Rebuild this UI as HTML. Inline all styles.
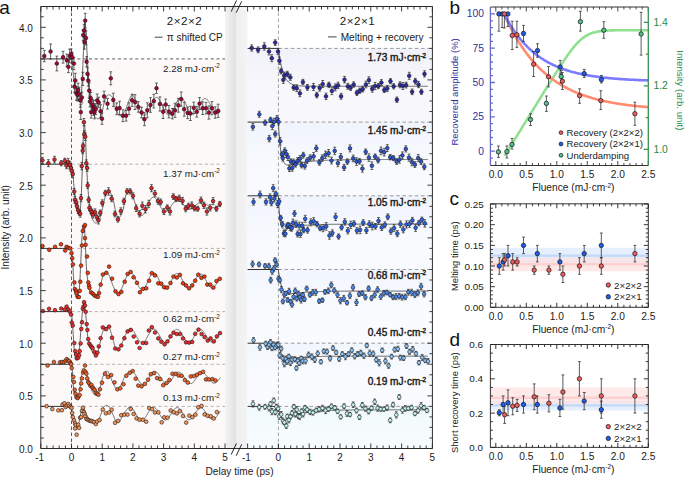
<!DOCTYPE html>
<html><head><meta charset="utf-8"><style>
html,body{margin:0;padding:0;background:#fff;width:685px;height:477px;overflow:hidden}
svg{display:block}
</style></head><body>
<svg width="685" height="477" viewBox="0 0 685 477" font-family='"Liberation Sans", sans-serif'><defs><linearGradient id="gband" x1="0" x2="1" y1="0" y2="0"><stop offset="0" stop-color="#f4f3f3"/><stop offset="0.49" stop-color="#e1e1e1"/><stop offset="0.51" stop-color="#efefef"/><stop offset="1" stop-color="#f4f4f6"/></linearGradient></defs>
<rect x="40.8" y="58.9" width="184.2" height="389.6" fill="#fdf9f8"/>
<rect x="247.6" y="48.4" width="184.8" height="73.7" fill="url(#rb0)"/>
<rect x="247.6" y="122.1" width="184.8" height="73.7" fill="url(#rb1)"/>
<rect x="247.6" y="195.8" width="184.8" height="73.7" fill="url(#rb2)"/>
<rect x="247.6" y="269.5" width="184.8" height="73.7" fill="url(#rb3)"/>
<rect x="247.6" y="343.2" width="184.8" height="63.2" fill="url(#rb4)"/>
<rect x="247.6" y="406.4" width="184.8" height="42.1" fill="url(#rb5)"/>
<defs><linearGradient id="rb0" x1="0" x2="0" y1="0" y2="1"><stop offset="0" stop-color="#f1f1fa"/><stop offset="0.6" stop-color="#f8f8fc"/><stop offset="1" stop-color="#f8f8fc"/></linearGradient><linearGradient id="rb1" x1="0" x2="0" y1="0" y2="1"><stop offset="0" stop-color="#f0f4fc"/><stop offset="0.6" stop-color="#f8fafd"/><stop offset="1" stop-color="#f8fafd"/></linearGradient><linearGradient id="rb2" x1="0" x2="0" y1="0" y2="1"><stop offset="0" stop-color="#f0f4fd"/><stop offset="0.6" stop-color="#f8fafe"/><stop offset="1" stop-color="#f8fafe"/></linearGradient><linearGradient id="rb3" x1="0" x2="0" y1="0" y2="1"><stop offset="0" stop-color="#f2f6fe"/><stop offset="0.6" stop-color="#f9fbfe"/><stop offset="1" stop-color="#f9fbfe"/></linearGradient><linearGradient id="rb4" x1="0" x2="0" y1="0" y2="1"><stop offset="0" stop-color="#f2f7fe"/><stop offset="0.6" stop-color="#f9fbfe"/><stop offset="1" stop-color="#f9fbfe"/></linearGradient><linearGradient id="rb5" x1="0" x2="0" y1="0" y2="1"><stop offset="0" stop-color="#eff9fb"/><stop offset="0.6" stop-color="#f6fcfd"/><stop offset="1" stop-color="#f6fcfd"/></linearGradient></defs>
<rect x="225.0" y="6.5" width="22.599999999999994" height="442.0" fill="url(#gband)"/>
<line x1="71.5" x2="225.0" y1="58.9" y2="58.9" stroke="#3a3a3a" stroke-width="0.8" stroke-dasharray="3.1 2.7"/>
<line x1="71.5" x2="225.0" y1="164.2" y2="164.2" stroke="#a0a0a0" stroke-width="0.8" stroke-dasharray="3.1 2.7"/>
<line x1="71.5" x2="225.0" y1="248.4" y2="248.4" stroke="#a0a0a0" stroke-width="0.8" stroke-dasharray="3.1 2.7"/>
<line x1="71.5" x2="225.0" y1="311.6" y2="311.6" stroke="#a0a0a0" stroke-width="0.8" stroke-dasharray="3.1 2.7"/>
<line x1="71.5" x2="225.0" y1="364.3" y2="364.3" stroke="#a0a0a0" stroke-width="0.8" stroke-dasharray="3.1 2.7"/>
<line x1="71.5" x2="225.0" y1="406.4" y2="406.4" stroke="#a0a0a0" stroke-width="0.8" stroke-dasharray="3.1 2.7"/>
<line x1="278.4" x2="432.4" y1="48.4" y2="48.4" stroke="#909090" stroke-width="0.9" stroke-dasharray="3.6 2.6"/>
<line x1="278.4" x2="432.4" y1="122.1" y2="122.1" stroke="#909090" stroke-width="0.9" stroke-dasharray="3.6 2.6"/>
<line x1="278.4" x2="432.4" y1="195.8" y2="195.8" stroke="#909090" stroke-width="0.9" stroke-dasharray="3.6 2.6"/>
<line x1="278.4" x2="432.4" y1="269.5" y2="269.5" stroke="#909090" stroke-width="0.9" stroke-dasharray="3.6 2.6"/>
<line x1="278.4" x2="432.4" y1="343.2" y2="343.2" stroke="#909090" stroke-width="0.9" stroke-dasharray="3.6 2.6"/>
<line x1="278.4" x2="432.4" y1="406.4" y2="406.4" stroke="#909090" stroke-width="0.9" stroke-dasharray="3.6 2.6"/>
<line x1="71.5" x2="71.5" y1="6.5" y2="448.5" stroke="#333" stroke-width="0.8" stroke-dasharray="3.5 2.5"/>
<line x1="278.4" x2="278.4" y1="6.5" y2="448.5" stroke="#8a8a8a" stroke-width="0.8" stroke-dasharray="3.5 2.5"/>
<text x="219.8" y="71.5" font-size="9.8" text-anchor="end" fill="#1a1a1a">2.28 mJ·cm<tspan font-size="6.3" dy="-3.3">-2</tspan></text>
<text x="219.8" y="176.5" font-size="9.8" text-anchor="end" fill="#1a1a1a">1.37 mJ·cm<tspan font-size="6.3" dy="-3.3">-2</tspan></text>
<text x="219.8" y="258.4" font-size="9.8" text-anchor="end" fill="#1a1a1a">1.09 mJ·cm<tspan font-size="6.3" dy="-3.3">-2</tspan></text>
<text x="219.8" y="321.8" font-size="9.8" text-anchor="end" fill="#1a1a1a">0.62 mJ·cm<tspan font-size="6.3" dy="-3.3">-2</tspan></text>
<text x="219.8" y="360.0" font-size="9.8" text-anchor="end" fill="#1a1a1a">0.27 mJ·cm<tspan font-size="6.3" dy="-3.3">-2</tspan></text>
<text x="219.8" y="401.0" font-size="9.8" text-anchor="end" fill="#1a1a1a">0.13 mJ·cm<tspan font-size="6.3" dy="-3.3">-2</tspan></text>
<text x="426" y="61.1" font-size="10.1" text-anchor="end" fill="#1a1a1a" stroke="#1a1a1a" stroke-width="0.4">1.73 mJ·cm<tspan font-size="6.3" dy="-3.3">-2</tspan></text>
<text x="426" y="134.1" font-size="10.1" text-anchor="end" fill="#1a1a1a" stroke="#1a1a1a" stroke-width="0.4">1.45 mJ·cm<tspan font-size="6.3" dy="-3.3">-2</tspan></text>
<text x="426" y="205.9" font-size="10.1" text-anchor="end" fill="#1a1a1a" stroke="#1a1a1a" stroke-width="0.4">1.05 mJ·cm<tspan font-size="6.3" dy="-3.3">-2</tspan></text>
<text x="426" y="278.6" font-size="10.1" text-anchor="end" fill="#1a1a1a" stroke="#1a1a1a" stroke-width="0.4">0.68 mJ·cm<tspan font-size="6.3" dy="-3.3">-2</tspan></text>
<text x="426" y="335.8" font-size="10.1" text-anchor="end" fill="#1a1a1a" stroke="#1a1a1a" stroke-width="0.4">0.45 mJ·cm<tspan font-size="6.3" dy="-3.3">-2</tspan></text>
<text x="426" y="385.0" font-size="10.1" text-anchor="end" fill="#1a1a1a" stroke="#1a1a1a" stroke-width="0.4">0.19 mJ·cm<tspan font-size="6.3" dy="-3.3">-2</tspan></text>
<line x1="40.8" x2="71.5" y1="58.9" y2="58.9" stroke="#333" stroke-width="1"/>
<polyline fill="none" points="71.5,58.9 71.7,61.2 72.0,63.4 72.2,65.5 72.5,67.6 72.7,69.7 73.0,71.7 73.2,73.6 73.5,75.5 73.7,77.3 74.0,79.1 74.2,80.8 74.5,82.5 74.7,84.2 75.0,85.9 75.2,87.5 75.5,89.0 75.7,90.4 76.0,91.7 76.2,92.9 76.5,93.9 76.7,94.8 77.0,95.7 77.2,96.5 77.5,97.3 77.7,98.1 78.0,98.7 78.2,99.2 78.5,99.7 78.7,100.0 79.0,100.2 79.2,100.4 79.5,100.5 79.7,100.7 80.0,100.8 80.2,100.9 80.4,101.0 80.7,101.0 80.9,100.2 81.2,97.9 81.4,94.4 81.7,90.0 81.9,85.1 82.2,79.9 82.4,74.8 82.7,69.9 82.9,64.3 83.2,58.1 83.4,51.6 83.7,45.3 83.9,39.2 84.2,33.7 84.4,27.4 84.7,22.4 84.9,21.1 85.2,22.5 85.4,25.0 85.7,27.8 85.9,31.5 86.2,35.9 86.4,40.7 86.7,45.3 86.9,50.2 87.2,55.1 87.4,60.0 87.7,64.7 87.9,69.6 88.2,74.6 88.4,79.3 88.7,83.5 88.9,87.2 89.1,90.1 89.4,92.8 89.6,95.3 89.9,97.7 90.1,99.9 90.4,101.9 90.6,103.7 90.9,105.3 91.1,106.6 91.4,107.7 91.6,108.7 91.9,109.6 92.1,110.5 92.4,111.4 92.6,112.2 92.9,112.9 93.1,113.6 93.4,114.3 93.6,114.8 93.9,115.4 94.1,115.8 94.4,116.2 94.6,116.6 94.9,116.8 95.1,117.1 95.4,117.3 95.6,117.6 95.9,117.8 96.1,118.0 96.4,118.2 96.6,118.3 96.9,118.5 97.1,118.6 97.4,118.7 97.6,118.8 97.8,118.9 98.1,118.9 98.3,118.9 98.6,118.8 98.8,118.6 99.1,118.4 99.3,118.1 99.6,117.7 99.8,117.3 100.1,116.9 100.3,116.4 100.6,115.9 100.8,115.3 101.1,114.8 101.3,114.2 101.6,113.7 101.8,113.0 102.1,112.2 102.3,111.2 102.6,110.1 102.8,109.0 103.1,107.8 103.3,106.5 103.6,105.3 103.8,104.1 104.1,103.0 104.3,102.0 104.6,101.1 104.8,100.3 105.1,99.8 105.3,99.2 105.6,98.7 105.8,98.2 106.1,97.7 106.3,97.2 106.5,96.8 106.8,96.4 107.0,96.0 107.3,95.6 107.5,95.3 107.8,95.1 108.0,94.9 108.3,94.8 108.5,94.7 108.8,94.7 109.0,94.7 109.3,94.8 109.5,94.9 109.8,95.0 110.0,95.1 110.3,95.3 110.5,95.4 110.8,95.6 111.0,95.8 111.3,96.1 111.5,96.3 111.8,96.5 112.0,96.8 112.3,97.1 112.5,97.6 112.8,98.3 113.0,99.0 113.3,99.8 113.5,100.7 113.8,101.7 114.0,102.7 114.3,103.6 114.5,104.5 114.8,105.4 115.0,106.2 115.2,106.9 115.5,107.6 115.7,108.2 116.0,108.8 116.2,109.4 116.5,110.0 116.7,110.6 117.0,111.2 117.2,111.8 117.5,112.4 117.7,113.0 118.0,113.5 118.2,113.9 118.5,114.4 118.7,114.8 119.0,115.1 119.2,115.4 119.5,115.6 119.7,115.7 120.0,115.8 120.2,115.7 120.5,115.7 120.7,115.6 121.0,115.5 121.2,115.3 121.5,115.2 121.7,115.0 122.0,114.8 122.2,114.5 122.5,114.3 122.7,114.0 123.0,113.7 123.2,113.4 123.5,113.1 123.7,112.8 123.9,112.4 124.2,112.1 124.4,111.8 124.7,111.4 124.9,111.0 125.2,110.6 125.4,110.0 125.7,109.5 125.9,108.9 126.2,108.2 126.4,107.5 126.7,106.8 126.9,106.1 127.2,105.3 127.4,104.6 127.7,103.9 127.9,103.2 128.2,102.5 128.4,101.8 128.7,101.2 128.9,100.6 129.2,100.1 129.4,99.5 129.7,99.0 129.9,98.4 130.2,97.9 130.4,97.3 130.7,96.7 130.9,96.2 131.2,95.8 131.4,95.4 131.7,95.1 131.9,94.8 132.2,94.7 132.4,94.7 132.6,94.8 132.9,95.0 133.1,95.3 133.4,95.7 133.6,96.1 133.9,96.6 134.1,97.2 134.4,97.7 134.6,98.2 134.9,98.8 135.1,99.3 135.4,99.7 135.6,100.2 135.9,100.7 136.1,101.2 136.4,101.7 136.6,102.2 136.9,102.8 137.1,103.3 137.4,103.9 137.6,104.5 137.9,105.1 138.1,105.7 138.4,106.3 138.6,106.9 138.9,107.5 139.1,108.1 139.4,108.7 139.6,109.3 139.9,109.8 140.1,110.3 140.4,110.9 140.6,111.4 140.9,111.9 141.1,112.3 141.3,112.8 141.6,113.2 141.8,113.5 142.1,113.9 142.3,114.2 142.6,114.5 142.8,114.8 143.1,114.9 143.3,115.1 143.6,115.2 143.8,115.3 144.1,115.4 144.3,115.4 144.6,115.4 144.8,115.4 145.1,115.3 145.3,115.2 145.6,115.0 145.8,114.8 146.1,114.6 146.3,114.3 146.6,114.0 146.8,113.7 147.1,113.3 147.3,112.9 147.6,112.5 147.8,112.1 148.1,111.6 148.3,111.1 148.6,110.6 148.8,110.1 149.1,109.5 149.3,109.0 149.6,108.4 149.8,107.9 150.0,107.3 150.3,106.7 150.5,106.1 150.8,105.5 151.0,105.0 151.3,104.4 151.5,103.8 151.8,103.3 152.0,102.7 152.3,102.2 152.5,101.7 152.8,101.2 153.0,100.8 153.3,100.3 153.5,99.9 153.8,99.5 154.0,99.2 154.3,98.8 154.5,98.5 154.8,98.2 155.0,98.0 155.3,97.8 155.5,97.7 155.8,97.6 156.0,97.6 156.3,97.5 156.5,97.5 156.8,97.4 157.0,97.5 157.3,97.5 157.5,97.7 157.8,97.9 158.0,98.1 158.3,98.3 158.5,98.5 158.7,98.8 159.0,99.2 159.2,99.5 159.5,99.9 159.7,100.3 160.0,100.8 160.2,101.2 160.5,101.7 160.7,102.2 161.0,102.7 161.2,103.2 161.5,103.8 161.7,104.3 162.0,104.9 162.2,105.4 162.5,106.0 162.7,106.6 163.0,107.1 163.2,107.7 163.5,108.2 163.7,108.8 164.0,109.3 164.2,109.8 164.5,110.3 164.7,110.8 165.0,111.2 165.2,111.7 165.5,112.1 165.7,112.5 166.0,112.9 166.2,113.2 166.5,113.5 166.7,113.8 167.0,114.1 167.2,114.3 167.4,114.5 167.7,114.6 167.9,114.6 168.2,114.7 168.4,114.7 168.7,114.8 168.9,114.8 169.2,114.8 169.4,114.7 169.7,114.6 169.9,114.4 170.2,114.2 170.4,113.9 170.7,113.7 170.9,113.4 171.2,113.1 171.4,112.7 171.7,112.3 171.9,111.9 172.2,111.5 172.4,111.1 172.7,110.6 172.9,110.1 173.2,109.6 173.4,109.1 173.7,108.6 173.9,108.1 174.2,107.5 174.4,107.0 174.7,106.4 174.9,105.9 175.2,105.3 175.4,104.8 175.7,104.3 175.9,103.8 176.1,103.2 176.4,102.7 176.6,102.3 176.9,101.8 177.1,101.4 177.4,100.9 177.6,100.5 177.9,100.1 178.1,99.8 178.4,99.5 178.6,99.2 178.9,98.9 179.1,98.6 179.4,98.4 179.6,98.3 179.9,98.2 180.1,98.2 180.4,98.1 180.6,98.1 180.9,98.1 181.1,98.1 181.4,98.1 181.6,98.1 181.9,98.2 182.1,98.4 182.4,98.7 182.6,98.9 182.9,99.2 183.1,99.4 183.4,99.8 183.6,100.1 183.9,100.5 184.1,100.9 184.4,101.3 184.6,101.7 184.8,102.2 185.1,102.7 185.3,103.1 185.6,103.7 185.8,104.2 186.1,104.7 186.3,105.2 186.6,105.7 186.8,106.2 187.1,106.8 187.3,107.3 187.6,107.8 187.8,108.3 188.1,108.8 188.3,109.3 188.6,109.8 188.8,110.3 189.1,110.7 189.3,111.1 189.6,111.5 189.8,111.9 190.1,112.3 190.3,112.6 190.6,112.9 190.8,113.2 191.1,113.4 191.3,113.7 191.6,113.9 191.8,114.1 192.1,114.2 192.3,114.2 192.6,114.2 192.8,114.2 193.1,114.2 193.3,114.2 193.5,114.1 193.8,114.1 194.0,114.0 194.3,113.8 194.5,113.6 194.8,113.4 195.0,113.1 195.3,112.8 195.5,112.5 195.8,112.2 196.0,111.8 196.3,111.4 196.5,111.0 196.8,110.6 197.0,110.1 197.3,109.7 197.5,109.2 197.8,108.7 198.0,108.2 198.3,107.7 198.5,107.2 198.8,106.7 199.0,106.2 199.3,105.7 199.5,105.2 199.8,104.7 200.0,104.2 200.3,103.7 200.5,103.2 200.8,102.8 201.0,102.3 201.3,101.9 201.5,101.5 201.8,101.1 202.0,100.7 202.2,100.4 202.5,100.1 202.7,99.8 203.0,99.5 203.2,99.3 203.5,99.1 203.7,98.9 204.0,98.7 204.2,98.6 204.5,98.6 204.7,98.6 205.0,98.6 205.2,98.6 205.5,98.7 205.7,98.7 206.0,98.7 206.2,98.8 206.5,99.0 206.7,99.2 207.0,99.5 207.2,99.7 207.5,100.0 207.7,100.3 208.0,100.6 208.2,101.0 208.5,101.4 208.7,101.8 209.0,102.2 209.2,102.6 209.5,103.1 209.7,103.5 210.0,104.0 210.2,104.5 210.5,105.0 210.7,105.5 210.9,106.0 211.2,106.4 211.4,106.9 211.7,107.4 211.9,107.9 212.2,108.4 212.4,108.8 212.7,109.3 212.9,109.8 213.2,110.2 213.4,110.6 213.7,111.0 213.9,111.3 214.2,111.7 214.4,112.0 214.7,112.4 214.9,112.6 215.2,112.9 215.4,113.1 215.7,113.3 215.9,113.4 216.2,113.6 216.4,113.7 216.7,113.8 216.9,113.8 217.2,113.7 217.4,113.7 217.7,113.6 217.9,113.6 218.2,113.5 218.4,113.4 218.7,113.3 218.9,113.1 219.2,112.8 219.4,112.5 219.6,112.3 219.9,112.0 220.1,111.6 220.4,111.3" stroke="#666" stroke-width="1"/>
<path d="M44.3 50.3V61.7M42.9 50.3h2.8M42.9 61.7h2.8" stroke="#333" stroke-width="0.75" fill="none"/><path d="M50.6 44.0V59.0M49.2 44.0h2.8M49.2 59.0h2.8" stroke="#333" stroke-width="0.75" fill="none"/><path d="M56.8 56.1V70.9M55.4 56.1h2.8M55.4 70.9h2.8" stroke="#333" stroke-width="0.75" fill="none"/><path d="M63.1 51.3V63.1M61.7 51.3h2.8M61.7 63.1h2.8" stroke="#333" stroke-width="0.75" fill="none"/><path d="M66.9 54.1V66.5M65.5 54.1h2.8M65.5 66.5h2.8" stroke="#333" stroke-width="0.75" fill="none"/><path d="M68.4 61.0V72.6M67.0 61.0h2.8M67.0 72.6h2.8" stroke="#333" stroke-width="0.75" fill="none"/><path d="M69.6 49.1V62.9M68.2 49.1h2.8M68.2 62.9h2.8" stroke="#333" stroke-width="0.75" fill="none"/><path d="M71.2 49.0V59.4M69.8 49.0h2.8M69.8 59.4h2.8" stroke="#333" stroke-width="0.75" fill="none"/><path d="M72.2 52.0V62.4M70.8 52.0h2.8M70.8 62.4h2.8" stroke="#333" stroke-width="0.75" fill="none"/><path d="M73.9 57.4V69.6M72.5 57.4h2.8M72.5 69.6h2.8" stroke="#333" stroke-width="0.75" fill="none"/><path d="M74.4 80.9V92.3M73.0 80.9h2.8M73.0 92.3h2.8" stroke="#333" stroke-width="0.75" fill="none"/><path d="M75.3 73.3V87.7M73.9 73.3h2.8M73.9 87.7h2.8" stroke="#333" stroke-width="0.75" fill="none"/><path d="M76.4 86.4V100.2M75.0 86.4h2.8M75.0 100.2h2.8" stroke="#333" stroke-width="0.75" fill="none"/><path d="M77.4 88.1V100.9M76.0 88.1h2.8M76.0 100.9h2.8" stroke="#333" stroke-width="0.75" fill="none"/><path d="M78.1 83.2V96.6M76.7 83.2h2.8M76.7 96.6h2.8" stroke="#333" stroke-width="0.75" fill="none"/><path d="M79.1 87.2V100.8M77.7 87.2h2.8M77.7 100.8h2.8" stroke="#333" stroke-width="0.75" fill="none"/><path d="M80.3 93.3V107.3M78.9 93.3h2.8M78.9 107.3h2.8" stroke="#333" stroke-width="0.75" fill="none"/><path d="M80.8 104.7V119.5M79.4 104.7h2.8M79.4 119.5h2.8" stroke="#333" stroke-width="0.75" fill="none"/><path d="M81.9 92.1V102.9M80.5 92.1h2.8M80.5 102.9h2.8" stroke="#333" stroke-width="0.75" fill="none"/><path d="M82.8 72.3V85.5M81.4 72.3h2.8M81.4 85.5h2.8" stroke="#333" stroke-width="0.75" fill="none"/><path d="M83.2 29.7V40.5M81.8 29.7h2.8M81.8 40.5h2.8" stroke="#333" stroke-width="0.75" fill="none"/><path d="M84.0 24.3V36.7M82.6 24.3h2.8M82.6 36.7h2.8" stroke="#333" stroke-width="0.75" fill="none"/><path d="M84.5 35.2V49.2M83.1 35.2h2.8M83.1 49.2h2.8" stroke="#333" stroke-width="0.75" fill="none"/><path d="M85.2 13.3V27.9M83.8 13.3h2.8M83.8 27.9h2.8" stroke="#333" stroke-width="0.75" fill="none"/><path d="M86.0 31.0V45.0M84.6 31.0h2.8M84.6 45.0h2.8" stroke="#333" stroke-width="0.75" fill="none"/><path d="M86.6 56.6V66.8M85.2 56.6h2.8M85.2 66.8h2.8" stroke="#333" stroke-width="0.75" fill="none"/><path d="M87.5 67.8V79.8M86.1 67.8h2.8M86.1 79.8h2.8" stroke="#333" stroke-width="0.75" fill="none"/><path d="M88.3 75.2V86.2M86.9 75.2h2.8M86.9 86.2h2.8" stroke="#333" stroke-width="0.75" fill="none"/><path d="M89.2 83.0V98.2M87.8 83.0h2.8M87.8 98.2h2.8" stroke="#333" stroke-width="0.75" fill="none"/><path d="M90.0 96.1V106.9M88.6 96.1h2.8M88.6 106.9h2.8" stroke="#333" stroke-width="0.75" fill="none"/><path d="M90.7 92.5V103.9M89.3 92.5h2.8M89.3 103.9h2.8" stroke="#333" stroke-width="0.75" fill="none"/><path d="M91.2 106.1V118.1M89.8 106.1h2.8M89.8 118.1h2.8" stroke="#333" stroke-width="0.75" fill="none"/><path d="M92.8 99.7V110.1M91.4 99.7h2.8M91.4 110.1h2.8" stroke="#333" stroke-width="0.75" fill="none"/><path d="M93.6 100.7V115.3M92.2 100.7h2.8M92.2 115.3h2.8" stroke="#333" stroke-width="0.75" fill="none"/><path d="M94.5 105.4V118.8M93.1 105.4h2.8M93.1 118.8h2.8" stroke="#333" stroke-width="0.75" fill="none"/><path d="M95.7 103.6V114.6M94.3 103.6h2.8M94.3 114.6h2.8" stroke="#333" stroke-width="0.75" fill="none"/><path d="M97.2 94.0V106.6M95.8 94.0h2.8M95.8 106.6h2.8" stroke="#333" stroke-width="0.75" fill="none"/><path d="M98.7 97.2V107.8M97.3 97.2h2.8M97.3 107.8h2.8" stroke="#333" stroke-width="0.75" fill="none"/><path d="M100.6 104.7V117.9M99.2 104.7h2.8M99.2 117.9h2.8" stroke="#333" stroke-width="0.75" fill="none"/><path d="M102.0 113.1V124.3M100.6 113.1h2.8M100.6 124.3h2.8" stroke="#333" stroke-width="0.75" fill="none"/><path d="M104.1 91.2V101.6M102.7 91.2h2.8M102.7 101.6h2.8" stroke="#333" stroke-width="0.75" fill="none"/><path d="M107.5 98.4V109.0M106.1 98.4h2.8M106.1 109.0h2.8" stroke="#333" stroke-width="0.75" fill="none"/><path d="M110.8 71.8V84.8M109.4 71.8h2.8M109.4 84.8h2.8" stroke="#333" stroke-width="0.75" fill="none"/><path d="M113.3 93.2V106.6M111.9 93.2h2.8M111.9 106.6h2.8" stroke="#333" stroke-width="0.75" fill="none"/><path d="M116.7 102.9V114.7M115.3 102.9h2.8M115.3 114.7h2.8" stroke="#333" stroke-width="0.75" fill="none"/><path d="M119.6 101.3V114.7M118.2 101.3h2.8M118.2 114.7h2.8" stroke="#333" stroke-width="0.75" fill="none"/><path d="M122.9 109.8V121.6M121.5 109.8h2.8M121.5 121.6h2.8" stroke="#333" stroke-width="0.75" fill="none"/><path d="M126.1 110.3V121.1M124.7 110.3h2.8M124.7 121.1h2.8" stroke="#333" stroke-width="0.75" fill="none"/><path d="M129.0 102.8V114.6M127.6 102.8h2.8M127.6 114.6h2.8" stroke="#333" stroke-width="0.75" fill="none"/><path d="M132.1 94.2V106.4M130.7 94.2h2.8M130.7 106.4h2.8" stroke="#333" stroke-width="0.75" fill="none"/><path d="M135.0 94.7V109.5M133.6 94.7h2.8M133.6 109.5h2.8" stroke="#333" stroke-width="0.75" fill="none"/><path d="M138.3 101.6V112.2M136.9 101.6h2.8M136.9 112.2h2.8" stroke="#333" stroke-width="0.75" fill="none"/><path d="M141.6 107.2V117.8M140.2 107.2h2.8M140.2 117.8h2.8" stroke="#333" stroke-width="0.75" fill="none"/><path d="M144.4 112.7V125.7M143.0 112.7h2.8M143.0 125.7h2.8" stroke="#333" stroke-width="0.75" fill="none"/><path d="M147.3 102.8V117.8M145.9 102.8h2.8M145.9 117.8h2.8" stroke="#333" stroke-width="0.75" fill="none"/><path d="M150.5 97.7V112.3M149.1 97.7h2.8M149.1 112.3h2.8" stroke="#333" stroke-width="0.75" fill="none"/><path d="M153.8 94.3V107.9M152.4 94.3h2.8M152.4 107.9h2.8" stroke="#333" stroke-width="0.75" fill="none"/><path d="M156.5 83.0V93.4M155.1 83.0h2.8M155.1 93.4h2.8" stroke="#333" stroke-width="0.75" fill="none"/><path d="M159.9 96.9V111.1M158.5 96.9h2.8M158.5 111.1h2.8" stroke="#333" stroke-width="0.75" fill="none"/><path d="M163.1 104.9V118.5M161.7 104.9h2.8M161.7 118.5h2.8" stroke="#333" stroke-width="0.75" fill="none"/><path d="M165.7 99.1V109.9M164.3 99.1h2.8M164.3 109.9h2.8" stroke="#333" stroke-width="0.75" fill="none"/><path d="M168.9 105.5V117.9M167.5 105.5h2.8M167.5 117.9h2.8" stroke="#333" stroke-width="0.75" fill="none"/><path d="M172.3 108.5V118.9M170.9 108.5h2.8M170.9 118.9h2.8" stroke="#333" stroke-width="0.75" fill="none"/><path d="M175.0 103.2V117.4M173.6 103.2h2.8M173.6 117.4h2.8" stroke="#333" stroke-width="0.75" fill="none"/><path d="M178.3 98.4V112.2M176.9 98.4h2.8M176.9 112.2h2.8" stroke="#333" stroke-width="0.75" fill="none"/><path d="M181.2 92.0V106.2M179.8 92.0h2.8M179.8 106.2h2.8" stroke="#333" stroke-width="0.75" fill="none"/><path d="M184.2 102.2V116.2M182.8 102.2h2.8M182.8 116.2h2.8" stroke="#333" stroke-width="0.75" fill="none"/><path d="M187.6 107.2V118.6M186.2 107.2h2.8M186.2 118.6h2.8" stroke="#333" stroke-width="0.75" fill="none"/><path d="M190.4 106.3V120.5M189.0 106.3h2.8M189.0 120.5h2.8" stroke="#333" stroke-width="0.75" fill="none"/><path d="M193.8 102.1V113.5M192.4 102.1h2.8M192.4 113.5h2.8" stroke="#333" stroke-width="0.75" fill="none"/><path d="M196.8 106.3V117.1M195.4 106.3h2.8M195.4 117.1h2.8" stroke="#333" stroke-width="0.75" fill="none"/><path d="M199.6 97.6V109.6M198.2 97.6h2.8M198.2 109.6h2.8" stroke="#333" stroke-width="0.75" fill="none"/><path d="M202.7 101.9V114.5M201.3 101.9h2.8M201.3 114.5h2.8" stroke="#333" stroke-width="0.75" fill="none"/><path d="M206.0 102.4V114.0M204.6 102.4h2.8M204.6 114.0h2.8" stroke="#333" stroke-width="0.75" fill="none"/><path d="M208.9 105.9V119.1M207.5 105.9h2.8M207.5 119.1h2.8" stroke="#333" stroke-width="0.75" fill="none"/><path d="M211.9 101.6V114.8M210.5 101.6h2.8M210.5 114.8h2.8" stroke="#333" stroke-width="0.75" fill="none"/><path d="M215.2 106.8V118.2M213.8 106.8h2.8M213.8 118.2h2.8" stroke="#333" stroke-width="0.75" fill="none"/><path d="M218.1 104.2V117.4M216.7 104.2h2.8M216.7 117.4h2.8" stroke="#333" stroke-width="0.75" fill="none"/><circle cx="44.3" cy="56.0" r="1.85" fill="#ad0036" stroke="#151515" stroke-width="0.6"/><circle cx="50.6" cy="51.5" r="1.85" fill="#ad0036" stroke="#151515" stroke-width="0.6"/><circle cx="56.8" cy="63.5" r="1.85" fill="#ad0036" stroke="#151515" stroke-width="0.6"/><circle cx="63.1" cy="57.2" r="1.85" fill="#ad0036" stroke="#151515" stroke-width="0.6"/><circle cx="66.9" cy="60.3" r="1.85" fill="#ad0036" stroke="#151515" stroke-width="0.6"/><circle cx="68.4" cy="66.8" r="1.85" fill="#ad0036" stroke="#151515" stroke-width="0.6"/><circle cx="69.6" cy="56.0" r="1.85" fill="#ad0036" stroke="#151515" stroke-width="0.6"/><circle cx="71.2" cy="54.2" r="1.85" fill="#ad0036" stroke="#151515" stroke-width="0.6"/><circle cx="72.2" cy="57.2" r="1.85" fill="#ad0036" stroke="#151515" stroke-width="0.6"/><circle cx="73.9" cy="63.5" r="1.85" fill="#ad0036" stroke="#151515" stroke-width="0.6"/><circle cx="74.4" cy="86.6" r="1.85" fill="#ad0036" stroke="#151515" stroke-width="0.6"/><circle cx="75.3" cy="80.5" r="1.85" fill="#ad0036" stroke="#151515" stroke-width="0.6"/><circle cx="76.4" cy="93.3" r="1.85" fill="#ad0036" stroke="#151515" stroke-width="0.6"/><circle cx="77.4" cy="94.5" r="1.85" fill="#ad0036" stroke="#151515" stroke-width="0.6"/><circle cx="78.1" cy="89.9" r="1.85" fill="#ad0036" stroke="#151515" stroke-width="0.6"/><circle cx="79.1" cy="94.0" r="1.85" fill="#ad0036" stroke="#151515" stroke-width="0.6"/><circle cx="80.3" cy="100.3" r="1.85" fill="#ad0036" stroke="#151515" stroke-width="0.6"/><circle cx="80.8" cy="112.1" r="1.85" fill="#ad0036" stroke="#151515" stroke-width="0.6"/><circle cx="81.9" cy="97.5" r="1.85" fill="#ad0036" stroke="#151515" stroke-width="0.6"/><circle cx="82.8" cy="78.9" r="1.85" fill="#ad0036" stroke="#151515" stroke-width="0.6"/><circle cx="83.2" cy="35.1" r="1.85" fill="#ad0036" stroke="#151515" stroke-width="0.6"/><circle cx="84.0" cy="30.5" r="1.85" fill="#ad0036" stroke="#151515" stroke-width="0.6"/><circle cx="84.5" cy="42.2" r="1.85" fill="#ad0036" stroke="#151515" stroke-width="0.6"/><circle cx="85.2" cy="20.6" r="1.85" fill="#ad0036" stroke="#151515" stroke-width="0.6"/><circle cx="86.0" cy="38.0" r="1.85" fill="#ad0036" stroke="#151515" stroke-width="0.6"/><circle cx="86.6" cy="61.7" r="1.85" fill="#ad0036" stroke="#151515" stroke-width="0.6"/><circle cx="87.5" cy="73.8" r="1.85" fill="#ad0036" stroke="#151515" stroke-width="0.6"/><circle cx="88.3" cy="80.7" r="1.85" fill="#ad0036" stroke="#151515" stroke-width="0.6"/><circle cx="89.2" cy="90.6" r="1.85" fill="#ad0036" stroke="#151515" stroke-width="0.6"/><circle cx="90.0" cy="101.5" r="1.85" fill="#ad0036" stroke="#151515" stroke-width="0.6"/><circle cx="90.7" cy="98.2" r="1.85" fill="#ad0036" stroke="#151515" stroke-width="0.6"/><circle cx="91.2" cy="112.1" r="1.85" fill="#ad0036" stroke="#151515" stroke-width="0.6"/><circle cx="92.8" cy="104.9" r="1.85" fill="#ad0036" stroke="#151515" stroke-width="0.6"/><circle cx="93.6" cy="108.0" r="1.85" fill="#ad0036" stroke="#151515" stroke-width="0.6"/><circle cx="94.5" cy="112.1" r="1.85" fill="#ad0036" stroke="#151515" stroke-width="0.6"/><circle cx="95.7" cy="109.1" r="1.85" fill="#ad0036" stroke="#151515" stroke-width="0.6"/><circle cx="97.2" cy="100.3" r="1.85" fill="#ad0036" stroke="#151515" stroke-width="0.6"/><circle cx="98.7" cy="102.5" r="1.85" fill="#ad0036" stroke="#151515" stroke-width="0.6"/><circle cx="100.6" cy="111.3" r="1.85" fill="#ad0036" stroke="#151515" stroke-width="0.6"/><circle cx="102.0" cy="118.7" r="1.85" fill="#ad0036" stroke="#151515" stroke-width="0.6"/><circle cx="104.1" cy="96.4" r="1.85" fill="#ad0036" stroke="#151515" stroke-width="0.6"/><circle cx="107.5" cy="103.7" r="1.85" fill="#ad0036" stroke="#151515" stroke-width="0.6"/><circle cx="110.8" cy="78.3" r="1.85" fill="#ad0036" stroke="#151515" stroke-width="0.6"/><circle cx="113.3" cy="99.9" r="1.85" fill="#ad0036" stroke="#151515" stroke-width="0.6"/><circle cx="116.7" cy="108.8" r="1.85" fill="#ad0036" stroke="#151515" stroke-width="0.6"/><circle cx="119.6" cy="108.0" r="1.85" fill="#ad0036" stroke="#151515" stroke-width="0.6"/><circle cx="122.9" cy="115.7" r="1.85" fill="#ad0036" stroke="#151515" stroke-width="0.6"/><circle cx="126.1" cy="115.7" r="1.85" fill="#ad0036" stroke="#151515" stroke-width="0.6"/><circle cx="129.0" cy="108.7" r="1.85" fill="#ad0036" stroke="#151515" stroke-width="0.6"/><circle cx="132.1" cy="100.3" r="1.85" fill="#ad0036" stroke="#151515" stroke-width="0.6"/><circle cx="135.0" cy="102.1" r="1.85" fill="#ad0036" stroke="#151515" stroke-width="0.6"/><circle cx="138.3" cy="106.9" r="1.85" fill="#ad0036" stroke="#151515" stroke-width="0.6"/><circle cx="141.6" cy="112.5" r="1.85" fill="#ad0036" stroke="#151515" stroke-width="0.6"/><circle cx="144.4" cy="119.2" r="1.85" fill="#ad0036" stroke="#151515" stroke-width="0.6"/><circle cx="147.3" cy="110.3" r="1.85" fill="#ad0036" stroke="#151515" stroke-width="0.6"/><circle cx="150.5" cy="105.0" r="1.85" fill="#ad0036" stroke="#151515" stroke-width="0.6"/><circle cx="153.8" cy="101.1" r="1.85" fill="#ad0036" stroke="#151515" stroke-width="0.6"/><circle cx="156.5" cy="88.2" r="1.85" fill="#ad0036" stroke="#151515" stroke-width="0.6"/><circle cx="159.9" cy="104.0" r="1.85" fill="#ad0036" stroke="#151515" stroke-width="0.6"/><circle cx="163.1" cy="111.7" r="1.85" fill="#ad0036" stroke="#151515" stroke-width="0.6"/><circle cx="165.7" cy="104.5" r="1.85" fill="#ad0036" stroke="#151515" stroke-width="0.6"/><circle cx="168.9" cy="111.7" r="1.85" fill="#ad0036" stroke="#151515" stroke-width="0.6"/><circle cx="172.3" cy="113.7" r="1.85" fill="#ad0036" stroke="#151515" stroke-width="0.6"/><circle cx="175.0" cy="110.3" r="1.85" fill="#ad0036" stroke="#151515" stroke-width="0.6"/><circle cx="178.3" cy="105.3" r="1.85" fill="#ad0036" stroke="#151515" stroke-width="0.6"/><circle cx="181.2" cy="99.1" r="1.85" fill="#ad0036" stroke="#151515" stroke-width="0.6"/><circle cx="184.2" cy="109.2" r="1.85" fill="#ad0036" stroke="#151515" stroke-width="0.6"/><circle cx="187.6" cy="112.9" r="1.85" fill="#ad0036" stroke="#151515" stroke-width="0.6"/><circle cx="190.4" cy="113.4" r="1.85" fill="#ad0036" stroke="#151515" stroke-width="0.6"/><circle cx="193.8" cy="107.8" r="1.85" fill="#ad0036" stroke="#151515" stroke-width="0.6"/><circle cx="196.8" cy="111.7" r="1.85" fill="#ad0036" stroke="#151515" stroke-width="0.6"/><circle cx="199.6" cy="103.6" r="1.85" fill="#ad0036" stroke="#151515" stroke-width="0.6"/><circle cx="202.7" cy="108.2" r="1.85" fill="#ad0036" stroke="#151515" stroke-width="0.6"/><circle cx="206.0" cy="108.2" r="1.85" fill="#ad0036" stroke="#151515" stroke-width="0.6"/><circle cx="208.9" cy="112.5" r="1.85" fill="#ad0036" stroke="#151515" stroke-width="0.6"/><circle cx="211.9" cy="108.2" r="1.85" fill="#ad0036" stroke="#151515" stroke-width="0.6"/><circle cx="215.2" cy="112.5" r="1.85" fill="#ad0036" stroke="#151515" stroke-width="0.6"/><circle cx="218.1" cy="110.8" r="1.85" fill="#ad0036" stroke="#151515" stroke-width="0.6"/>
<line x1="40.8" x2="71.5" y1="164.2" y2="164.2" stroke="#333" stroke-width="1"/>
<polyline fill="none" points="71.5,164.2 71.7,165.8 72.0,167.5 72.2,169.3 72.5,171.2 72.7,173.2 73.0,175.4 73.2,177.8 73.5,180.5 73.7,183.5 74.0,186.5 74.2,189.5 74.5,192.3 74.7,194.6 75.0,196.5 75.2,198.2 75.5,199.7 75.7,201.2 76.0,202.5 76.2,203.8 76.5,205.0 76.7,206.1 77.0,207.1 77.2,208.0 77.5,208.9 77.7,209.8 78.0,210.6 78.2,211.5 78.5,212.3 78.7,213.1 79.0,213.7 79.2,214.2 79.5,214.5 79.7,214.7 80.0,214.4 80.2,212.6 80.4,209.7 80.7,205.9 80.9,201.7 81.2,197.5 81.4,192.3 81.7,186.0 81.9,178.8 82.2,171.4 82.4,164.1 82.7,155.9 82.9,147.0 83.2,139.0 83.4,133.2 83.7,129.8 83.9,126.8 84.2,124.8 84.4,124.2 84.7,125.4 84.9,128.1 85.2,131.9 85.4,136.3 85.7,140.9 85.9,147.2 86.2,154.9 86.4,162.2 86.7,167.7 86.9,172.6 87.2,177.0 87.4,181.1 87.7,184.9 87.9,188.3 88.2,191.5 88.4,194.4 88.7,197.2 88.9,199.9 89.1,202.4 89.4,204.6 89.6,206.6 89.9,208.3 90.1,209.7 90.4,211.2 90.6,212.5 90.9,213.7 91.1,214.9 91.4,215.9 91.6,216.9 91.9,217.7 92.1,218.4 92.4,219.0 92.6,219.4 92.9,219.9 93.1,220.4 93.4,220.8 93.6,221.2 93.9,221.6 94.1,222.0 94.4,222.3 94.6,222.6 94.9,222.8 95.1,223.0 95.4,223.1 95.6,223.1 95.9,223.2 96.1,223.1 96.4,223.1 96.6,223.0 96.9,222.8 97.1,222.7 97.4,222.5 97.6,222.3 97.8,222.1 98.1,221.8 98.3,221.6 98.6,221.3 98.8,221.0 99.1,220.7 99.3,220.2 99.6,219.6 99.8,218.9 100.1,218.1 100.3,217.2 100.6,216.2 100.8,215.3 101.1,214.2 101.3,213.2 101.6,212.1 101.8,211.1 102.1,210.1 102.3,209.1 102.6,208.2 102.8,207.2 103.1,206.1 103.3,205.0 103.6,203.9 103.8,202.7 104.1,201.5 104.3,200.4 104.6,199.3 104.8,198.2 105.1,197.1 105.3,196.2 105.6,195.3 105.8,194.6 106.1,194.0 106.3,193.5 106.5,193.0 106.8,192.5 107.0,192.1 107.3,191.7 107.5,191.3 107.8,191.0 108.0,190.8 108.3,190.6 108.5,190.5 108.8,190.5 109.0,190.6 109.3,190.8 109.5,191.0 109.8,191.4 110.0,191.7 110.3,192.2 110.5,192.7 110.8,193.2 111.0,193.8 111.3,194.4 111.5,195.0 111.8,195.6 112.0,196.3 112.3,196.9 112.5,197.6 112.8,198.2 113.0,199.0 113.3,200.0 113.5,201.1 113.8,202.2 114.0,203.4 114.3,204.7 114.5,206.0 114.8,207.3 115.0,208.5 115.2,209.7 115.5,210.8 115.7,211.9 116.0,212.8 116.2,213.5 116.5,214.1 116.7,214.7 117.0,215.3 117.2,215.9 117.5,216.4 117.7,216.9 118.0,217.3 118.2,217.6 118.5,217.8 118.7,217.9 119.0,217.9 119.2,217.8 119.5,217.6 119.7,217.3 120.0,217.0 120.2,216.6 120.5,216.1 120.7,215.6 121.0,215.1 121.2,214.5 121.5,213.9 121.7,213.3 122.0,212.7 122.2,212.0 122.5,211.4 122.7,210.7 123.0,210.0 123.2,209.1 123.5,208.0 123.7,206.8 123.9,205.5 124.2,204.1 124.4,202.6 124.7,201.2 124.9,199.8 125.2,198.4 125.4,197.2 125.7,196.1 125.9,195.1 126.2,194.3 126.4,193.7 126.7,193.3 126.9,192.9 127.2,192.5 127.4,192.1 127.7,191.7 127.9,191.4 128.2,191.1 128.4,190.8 128.7,190.5 128.9,190.3 129.2,190.2 129.4,190.1 129.7,190.0 129.9,190.0 130.2,190.1 130.4,190.4 130.7,190.8 130.9,191.3 131.2,191.9 131.4,192.5 131.7,193.2 131.9,193.9 132.2,194.6 132.4,195.3 132.6,196.0 132.9,196.7 133.1,197.3 133.4,198.0 133.6,198.7 133.9,199.4 134.1,200.1 134.4,200.9 134.6,201.6 134.9,202.4 135.1,203.2 135.4,203.9 135.6,204.7 135.9,205.5 136.1,206.2 136.4,206.9 136.6,207.7 136.9,208.4 137.1,209.1 137.4,209.7 137.6,210.4 137.9,211.0 138.1,211.6 138.4,212.1 138.6,212.7 138.9,213.1 139.1,213.5 139.4,213.9 139.6,214.3 139.9,214.7 140.1,215.0 140.4,215.2 140.6,215.3 140.9,215.3 141.1,215.4 141.3,215.4 141.6,215.5 141.8,215.5 142.1,215.5 142.3,215.4 142.6,215.3 142.8,215.0 143.1,214.8 143.3,214.4 143.6,214.1 143.8,213.8 144.1,213.4 144.3,213.0 144.6,212.5 144.8,212.0 145.1,211.6 145.3,211.1 145.6,210.5 145.8,210.0 146.1,209.4 146.3,208.8 146.6,208.2 146.8,207.6 147.1,207.0 147.3,206.4 147.6,205.8 147.8,205.2 148.1,204.6 148.3,204.0 148.6,203.5 148.8,202.9 149.1,202.4 149.3,201.8 149.6,201.3 149.8,200.8 150.0,200.4 150.3,200.0 150.5,199.5 150.8,199.1 151.0,198.8 151.3,198.5 151.5,198.2 151.8,198.0 152.0,197.7 152.3,197.5 152.5,197.3 152.8,197.3 153.0,197.3 153.3,197.3 153.5,197.3 153.8,197.3 154.0,197.3 154.3,197.4 154.5,197.4 154.8,197.5 155.0,197.7 155.3,198.0 155.5,198.3 155.8,198.5 156.0,198.8 156.3,199.1 156.5,199.5 156.8,199.9 157.0,200.3 157.3,200.7 157.5,201.1 157.8,201.5 158.0,201.9 158.3,202.4 158.5,202.9 158.7,203.3 159.0,203.8 159.2,204.3 159.5,204.7 159.7,205.2 160.0,205.7 160.2,206.2 160.5,206.6 160.7,207.0 161.0,207.5 161.2,207.9 161.5,208.3 161.7,208.7 162.0,209.0 162.2,209.4 162.5,209.7 162.7,210.0 163.0,210.3 163.2,210.5 163.5,210.8 163.7,210.9 164.0,211.1 164.2,211.3 164.5,211.4 164.7,211.5 165.0,211.6 165.2,211.6 165.5,211.6 165.7,211.5 166.0,211.5 166.2,211.4 166.5,211.4 166.7,211.3 167.0,211.2 167.2,211.0 167.4,210.8 167.7,210.6 167.9,210.3 168.2,210.1 168.4,209.8 168.7,209.5 168.9,209.2 169.2,208.9 169.4,208.6 169.7,208.2 169.9,207.9 170.2,207.6 170.4,207.2 170.7,206.8 170.9,206.4 171.2,206.1 171.4,205.7 171.7,205.4 171.9,205.0 172.2,204.6 172.4,204.3 172.7,203.9 172.9,203.6 173.2,203.3 173.4,202.9 173.7,202.6 173.9,202.3 174.2,202.1 174.4,201.8 174.7,201.6 174.9,201.4 175.2,201.2 175.4,201.0 175.7,200.8 175.9,200.7 176.1,200.6 176.4,200.5 176.6,200.4 176.9,200.3 177.1,200.3 177.4,200.3 177.6,200.3 177.9,200.3 178.1,200.4 178.4,200.5 178.6,200.5 178.9,200.6 179.1,200.7 179.4,200.9 179.6,201.1 179.9,201.2 180.1,201.4 180.4,201.7 180.6,201.9 180.9,202.1 181.1,202.3 181.4,202.6 181.6,202.9 181.9,203.1 182.1,203.4 182.4,203.7 182.6,204.0 182.9,204.3 183.1,204.6 183.4,204.9 183.6,205.1 183.9,205.4 184.1,205.7 184.4,206.0 184.6,206.3 184.8,206.5 185.1,206.8 185.3,207.0 185.6,207.3 185.8,207.5 186.1,207.7 186.3,207.9 186.6,208.1 186.8,208.3 187.1,208.4 187.3,208.6 187.6,208.7 187.8,208.8 188.1,208.9 188.3,209.0 188.6,209.0 188.8,209.1 189.1,209.1 189.3,209.1 189.6,209.1 189.8,209.1 190.1,209.1 190.3,209.1 190.6,209.0 190.8,208.9 191.1,208.8 191.3,208.7 191.6,208.6 191.8,208.4 192.1,208.3 192.3,208.1 192.6,207.9 192.8,207.8 193.1,207.6 193.3,207.4 193.5,207.2 193.8,207.0 194.0,206.7 194.3,206.5 194.5,206.3 194.8,206.1 195.0,205.8 195.3,205.6 195.5,205.4 195.8,205.2 196.0,204.9 196.3,204.7 196.5,204.5 196.8,204.3 197.0,204.1 197.3,203.9 197.5,203.7 197.8,203.5 198.0,203.4 198.3,203.2 198.5,203.0 198.8,202.9 199.0,202.8 199.3,202.7 199.5,202.6 199.8,202.5 200.0,202.4 200.3,202.3 200.5,202.3 200.8,202.3 201.0,202.3 201.3,202.2 201.5,202.2 201.8,202.2 202.0,202.2 202.2,202.3 202.5,202.3 202.7,202.4 203.0,202.5 203.2,202.6 203.5,202.7 203.7,202.7 204.0,202.9 204.2,203.0 204.5,203.1 204.7,203.3 205.0,203.4 205.2,203.6 205.5,203.7 205.7,203.9 206.0,204.1 206.2,204.2 206.5,204.4 206.7,204.6 207.0,204.8 207.2,204.9 207.5,205.1 207.7,205.3 208.0,205.5 208.2,205.6 208.5,205.8 208.7,206.0 209.0,206.1 209.2,206.3 209.5,206.4 209.7,206.6 210.0,206.7 210.2,206.8 210.5,207.0 210.7,207.1 210.9,207.2 211.2,207.3 211.4,207.3 211.7,207.4 211.9,207.5 212.2,207.6 212.4,207.6 212.7,207.6 212.9,207.6 213.2,207.6 213.4,207.6 213.7,207.6 213.9,207.6 214.2,207.6 214.4,207.6 214.7,207.5 214.9,207.5 215.2,207.4 215.4,207.3 215.7,207.2 215.9,207.1 216.2,207.1 216.4,206.9 216.7,206.8 216.9,206.7 217.2,206.6 217.4,206.5 217.7,206.3 217.9,206.2 218.2,206.1 218.4,205.9 218.7,205.8 218.9,205.7 219.2,205.5 219.4,205.4 219.6,205.2 219.9,205.1 220.1,205.0 220.4,204.8" stroke="#666" stroke-width="1"/>
<path d="M42.4 157.3V163.3M41.0 157.3h2.8M41.0 163.3h2.8" stroke="#333" stroke-width="0.75" fill="none"/><path d="M48.4 159.7V166.7M47.0 159.7h2.8M47.0 166.7h2.8" stroke="#333" stroke-width="0.75" fill="none"/><path d="M54.5 156.3V162.9M53.1 156.3h2.8M53.1 162.9h2.8" stroke="#333" stroke-width="0.75" fill="none"/><path d="M61.2 160.6V165.8M59.8 160.6h2.8M59.8 165.8h2.8" stroke="#333" stroke-width="0.75" fill="none"/><path d="M64.8 158.2V163.4M63.4 158.2h2.8M63.4 163.4h2.8" stroke="#333" stroke-width="0.75" fill="none"/><path d="M66.5 162.5V168.7M65.1 162.5h2.8M65.1 168.7h2.8" stroke="#333" stroke-width="0.75" fill="none"/><path d="M68.2 158.4V165.6M66.8 158.4h2.8M66.8 165.6h2.8" stroke="#333" stroke-width="0.75" fill="none"/><path d="M69.9 161.4V168.8M68.5 161.4h2.8M68.5 168.8h2.8" stroke="#333" stroke-width="0.75" fill="none"/><path d="M70.8 165.0V171.0M69.4 165.0h2.8M69.4 171.0h2.8" stroke="#333" stroke-width="0.75" fill="none"/><path d="M71.8 167.3V174.5M70.4 167.3h2.8M70.4 174.5h2.8" stroke="#333" stroke-width="0.75" fill="none"/><path d="M72.8 170.3V177.7M71.4 170.3h2.8M71.4 177.7h2.8" stroke="#333" stroke-width="0.75" fill="none"/><path d="M74.2 188.6V194.6M72.8 188.6h2.8M72.8 194.6h2.8" stroke="#333" stroke-width="0.75" fill="none"/><path d="M74.9 196.3V203.3M73.5 196.3h2.8M73.5 203.3h2.8" stroke="#333" stroke-width="0.75" fill="none"/><path d="M76.1 199.2V205.2M74.7 199.2h2.8M74.7 205.2h2.8" stroke="#333" stroke-width="0.75" fill="none"/><path d="M76.9 203.4V208.8M75.5 203.4h2.8M75.5 208.8h2.8" stroke="#333" stroke-width="0.75" fill="none"/><path d="M78.1 206.9V213.5M76.7 206.9h2.8M76.7 213.5h2.8" stroke="#333" stroke-width="0.75" fill="none"/><path d="M79.3 210.0V215.2M77.9 210.0h2.8M77.9 215.2h2.8" stroke="#333" stroke-width="0.75" fill="none"/><path d="M80.2 210.4V217.2M78.8 210.4h2.8M78.8 217.2h2.8" stroke="#333" stroke-width="0.75" fill="none"/><path d="M81.0 194.6V201.6M79.6 194.6h2.8M79.6 201.6h2.8" stroke="#333" stroke-width="0.75" fill="none"/><path d="M81.7 162.4V169.8M80.3 162.4h2.8M80.3 169.8h2.8" stroke="#333" stroke-width="0.75" fill="none"/><path d="M82.7 147.6V153.8M81.3 147.6h2.8M81.3 153.8h2.8" stroke="#333" stroke-width="0.75" fill="none"/><path d="M83.1 143.1V148.5M81.7 143.1h2.8M81.7 148.5h2.8" stroke="#333" stroke-width="0.75" fill="none"/><path d="M83.9 118.5V125.9M82.5 118.5h2.8M82.5 125.9h2.8" stroke="#333" stroke-width="0.75" fill="none"/><path d="M84.3 130.7V137.9M82.9 130.7h2.8M82.9 137.9h2.8" stroke="#333" stroke-width="0.75" fill="none"/><path d="M85.3 133.0V140.4M83.9 133.0h2.8M83.9 140.4h2.8" stroke="#333" stroke-width="0.75" fill="none"/><path d="M86.3 159.9V166.5M84.9 159.9h2.8M84.9 166.5h2.8" stroke="#333" stroke-width="0.75" fill="none"/><path d="M87.2 164.6V171.4M85.8 164.6h2.8M85.8 171.4h2.8" stroke="#333" stroke-width="0.75" fill="none"/><path d="M87.7 182.4V188.4M86.3 182.4h2.8M86.3 188.4h2.8" stroke="#333" stroke-width="0.75" fill="none"/><path d="M88.7 197.0V202.6M87.3 197.0h2.8M87.3 202.6h2.8" stroke="#333" stroke-width="0.75" fill="none"/><path d="M89.4 204.9V210.7M88.0 204.9h2.8M88.0 210.7h2.8" stroke="#333" stroke-width="0.75" fill="none"/><path d="M90.6 206.8V213.6M89.2 206.8h2.8M89.2 213.6h2.8" stroke="#333" stroke-width="0.75" fill="none"/><path d="M91.9 209.2V215.0M90.5 209.2h2.8M90.5 215.0h2.8" stroke="#333" stroke-width="0.75" fill="none"/><path d="M93.1 211.2V218.0M91.7 211.2h2.8M91.7 218.0h2.8" stroke="#333" stroke-width="0.75" fill="none"/><path d="M95.0 208.9V215.3M93.6 208.9h2.8M93.6 215.3h2.8" stroke="#333" stroke-width="0.75" fill="none"/><path d="M96.9 214.0V220.2M95.5 214.0h2.8M95.5 220.2h2.8" stroke="#333" stroke-width="0.75" fill="none"/><path d="M98.5 216.6V224.0M97.1 216.6h2.8M97.1 224.0h2.8" stroke="#333" stroke-width="0.75" fill="none"/><path d="M100.3 210.0V215.4M98.9 210.0h2.8M98.9 215.4h2.8" stroke="#333" stroke-width="0.75" fill="none"/><path d="M102.3 199.8V206.0M100.9 199.8h2.8M100.9 206.0h2.8" stroke="#333" stroke-width="0.75" fill="none"/><path d="M105.3 190.3V195.7M103.9 190.3h2.8M103.9 195.7h2.8" stroke="#333" stroke-width="0.75" fill="none"/><path d="M108.6 187.7V195.1M107.2 187.7h2.8M107.2 195.1h2.8" stroke="#333" stroke-width="0.75" fill="none"/><path d="M111.6 195.5V201.7M110.2 195.5h2.8M110.2 201.7h2.8" stroke="#333" stroke-width="0.75" fill="none"/><path d="M114.9 211.1V216.9M113.5 211.1h2.8M113.5 216.9h2.8" stroke="#333" stroke-width="0.75" fill="none"/><path d="M117.9 216.7V222.1M116.5 216.7h2.8M116.5 222.1h2.8" stroke="#333" stroke-width="0.75" fill="none"/><path d="M120.8 207.8V214.4M119.4 207.8h2.8M119.4 214.4h2.8" stroke="#333" stroke-width="0.75" fill="none"/><path d="M123.9 198.2V204.2M122.5 198.2h2.8M122.5 204.2h2.8" stroke="#333" stroke-width="0.75" fill="none"/><path d="M127.1 188.7V194.1M125.7 188.7h2.8M125.7 194.1h2.8" stroke="#333" stroke-width="0.75" fill="none"/><path d="M130.2 188.8V194.0M128.8 188.8h2.8M128.8 194.0h2.8" stroke="#333" stroke-width="0.75" fill="none"/><path d="M133.0 192.8V198.8M131.6 192.8h2.8M131.6 198.8h2.8" stroke="#333" stroke-width="0.75" fill="none"/><path d="M136.2 204.9V211.5M134.8 204.9h2.8M134.8 211.5h2.8" stroke="#333" stroke-width="0.75" fill="none"/><path d="M139.6 210.5V216.9M138.2 210.5h2.8M138.2 216.9h2.8" stroke="#333" stroke-width="0.75" fill="none"/><path d="M142.3 202.1V209.5M140.9 202.1h2.8M140.9 209.5h2.8" stroke="#333" stroke-width="0.75" fill="none"/><path d="M145.5 205.5V212.9M144.1 205.5h2.8M144.1 212.9h2.8" stroke="#333" stroke-width="0.75" fill="none"/><path d="M148.8 200.3V207.7M147.4 200.3h2.8M147.4 207.7h2.8" stroke="#333" stroke-width="0.75" fill="none"/><path d="M151.5 184.7V191.7M150.1 184.7h2.8M150.1 191.7h2.8" stroke="#333" stroke-width="0.75" fill="none"/><path d="M154.9 190.5V196.7M153.5 190.5h2.8M153.5 196.7h2.8" stroke="#333" stroke-width="0.75" fill="none"/><path d="M158.0 197.9V204.3M156.6 197.9h2.8M156.6 204.3h2.8" stroke="#333" stroke-width="0.75" fill="none"/><path d="M160.7 199.0V205.0M159.3 199.0h2.8M159.3 205.0h2.8" stroke="#333" stroke-width="0.75" fill="none"/><path d="M163.9 208.5V214.5M162.5 208.5h2.8M162.5 214.5h2.8" stroke="#333" stroke-width="0.75" fill="none"/><path d="M167.3 204.9V210.1M165.9 204.9h2.8M165.9 210.1h2.8" stroke="#333" stroke-width="0.75" fill="none"/><path d="M170.0 208.0V215.0M168.6 208.0h2.8M168.6 215.0h2.8" stroke="#333" stroke-width="0.75" fill="none"/><path d="M173.3 193.8V199.4M171.9 193.8h2.8M171.9 199.4h2.8" stroke="#333" stroke-width="0.75" fill="none"/><path d="M176.2 196.5V201.7M174.8 196.5h2.8M174.8 201.7h2.8" stroke="#333" stroke-width="0.75" fill="none"/><path d="M179.2 195.2V201.4M177.8 195.2h2.8M177.8 201.4h2.8" stroke="#333" stroke-width="0.75" fill="none"/><path d="M182.6 197.4V204.2M181.2 197.4h2.8M181.2 204.2h2.8" stroke="#333" stroke-width="0.75" fill="none"/><path d="M185.7 205.6V211.8M184.3 205.6h2.8M184.3 211.8h2.8" stroke="#333" stroke-width="0.75" fill="none"/><path d="M188.4 203.1V209.1M187.0 203.1h2.8M187.0 209.1h2.8" stroke="#333" stroke-width="0.75" fill="none"/><path d="M191.8 201.9V208.7M190.4 201.9h2.8M190.4 208.7h2.8" stroke="#333" stroke-width="0.75" fill="none"/><path d="M194.6 205.5V210.9M193.2 205.5h2.8M193.2 210.9h2.8" stroke="#333" stroke-width="0.75" fill="none"/><path d="M197.7 206.2V211.2M196.3 206.2h2.8M196.3 211.2h2.8" stroke="#333" stroke-width="0.75" fill="none"/><path d="M201.0 197.0V203.6M199.6 197.0h2.8M199.6 203.6h2.8" stroke="#333" stroke-width="0.75" fill="none"/><path d="M203.9 202.1V208.5M202.5 202.1h2.8M202.5 208.5h2.8" stroke="#333" stroke-width="0.75" fill="none"/><path d="M206.9 207.9V215.1M205.5 207.9h2.8M205.5 215.1h2.8" stroke="#333" stroke-width="0.75" fill="none"/><path d="M210.2 204.7V210.9M208.8 204.7h2.8M208.8 210.9h2.8" stroke="#333" stroke-width="0.75" fill="none"/><path d="M213.1 197.6V204.6M211.7 197.6h2.8M211.7 204.6h2.8" stroke="#333" stroke-width="0.75" fill="none"/><path d="M216.4 206.2V211.2M215.0 206.2h2.8M215.0 211.2h2.8" stroke="#333" stroke-width="0.75" fill="none"/><path d="M219.8 201.4V206.6M218.4 201.4h2.8M218.4 206.6h2.8" stroke="#333" stroke-width="0.75" fill="none"/><circle cx="42.4" cy="160.3" r="1.85" fill="#e0262a" stroke="#151515" stroke-width="0.6"/><circle cx="48.4" cy="163.2" r="1.85" fill="#e0262a" stroke="#151515" stroke-width="0.6"/><circle cx="54.5" cy="159.6" r="1.85" fill="#e0262a" stroke="#151515" stroke-width="0.6"/><circle cx="61.2" cy="163.2" r="1.85" fill="#e0262a" stroke="#151515" stroke-width="0.6"/><circle cx="64.8" cy="160.8" r="1.85" fill="#e0262a" stroke="#151515" stroke-width="0.6"/><circle cx="66.5" cy="165.6" r="1.85" fill="#e0262a" stroke="#151515" stroke-width="0.6"/><circle cx="68.2" cy="162.0" r="1.85" fill="#e0262a" stroke="#151515" stroke-width="0.6"/><circle cx="69.9" cy="165.1" r="1.85" fill="#e0262a" stroke="#151515" stroke-width="0.6"/><circle cx="70.8" cy="168.0" r="1.85" fill="#e0262a" stroke="#151515" stroke-width="0.6"/><circle cx="71.8" cy="170.9" r="1.85" fill="#e0262a" stroke="#151515" stroke-width="0.6"/><circle cx="72.8" cy="174.0" r="1.85" fill="#e0262a" stroke="#151515" stroke-width="0.6"/><circle cx="74.2" cy="191.6" r="1.85" fill="#e0262a" stroke="#151515" stroke-width="0.6"/><circle cx="74.9" cy="199.8" r="1.85" fill="#e0262a" stroke="#151515" stroke-width="0.6"/><circle cx="76.1" cy="202.2" r="1.85" fill="#e0262a" stroke="#151515" stroke-width="0.6"/><circle cx="76.9" cy="206.1" r="1.85" fill="#e0262a" stroke="#151515" stroke-width="0.6"/><circle cx="78.1" cy="210.2" r="1.85" fill="#e0262a" stroke="#151515" stroke-width="0.6"/><circle cx="79.3" cy="212.6" r="1.85" fill="#e0262a" stroke="#151515" stroke-width="0.6"/><circle cx="80.2" cy="213.8" r="1.85" fill="#e0262a" stroke="#151515" stroke-width="0.6"/><circle cx="81.0" cy="198.1" r="1.85" fill="#e0262a" stroke="#151515" stroke-width="0.6"/><circle cx="81.7" cy="166.1" r="1.85" fill="#e0262a" stroke="#151515" stroke-width="0.6"/><circle cx="82.7" cy="150.7" r="1.85" fill="#e0262a" stroke="#151515" stroke-width="0.6"/><circle cx="83.1" cy="145.8" r="1.85" fill="#e0262a" stroke="#151515" stroke-width="0.6"/><circle cx="83.9" cy="122.2" r="1.85" fill="#e0262a" stroke="#151515" stroke-width="0.6"/><circle cx="84.3" cy="134.3" r="1.85" fill="#e0262a" stroke="#151515" stroke-width="0.6"/><circle cx="85.3" cy="136.7" r="1.85" fill="#e0262a" stroke="#151515" stroke-width="0.6"/><circle cx="86.3" cy="163.2" r="1.85" fill="#e0262a" stroke="#151515" stroke-width="0.6"/><circle cx="87.2" cy="168.0" r="1.85" fill="#e0262a" stroke="#151515" stroke-width="0.6"/><circle cx="87.7" cy="185.4" r="1.85" fill="#e0262a" stroke="#151515" stroke-width="0.6"/><circle cx="88.7" cy="199.8" r="1.85" fill="#e0262a" stroke="#151515" stroke-width="0.6"/><circle cx="89.4" cy="207.8" r="1.85" fill="#e0262a" stroke="#151515" stroke-width="0.6"/><circle cx="90.6" cy="210.2" r="1.85" fill="#e0262a" stroke="#151515" stroke-width="0.6"/><circle cx="91.9" cy="212.1" r="1.85" fill="#e0262a" stroke="#151515" stroke-width="0.6"/><circle cx="93.1" cy="214.6" r="1.85" fill="#e0262a" stroke="#151515" stroke-width="0.6"/><circle cx="95.0" cy="212.1" r="1.85" fill="#e0262a" stroke="#151515" stroke-width="0.6"/><circle cx="96.9" cy="217.1" r="1.85" fill="#e0262a" stroke="#151515" stroke-width="0.6"/><circle cx="98.5" cy="220.3" r="1.85" fill="#e0262a" stroke="#151515" stroke-width="0.6"/><circle cx="100.3" cy="212.7" r="1.85" fill="#e0262a" stroke="#151515" stroke-width="0.6"/><circle cx="102.3" cy="202.9" r="1.85" fill="#e0262a" stroke="#151515" stroke-width="0.6"/><circle cx="105.3" cy="193.0" r="1.85" fill="#e0262a" stroke="#151515" stroke-width="0.6"/><circle cx="108.6" cy="191.4" r="1.85" fill="#e0262a" stroke="#151515" stroke-width="0.6"/><circle cx="111.6" cy="198.6" r="1.85" fill="#e0262a" stroke="#151515" stroke-width="0.6"/><circle cx="114.9" cy="214.0" r="1.85" fill="#e0262a" stroke="#151515" stroke-width="0.6"/><circle cx="117.9" cy="219.4" r="1.85" fill="#e0262a" stroke="#151515" stroke-width="0.6"/><circle cx="120.8" cy="211.1" r="1.85" fill="#e0262a" stroke="#151515" stroke-width="0.6"/><circle cx="123.9" cy="201.2" r="1.85" fill="#e0262a" stroke="#151515" stroke-width="0.6"/><circle cx="127.1" cy="191.4" r="1.85" fill="#e0262a" stroke="#151515" stroke-width="0.6"/><circle cx="130.2" cy="191.4" r="1.85" fill="#e0262a" stroke="#151515" stroke-width="0.6"/><circle cx="133.0" cy="195.8" r="1.85" fill="#e0262a" stroke="#151515" stroke-width="0.6"/><circle cx="136.2" cy="208.2" r="1.85" fill="#e0262a" stroke="#151515" stroke-width="0.6"/><circle cx="139.6" cy="213.7" r="1.85" fill="#e0262a" stroke="#151515" stroke-width="0.6"/><circle cx="142.3" cy="205.8" r="1.85" fill="#e0262a" stroke="#151515" stroke-width="0.6"/><circle cx="145.5" cy="209.2" r="1.85" fill="#e0262a" stroke="#151515" stroke-width="0.6"/><circle cx="148.8" cy="204.0" r="1.85" fill="#e0262a" stroke="#151515" stroke-width="0.6"/><circle cx="151.5" cy="188.2" r="1.85" fill="#e0262a" stroke="#151515" stroke-width="0.6"/><circle cx="154.9" cy="193.6" r="1.85" fill="#e0262a" stroke="#151515" stroke-width="0.6"/><circle cx="158.0" cy="201.1" r="1.85" fill="#e0262a" stroke="#151515" stroke-width="0.6"/><circle cx="160.7" cy="202.0" r="1.85" fill="#e0262a" stroke="#151515" stroke-width="0.6"/><circle cx="163.9" cy="211.5" r="1.85" fill="#e0262a" stroke="#151515" stroke-width="0.6"/><circle cx="167.3" cy="207.5" r="1.85" fill="#e0262a" stroke="#151515" stroke-width="0.6"/><circle cx="170.0" cy="211.5" r="1.85" fill="#e0262a" stroke="#151515" stroke-width="0.6"/><circle cx="173.3" cy="196.6" r="1.85" fill="#e0262a" stroke="#151515" stroke-width="0.6"/><circle cx="176.2" cy="199.1" r="1.85" fill="#e0262a" stroke="#151515" stroke-width="0.6"/><circle cx="179.2" cy="198.3" r="1.85" fill="#e0262a" stroke="#151515" stroke-width="0.6"/><circle cx="182.6" cy="200.8" r="1.85" fill="#e0262a" stroke="#151515" stroke-width="0.6"/><circle cx="185.7" cy="208.7" r="1.85" fill="#e0262a" stroke="#151515" stroke-width="0.6"/><circle cx="188.4" cy="206.1" r="1.85" fill="#e0262a" stroke="#151515" stroke-width="0.6"/><circle cx="191.8" cy="205.3" r="1.85" fill="#e0262a" stroke="#151515" stroke-width="0.6"/><circle cx="194.6" cy="208.2" r="1.85" fill="#e0262a" stroke="#151515" stroke-width="0.6"/><circle cx="197.7" cy="208.7" r="1.85" fill="#e0262a" stroke="#151515" stroke-width="0.6"/><circle cx="201.0" cy="200.3" r="1.85" fill="#e0262a" stroke="#151515" stroke-width="0.6"/><circle cx="203.9" cy="205.3" r="1.85" fill="#e0262a" stroke="#151515" stroke-width="0.6"/><circle cx="206.9" cy="211.5" r="1.85" fill="#e0262a" stroke="#151515" stroke-width="0.6"/><circle cx="210.2" cy="207.8" r="1.85" fill="#e0262a" stroke="#151515" stroke-width="0.6"/><circle cx="213.1" cy="201.1" r="1.85" fill="#e0262a" stroke="#151515" stroke-width="0.6"/><circle cx="216.4" cy="208.7" r="1.85" fill="#e0262a" stroke="#151515" stroke-width="0.6"/><circle cx="219.8" cy="204.0" r="1.85" fill="#e0262a" stroke="#151515" stroke-width="0.6"/>
<line x1="40.8" x2="71.5" y1="248.4" y2="248.4" stroke="#333" stroke-width="1"/>
<polyline fill="none" points="71.5,248.4 71.7,250.2 72.0,252.5 72.2,255.4 72.5,258.5 72.7,262.2 73.0,267.0 73.2,272.2 73.5,276.8 73.7,280.7 74.0,284.5 74.2,287.9 74.5,290.4 74.7,292.1 75.0,293.7 75.2,295.1 75.5,296.1 75.7,296.8 76.0,297.1 76.2,297.3 76.5,297.6 76.7,297.7 77.0,297.9 77.2,297.9 77.5,297.9 77.7,297.5 78.0,296.9 78.2,295.9 78.5,294.8 78.7,293.4 79.0,292.0 79.2,290.3 79.5,287.8 79.7,284.1 80.0,279.6 80.2,274.6 80.4,269.5 80.7,264.5 80.9,259.2 81.2,253.2 81.4,247.1 81.7,241.8 81.9,237.9 82.2,234.9 82.4,232.0 82.7,229.4 82.9,227.4 83.2,225.9 83.4,225.3 83.7,225.3 83.9,225.5 84.2,225.9 84.4,226.4 84.7,229.1 84.9,234.2 85.2,240.0 85.4,245.4 85.7,251.5 85.9,257.8 86.2,263.1 86.4,266.9 86.7,270.2 86.9,273.2 87.2,275.9 87.4,278.2 87.7,280.2 87.9,282.0 88.2,283.7 88.4,285.2 88.7,286.7 88.9,287.9 89.1,289.0 89.4,289.9 89.6,290.6 89.9,291.2 90.1,291.8 90.4,292.2 90.6,292.7 90.9,293.1 91.1,293.5 91.4,293.8 91.6,294.1 91.9,294.4 92.1,294.6 92.4,294.8 92.6,294.9 92.9,295.1 93.1,295.2 93.4,295.3 93.6,295.4 93.9,295.5 94.1,295.6 94.4,295.7 94.6,295.8 94.9,295.8 95.1,295.8 95.4,295.8 95.6,295.7 95.9,295.6 96.1,295.4 96.4,295.1 96.6,294.8 96.9,294.5 97.1,294.2 97.4,293.8 97.6,293.4 97.8,293.0 98.1,292.6 98.3,292.2 98.6,291.6 98.8,290.9 99.1,290.1 99.3,289.2 99.6,288.3 99.8,287.4 100.1,286.4 100.3,285.5 100.6,284.6 100.8,283.7 101.1,282.8 101.3,281.9 101.6,280.9 101.8,279.9 102.1,278.9 102.3,277.8 102.6,276.9 102.8,276.0 103.1,275.2 103.3,274.5 103.6,274.0 103.8,273.6 104.1,273.3 104.3,273.0 104.6,272.7 104.8,272.5 105.1,272.3 105.3,272.1 105.6,271.9 105.8,271.8 106.1,271.7 106.3,271.6 106.5,271.6 106.8,271.7 107.0,271.9 107.3,272.1 107.5,272.5 107.8,272.9 108.0,273.3 108.3,273.8 108.5,274.3 108.8,274.9 109.0,275.4 109.3,275.9 109.5,276.4 109.8,276.9 110.0,277.5 110.3,278.1 110.5,278.8 110.8,279.5 111.0,280.2 111.3,280.9 111.5,281.7 111.8,282.4 112.0,283.1 112.3,283.8 112.5,284.5 112.8,285.1 113.0,285.8 113.3,286.4 113.5,286.9 113.8,287.6 114.0,288.2 114.3,288.9 114.5,289.6 114.8,290.2 115.0,290.8 115.2,291.4 115.5,292.0 115.7,292.5 116.0,292.9 116.2,293.3 116.5,293.5 116.7,293.7 117.0,293.7 117.2,293.7 117.5,293.6 117.7,293.5 118.0,293.4 118.2,293.2 118.5,293.0 118.7,292.8 119.0,292.5 119.2,292.2 119.5,292.0 119.7,291.7 120.0,291.4 120.2,291.1 120.5,290.7 120.7,290.4 121.0,290.0 121.2,289.6 121.5,289.1 121.7,288.6 122.0,288.0 122.2,287.3 122.5,286.7 122.7,286.0 123.0,285.3 123.2,284.7 123.5,284.0 123.7,283.3 123.9,282.7 124.2,282.0 124.4,281.4 124.7,280.9 124.9,280.3 125.2,279.8 125.4,279.2 125.7,278.6 125.9,278.0 126.2,277.5 126.4,276.9 126.7,276.4 126.9,275.9 127.2,275.4 127.4,274.9 127.7,274.5 127.9,274.1 128.2,273.8 128.4,273.6 128.7,273.3 128.9,273.1 129.2,272.8 129.4,272.6 129.7,272.4 129.9,272.3 130.2,272.2 130.4,272.1 130.7,272.1 130.9,272.2 131.2,272.4 131.4,272.5 131.7,272.7 131.9,273.0 132.2,273.3 132.4,273.6 132.6,273.9 132.9,274.2 133.1,274.6 133.4,274.9 133.6,275.3 133.9,275.7 134.1,276.2 134.4,276.7 134.6,277.3 134.9,277.8 135.1,278.4 135.4,279.0 135.6,279.5 135.9,280.1 136.1,280.7 136.4,281.3 136.6,281.9 136.9,282.5 137.1,283.0 137.4,283.6 137.6,284.2 137.9,284.7 138.1,285.2 138.4,285.7 138.6,286.2 138.9,286.7 139.1,287.1 139.4,287.5 139.6,287.9 139.9,288.2 140.1,288.5 140.4,288.8 140.6,289.1 140.9,289.3 141.1,289.4 141.3,289.5 141.6,289.5 141.8,289.5 142.1,289.5 142.3,289.5 142.6,289.6 142.8,289.5 143.1,289.4 143.3,289.3 143.6,289.0 143.8,288.7 144.1,288.4 144.3,288.2 144.6,287.8 144.8,287.4 145.1,287.0 145.3,286.6 145.6,286.1 145.8,285.7 146.1,285.2 146.3,284.7 146.6,284.1 146.8,283.6 147.1,283.0 147.3,282.5 147.6,281.9 147.8,281.4 148.1,280.8 148.3,280.2 148.6,279.7 148.8,279.1 149.1,278.6 149.3,278.1 149.6,277.5 149.8,277.0 150.0,276.5 150.3,276.1 150.5,275.7 150.8,275.3 151.0,274.9 151.3,274.5 151.5,274.2 151.8,273.9 152.0,273.6 152.3,273.4 152.5,273.2 152.8,273.0 153.0,272.9 153.3,272.8 153.5,272.8 153.8,272.8 154.0,272.9 154.3,272.9 154.5,273.0 154.8,273.2 155.0,273.3 155.3,273.4 155.5,273.7 155.8,274.0 156.0,274.3 156.3,274.6 156.5,275.0 156.8,275.4 157.0,275.8 157.3,276.2 157.5,276.7 157.8,277.2 158.0,277.6 158.3,278.1 158.5,278.7 158.7,279.2 159.0,279.7 159.2,280.3 159.5,280.8 159.7,281.4 160.0,281.9 160.2,282.4 160.5,283.0 160.7,283.5 161.0,284.0 161.2,284.5 161.5,285.0 161.7,285.4 162.0,285.9 162.2,286.3 162.5,286.7 162.7,287.1 163.0,287.4 163.2,287.7 163.5,288.0 163.7,288.3 164.0,288.5 164.2,288.7 164.5,288.8 164.7,288.8 165.0,288.9 165.2,289.0 165.5,289.0 165.7,289.0 166.0,289.0 166.2,288.9 166.5,288.7 166.7,288.6 167.0,288.3 167.2,288.1 167.4,287.9 167.7,287.6 167.9,287.3 168.2,286.9 168.4,286.5 168.7,286.1 168.9,285.7 169.2,285.3 169.4,284.8 169.7,284.3 169.9,283.8 170.2,283.3 170.4,282.8 170.7,282.3 170.9,281.8 171.2,281.3 171.4,280.7 171.7,280.2 171.9,279.7 172.2,279.2 172.4,278.7 172.7,278.2 172.9,277.7 173.2,277.3 173.4,276.8 173.7,276.4 173.9,276.0 174.2,275.6 174.4,275.3 174.7,274.9 174.9,274.6 175.2,274.4 175.4,274.1 175.7,273.9 175.9,273.7 176.1,273.6 176.4,273.5 176.6,273.5 176.9,273.5 177.1,273.5 177.4,273.5 177.6,273.6 177.9,273.6 178.1,273.7 178.4,273.8 178.6,274.0 178.9,274.3 179.1,274.5 179.4,274.8 179.6,275.1 179.9,275.5 180.1,275.8 180.4,276.2 180.6,276.6 180.9,277.1 181.1,277.5 181.4,277.9 181.6,278.4 181.9,278.9 182.1,279.4 182.4,279.9 182.6,280.4 182.9,280.9 183.1,281.4 183.4,281.9 183.6,282.4 183.9,282.9 184.1,283.4 184.4,283.9 184.6,284.3 184.8,284.8 185.1,285.2 185.3,285.6 185.6,286.0 185.8,286.3 186.1,286.7 186.3,287.0 186.6,287.3 186.8,287.6 187.1,287.8 187.3,287.9 187.6,288.1 187.8,288.2 188.1,288.3 188.3,288.4 188.6,288.5 188.8,288.5 189.1,288.4 189.3,288.4 189.6,288.3 189.8,288.1 190.1,288.0 190.3,287.8 190.6,287.6 190.8,287.4 191.1,287.1 191.3,286.8 191.6,286.4 191.8,286.1 192.1,285.7 192.3,285.3 192.6,284.9 192.8,284.5 193.1,284.0 193.3,283.6 193.5,283.1 193.8,282.7 194.0,282.2 194.3,281.7 194.5,281.2 194.8,280.7 195.0,280.2 195.3,279.8 195.5,279.3 195.8,278.8 196.0,278.4 196.3,277.9 196.5,277.5 196.8,277.1 197.0,276.7 197.3,276.3 197.5,276.0 197.8,275.6 198.0,275.4 198.3,275.1 198.5,274.8 198.8,274.6 199.0,274.4 199.3,274.2 199.5,274.1 199.8,274.1 200.0,274.1 200.3,274.1 200.5,274.1 200.8,274.1 201.0,274.1 201.3,274.1 201.5,274.2 201.8,274.4 202.0,274.6 202.2,274.8 202.5,275.1 202.7,275.3 203.0,275.6 203.2,275.9 203.5,276.3 203.7,276.6 204.0,277.0 204.2,277.4 204.5,277.8 204.7,278.2 205.0,278.7 205.2,279.1 205.5,279.6 205.7,280.0 206.0,280.5 206.2,281.0 206.5,281.5 206.7,281.9 207.0,282.4 207.2,282.8 207.5,283.3 207.7,283.7 208.0,284.1 208.2,284.6 208.5,284.9 208.7,285.3 209.0,285.7 209.2,286.0 209.5,286.3 209.7,286.6 210.0,286.9 210.2,287.1 210.5,287.3 210.7,287.5 210.9,287.6 211.2,287.8 211.4,287.9 211.7,287.9 211.9,287.9 212.2,287.9 212.4,287.8 212.7,287.8 212.9,287.7 213.2,287.6 213.4,287.5 213.7,287.3 213.9,287.1 214.2,286.9 214.4,286.6 214.7,286.3 214.9,286.0 215.2,285.7 215.4,285.3 215.7,285.0 215.9,284.6 216.2,284.2 216.4,283.8 216.7,283.4 216.9,282.9 217.2,282.5 217.4,282.0 217.7,281.6 217.9,281.1 218.2,280.7 218.4,280.2 218.7,279.8 218.9,279.3 219.2,278.9 219.4,278.5 219.6,278.1 219.9,277.7 220.1,277.3 220.4,277.0" stroke="#666" stroke-width="1"/>
<circle cx="42.5" cy="246.0" r="1.85" fill="#fa3a0c" stroke="#151515" stroke-width="0.6"/><circle cx="49.2" cy="249.8" r="1.85" fill="#fa3a0c" stroke="#151515" stroke-width="0.6"/><circle cx="55.1" cy="246.8" r="1.85" fill="#fa3a0c" stroke="#151515" stroke-width="0.6"/><circle cx="61.0" cy="244.3" r="1.85" fill="#fa3a0c" stroke="#151515" stroke-width="0.6"/><circle cx="65.2" cy="250.5" r="1.85" fill="#fa3a0c" stroke="#151515" stroke-width="0.6"/><circle cx="66.5" cy="246.8" r="1.85" fill="#fa3a0c" stroke="#151515" stroke-width="0.6"/><circle cx="68.2" cy="247.7" r="1.85" fill="#fa3a0c" stroke="#151515" stroke-width="0.6"/><circle cx="70.2" cy="248.5" r="1.85" fill="#fa3a0c" stroke="#151515" stroke-width="0.6"/><circle cx="71.5" cy="253.2" r="1.85" fill="#fa3a0c" stroke="#151515" stroke-width="0.6"/><circle cx="72.2" cy="258.2" r="1.85" fill="#fa3a0c" stroke="#151515" stroke-width="0.6"/><circle cx="72.9" cy="264.4" r="1.85" fill="#fa3a0c" stroke="#151515" stroke-width="0.6"/><circle cx="74.4" cy="282.4" r="1.85" fill="#fa3a0c" stroke="#151515" stroke-width="0.6"/><circle cx="74.9" cy="289.1" r="1.85" fill="#fa3a0c" stroke="#151515" stroke-width="0.6"/><circle cx="76.1" cy="290.8" r="1.85" fill="#fa3a0c" stroke="#151515" stroke-width="0.6"/><circle cx="76.6" cy="293.0" r="1.85" fill="#fa3a0c" stroke="#151515" stroke-width="0.6"/><circle cx="77.8" cy="296.8" r="1.85" fill="#fa3a0c" stroke="#151515" stroke-width="0.6"/><circle cx="78.9" cy="297.1" r="1.85" fill="#fa3a0c" stroke="#151515" stroke-width="0.6"/><circle cx="79.8" cy="290.8" r="1.85" fill="#fa3a0c" stroke="#151515" stroke-width="0.6"/><circle cx="80.3" cy="281.7" r="1.85" fill="#fa3a0c" stroke="#151515" stroke-width="0.6"/><circle cx="81.1" cy="265.6" r="1.85" fill="#fa3a0c" stroke="#151515" stroke-width="0.6"/><circle cx="81.9" cy="245.5" r="1.85" fill="#fa3a0c" stroke="#151515" stroke-width="0.6"/><circle cx="82.8" cy="230.9" r="1.85" fill="#fa3a0c" stroke="#151515" stroke-width="0.6"/><circle cx="84.0" cy="226.7" r="1.85" fill="#fa3a0c" stroke="#151515" stroke-width="0.6"/><circle cx="85.0" cy="225.0" r="1.85" fill="#fa3a0c" stroke="#151515" stroke-width="0.6"/><circle cx="85.0" cy="238.1" r="1.85" fill="#fa3a0c" stroke="#151515" stroke-width="0.6"/><circle cx="85.6" cy="244.8" r="1.85" fill="#fa3a0c" stroke="#151515" stroke-width="0.6"/><circle cx="87.0" cy="256.5" r="1.85" fill="#fa3a0c" stroke="#151515" stroke-width="0.6"/><circle cx="87.8" cy="272.8" r="1.85" fill="#fa3a0c" stroke="#151515" stroke-width="0.6"/><circle cx="88.3" cy="282.4" r="1.85" fill="#fa3a0c" stroke="#151515" stroke-width="0.6"/><circle cx="89.0" cy="285.7" r="1.85" fill="#fa3a0c" stroke="#151515" stroke-width="0.6"/><circle cx="89.5" cy="287.9" r="1.85" fill="#fa3a0c" stroke="#151515" stroke-width="0.6"/><circle cx="91.2" cy="292.4" r="1.85" fill="#fa3a0c" stroke="#151515" stroke-width="0.6"/><circle cx="92.9" cy="293.8" r="1.85" fill="#fa3a0c" stroke="#151515" stroke-width="0.6"/><circle cx="94.5" cy="295.5" r="1.85" fill="#fa3a0c" stroke="#151515" stroke-width="0.6"/><circle cx="96.2" cy="296.3" r="1.85" fill="#fa3a0c" stroke="#151515" stroke-width="0.6"/><circle cx="97.9" cy="296.8" r="1.85" fill="#fa3a0c" stroke="#151515" stroke-width="0.6"/><circle cx="99.1" cy="293.0" r="1.85" fill="#fa3a0c" stroke="#151515" stroke-width="0.6"/><circle cx="100.7" cy="284.6" r="1.85" fill="#fa3a0c" stroke="#151515" stroke-width="0.6"/><circle cx="102.9" cy="274.5" r="1.85" fill="#fa3a0c" stroke="#151515" stroke-width="0.6"/><circle cx="106.3" cy="272.8" r="1.85" fill="#fa3a0c" stroke="#151515" stroke-width="0.6"/><circle cx="109.1" cy="266.6" r="1.85" fill="#fa3a0c" stroke="#151515" stroke-width="0.6"/><circle cx="112.1" cy="278.7" r="1.85" fill="#fa3a0c" stroke="#151515" stroke-width="0.6"/><circle cx="115.5" cy="291.3" r="1.85" fill="#fa3a0c" stroke="#151515" stroke-width="0.6"/><circle cx="118.5" cy="294.1" r="1.85" fill="#fa3a0c" stroke="#151515" stroke-width="0.6"/><circle cx="121.4" cy="291.8" r="1.85" fill="#fa3a0c" stroke="#151515" stroke-width="0.6"/><circle cx="124.7" cy="281.7" r="1.85" fill="#fa3a0c" stroke="#151515" stroke-width="0.6"/><circle cx="127.6" cy="274.0" r="1.85" fill="#fa3a0c" stroke="#151515" stroke-width="0.6"/><circle cx="130.6" cy="272.0" r="1.85" fill="#fa3a0c" stroke="#151515" stroke-width="0.6"/><circle cx="133.6" cy="277.3" r="1.85" fill="#fa3a0c" stroke="#151515" stroke-width="0.6"/><circle cx="137.0" cy="282.8" r="1.85" fill="#fa3a0c" stroke="#151515" stroke-width="0.6"/><circle cx="139.9" cy="292.2" r="1.85" fill="#fa3a0c" stroke="#151515" stroke-width="0.6"/><circle cx="142.9" cy="288.9" r="1.85" fill="#fa3a0c" stroke="#151515" stroke-width="0.6"/><circle cx="146.2" cy="288.3" r="1.85" fill="#fa3a0c" stroke="#151515" stroke-width="0.6"/><circle cx="149.1" cy="280.7" r="1.85" fill="#fa3a0c" stroke="#151515" stroke-width="0.6"/><circle cx="151.8" cy="273.2" r="1.85" fill="#fa3a0c" stroke="#151515" stroke-width="0.6"/><circle cx="155.0" cy="275.4" r="1.85" fill="#fa3a0c" stroke="#151515" stroke-width="0.6"/><circle cx="158.3" cy="283.3" r="1.85" fill="#fa3a0c" stroke="#151515" stroke-width="0.6"/><circle cx="161.3" cy="283.7" r="1.85" fill="#fa3a0c" stroke="#151515" stroke-width="0.6"/><circle cx="164.2" cy="287.2" r="1.85" fill="#fa3a0c" stroke="#151515" stroke-width="0.6"/><circle cx="167.2" cy="287.6" r="1.85" fill="#fa3a0c" stroke="#151515" stroke-width="0.6"/><circle cx="170.5" cy="283.0" r="1.85" fill="#fa3a0c" stroke="#151515" stroke-width="0.6"/><circle cx="173.5" cy="276.5" r="1.85" fill="#fa3a0c" stroke="#151515" stroke-width="0.6"/><circle cx="176.8" cy="277.5" r="1.85" fill="#fa3a0c" stroke="#151515" stroke-width="0.6"/><circle cx="179.9" cy="274.9" r="1.85" fill="#fa3a0c" stroke="#151515" stroke-width="0.6"/><circle cx="183.0" cy="283.3" r="1.85" fill="#fa3a0c" stroke="#151515" stroke-width="0.6"/><circle cx="186.0" cy="285.4" r="1.85" fill="#fa3a0c" stroke="#151515" stroke-width="0.6"/><circle cx="189.1" cy="288.3" r="1.85" fill="#fa3a0c" stroke="#151515" stroke-width="0.6"/><circle cx="192.2" cy="285.4" r="1.85" fill="#fa3a0c" stroke="#151515" stroke-width="0.6"/><circle cx="195.2" cy="280.7" r="1.85" fill="#fa3a0c" stroke="#151515" stroke-width="0.6"/><circle cx="198.3" cy="274.7" r="1.85" fill="#fa3a0c" stroke="#151515" stroke-width="0.6"/><circle cx="201.4" cy="277.8" r="1.85" fill="#fa3a0c" stroke="#151515" stroke-width="0.6"/><circle cx="204.4" cy="276.5" r="1.85" fill="#fa3a0c" stroke="#151515" stroke-width="0.6"/><circle cx="207.3" cy="284.6" r="1.85" fill="#fa3a0c" stroke="#151515" stroke-width="0.6"/><circle cx="210.3" cy="284.6" r="1.85" fill="#fa3a0c" stroke="#151515" stroke-width="0.6"/><circle cx="213.4" cy="287.6" r="1.85" fill="#fa3a0c" stroke="#151515" stroke-width="0.6"/><circle cx="216.5" cy="281.1" r="1.85" fill="#fa3a0c" stroke="#151515" stroke-width="0.6"/><circle cx="219.8" cy="278.8" r="1.85" fill="#fa3a0c" stroke="#151515" stroke-width="0.6"/>
<line x1="40.8" x2="71.5" y1="311.6" y2="311.6" stroke="#333" stroke-width="1"/>
<polyline fill="none" points="71.5,311.6 71.7,314.6 72.0,317.7 72.2,320.9 72.5,324.2 72.7,327.5 73.0,330.8 73.2,334.3 73.5,337.8 73.7,341.4 74.0,345.7 74.2,349.9 74.5,353.1 74.7,354.7 75.0,356.0 75.2,357.1 75.5,358.0 75.7,358.6 76.0,358.9 76.2,359.0 76.5,358.8 76.7,358.6 77.0,358.2 77.2,357.8 77.5,357.3 77.7,356.7 78.0,356.0 78.2,355.0 78.5,353.9 78.7,352.5 79.0,351.0 79.2,349.4 79.5,347.6 79.7,345.5 80.0,342.7 80.2,339.4 80.4,336.0 80.7,332.5 80.9,329.3 81.2,326.4 81.4,323.3 81.7,320.2 81.9,317.1 82.2,314.3 82.4,311.8 82.7,309.6 82.9,308.0 83.2,306.5 83.4,305.1 83.7,304.0 83.9,303.3 84.2,303.3 84.4,304.0 84.7,305.5 84.9,307.4 85.2,309.4 85.4,311.4 85.7,313.7 85.9,316.3 86.2,319.0 86.4,321.8 86.7,324.5 86.9,327.6 87.2,330.7 87.4,333.6 87.7,336.0 87.9,337.8 88.2,339.2 88.4,340.5 88.7,341.7 88.9,342.7 89.1,343.7 89.4,344.6 89.6,345.4 89.9,346.2 90.1,347.0 90.4,347.7 90.6,348.4 90.9,349.1 91.1,349.7 91.4,350.3 91.6,350.8 91.9,351.3 92.1,351.7 92.4,352.2 92.6,352.6 92.9,353.0 93.1,353.5 93.4,353.8 93.6,354.2 93.9,354.4 94.1,354.6 94.4,354.8 94.6,354.8 94.9,354.8 95.1,354.7 95.4,354.6 95.6,354.5 95.9,354.4 96.1,354.3 96.4,354.2 96.6,354.0 96.9,353.8 97.1,353.6 97.4,353.2 97.6,352.7 97.8,352.0 98.1,351.2 98.3,350.3 98.6,349.3 98.8,348.3 99.1,347.3 99.3,346.3 99.6,345.3 99.8,344.3 100.1,343.1 100.3,341.9 100.6,340.6 100.8,339.3 101.1,338.0 101.3,336.8 101.6,335.6 101.8,334.6 102.1,333.8 102.3,333.1 102.6,332.4 102.8,331.7 103.1,331.0 103.3,330.4 103.6,329.7 103.8,329.2 104.1,328.7 104.3,328.2 104.6,327.9 104.8,327.6 105.1,327.4 105.3,327.4 105.6,327.4 105.8,327.4 106.1,327.4 106.3,327.4 106.5,327.4 106.8,327.4 107.0,327.4 107.3,327.4 107.5,327.4 107.8,327.4 108.0,327.4 108.3,327.4 108.5,327.4 108.8,327.4 109.0,327.6 109.3,327.9 109.5,328.3 109.8,328.8 110.0,329.4 110.3,330.1 110.5,330.9 110.8,331.7 111.0,332.5 111.3,333.4 111.5,334.3 111.8,335.1 112.0,335.9 112.3,336.7 112.5,337.5 112.8,338.3 113.0,339.3 113.3,340.3 113.5,341.3 113.8,342.3 114.0,343.3 114.3,344.3 114.5,345.2 114.8,346.0 115.0,346.6 115.2,347.2 115.5,347.5 115.7,347.9 116.0,348.2 116.2,348.5 116.5,348.7 116.7,349.0 117.0,349.2 117.2,349.3 117.5,349.5 117.7,349.5 118.0,349.5 118.2,349.4 118.5,349.3 118.7,349.1 119.0,348.8 119.2,348.5 119.5,348.1 119.7,347.7 120.0,347.2 120.2,346.8 120.5,346.3 120.7,345.8 121.0,345.3 121.2,344.9 121.5,344.4 121.7,343.9 122.0,343.4 122.2,342.8 122.5,342.2 122.7,341.5 123.0,340.8 123.2,340.1 123.5,339.4 123.7,338.7 123.9,338.0 124.2,337.4 124.4,336.8 124.7,336.3 124.9,335.8 125.2,335.3 125.4,334.9 125.7,334.5 125.9,334.0 126.2,333.6 126.4,333.1 126.7,332.7 126.9,332.2 127.2,331.8 127.4,331.4 127.7,331.0 127.9,330.7 128.2,330.3 128.4,330.0 128.7,329.7 128.9,329.5 129.2,329.2 129.4,329.0 129.7,328.9 129.9,328.8 130.2,328.7 130.4,328.7 130.7,328.7 130.9,328.7 131.2,328.9 131.4,329.0 131.7,329.2 131.9,329.4 132.2,329.6 132.4,329.8 132.6,330.1 132.9,330.3 133.1,330.6 133.4,330.9 133.6,331.2 133.9,331.5 134.1,331.9 134.4,332.3 134.6,332.8 134.9,333.2 135.1,333.7 135.4,334.1 135.6,334.6 135.9,335.1 136.1,335.6 136.4,336.0 136.6,336.5 136.9,337.0 137.1,337.4 137.4,337.9 137.6,338.3 137.9,338.8 138.1,339.2 138.4,339.6 138.6,340.0 138.9,340.3 139.1,340.7 139.4,341.0 139.6,341.3 139.9,341.6 140.1,341.8 140.4,342.1 140.6,342.3 140.9,342.5 141.1,342.6 141.3,342.6 141.6,342.7 141.8,342.7 142.1,342.7 142.3,342.7 142.6,342.7 142.8,342.7 143.1,342.6 143.3,342.5 143.6,342.3 143.8,342.0 144.1,341.8 144.3,341.6 144.6,341.3 144.8,341.0 145.1,340.7 145.3,340.3 145.6,339.9 145.8,339.6 146.1,339.2 146.3,338.8 146.6,338.3 146.8,337.9 147.1,337.4 147.3,337.0 147.6,336.5 147.8,336.1 148.1,335.6 148.3,335.1 148.6,334.7 148.8,334.2 149.1,333.8 149.3,333.4 149.6,332.9 149.8,332.5 150.0,332.1 150.3,331.8 150.5,331.4 150.8,331.1 151.0,330.7 151.3,330.4 151.5,330.2 151.8,329.9 152.0,329.7 152.3,329.6 152.5,329.4 152.8,329.2 153.0,329.1 153.3,329.1 153.5,329.0 153.8,329.1 154.0,329.1 154.3,329.2 154.5,329.2 154.8,329.3 155.0,329.4 155.3,329.5 155.5,329.7 155.8,330.0 156.0,330.2 156.3,330.5 156.5,330.8 156.8,331.1 157.0,331.5 157.3,331.8 157.5,332.2 157.8,332.6 158.0,333.0 158.3,333.4 158.5,333.8 158.7,334.3 159.0,334.7 159.2,335.2 159.5,335.6 159.7,336.1 160.0,336.5 160.2,337.0 160.5,337.4 160.7,337.8 161.0,338.3 161.2,338.7 161.5,339.1 161.7,339.4 162.0,339.8 162.2,340.2 162.5,340.5 162.7,340.8 163.0,341.1 163.2,341.3 163.5,341.6 163.7,341.8 164.0,342.0 164.2,342.1 164.5,342.2 164.7,342.3 165.0,342.3 165.2,342.4 165.5,342.4 165.7,342.4 166.0,342.4 166.2,342.3 166.5,342.2 166.7,342.1 167.0,341.9 167.2,341.7 167.4,341.5 167.7,341.3 167.9,341.0 168.2,340.7 168.4,340.4 168.7,340.0 168.9,339.7 169.2,339.3 169.4,339.0 169.7,338.6 169.9,338.1 170.2,337.7 170.4,337.3 170.7,336.9 170.9,336.4 171.2,336.0 171.4,335.6 171.7,335.1 171.9,334.7 172.2,334.3 172.4,333.8 172.7,333.4 172.9,333.0 173.2,332.6 173.4,332.3 173.7,331.9 173.9,331.6 174.2,331.3 174.4,330.9 174.7,330.7 174.9,330.4 175.2,330.2 175.4,330.0 175.7,329.8 175.9,329.6 176.1,329.5 176.4,329.4 176.6,329.4 176.9,329.4 177.1,329.5 177.4,329.5 177.6,329.5 177.9,329.5 178.1,329.6 178.4,329.7 178.6,329.9 178.9,330.1 179.1,330.3 179.4,330.6 179.6,330.8 179.9,331.1 180.1,331.4 180.4,331.7 180.6,332.1 180.9,332.4 181.1,332.8 181.4,333.2 181.6,333.6 181.9,334.0 182.1,334.4 182.4,334.8 182.6,335.3 182.9,335.7 183.1,336.1 183.4,336.5 183.6,337.0 183.9,337.4 184.1,337.8 184.4,338.2 184.6,338.6 184.8,339.0 185.1,339.3 185.3,339.7 185.6,340.0 185.8,340.3 186.1,340.6 186.3,340.9 186.6,341.1 186.8,341.4 187.1,341.5 187.3,341.7 187.6,341.8 187.8,341.9 188.1,342.0 188.3,342.1 188.6,342.1 188.8,342.1 189.1,342.1 189.3,342.0 189.6,342.0 189.8,341.8 190.1,341.7 190.3,341.6 190.6,341.4 190.8,341.2 191.1,341.0 191.3,340.7 191.6,340.4 191.8,340.1 192.1,339.8 192.3,339.5 192.6,339.1 192.8,338.7 193.1,338.4 193.3,338.0 193.5,337.6 193.8,337.2 194.0,336.8 194.3,336.3 194.5,335.9 194.8,335.5 195.0,335.1 195.3,334.7 195.5,334.3 195.8,333.9 196.0,333.5 196.3,333.1 196.5,332.8 196.8,332.4 197.0,332.1 197.3,331.7 197.5,331.4 197.8,331.2 198.0,330.9 198.3,330.7 198.5,330.4 198.8,330.2 199.0,330.1 199.3,329.9 199.5,329.9 199.8,329.8 200.0,329.8 200.3,329.8 200.5,329.8 200.8,329.8 201.0,329.8 201.3,329.8 201.5,329.9 201.8,330.0 202.0,330.2 202.2,330.4 202.5,330.6 202.7,330.8 203.0,331.1 203.2,331.4 203.5,331.7 203.7,332.0 204.0,332.3 204.2,332.6 204.5,333.0 204.7,333.4 205.0,333.8 205.2,334.2 205.5,334.5 205.7,334.9 206.0,335.3 206.2,335.7 206.5,336.2 206.7,336.6 207.0,337.0 207.2,337.4 207.5,337.7 207.7,338.1 208.0,338.5 208.2,338.9 208.5,339.2 208.7,339.5 209.0,339.8 209.2,340.1 209.5,340.4 209.7,340.7 210.0,340.9 210.2,341.1 210.5,341.2 210.7,341.4 210.9,341.5 211.2,341.7 211.4,341.8 211.7,341.8 211.9,341.8 212.2,341.8 212.4,341.7 212.7,341.7 212.9,341.6 213.2,341.5 213.4,341.4 213.7,341.3 213.9,341.1 214.2,340.9 214.4,340.7 214.7,340.4 214.9,340.2 215.2,339.9 215.4,339.6 215.7,339.2 215.9,338.9 216.2,338.5 216.4,338.2 216.7,337.8 216.9,337.5 217.2,337.1 217.4,336.7 217.7,336.3 217.9,335.9 218.2,335.5 218.4,335.1 218.7,334.7 218.9,334.3 219.2,333.9 219.4,333.6 219.6,333.2 219.9,332.9 220.1,332.5 220.4,332.2" stroke="#666" stroke-width="1"/>
<circle cx="42.9" cy="311.0" r="1.85" fill="#f42a2a" stroke="#151515" stroke-width="0.6"/><circle cx="49.1" cy="308.8" r="1.85" fill="#f42a2a" stroke="#151515" stroke-width="0.6"/><circle cx="55.0" cy="310.2" r="1.85" fill="#f42a2a" stroke="#151515" stroke-width="0.6"/><circle cx="61.2" cy="308.5" r="1.85" fill="#f42a2a" stroke="#151515" stroke-width="0.6"/><circle cx="64.8" cy="309.5" r="1.85" fill="#f42a2a" stroke="#151515" stroke-width="0.6"/><circle cx="66.6" cy="306.6" r="1.85" fill="#f42a2a" stroke="#151515" stroke-width="0.6"/><circle cx="68.5" cy="309.5" r="1.85" fill="#f42a2a" stroke="#151515" stroke-width="0.6"/><circle cx="69.9" cy="311.7" r="1.85" fill="#f42a2a" stroke="#151515" stroke-width="0.6"/><circle cx="71.1" cy="314.6" r="1.85" fill="#f42a2a" stroke="#151515" stroke-width="0.6"/><circle cx="71.8" cy="322.6" r="1.85" fill="#f42a2a" stroke="#151515" stroke-width="0.6"/><circle cx="72.8" cy="325.5" r="1.85" fill="#f42a2a" stroke="#151515" stroke-width="0.6"/><circle cx="74.3" cy="343.1" r="1.85" fill="#f42a2a" stroke="#151515" stroke-width="0.6"/><circle cx="75.3" cy="351.1" r="1.85" fill="#f42a2a" stroke="#151515" stroke-width="0.6"/><circle cx="76.2" cy="354.3" r="1.85" fill="#f42a2a" stroke="#151515" stroke-width="0.6"/><circle cx="76.8" cy="358.4" r="1.85" fill="#f42a2a" stroke="#151515" stroke-width="0.6"/><circle cx="78.2" cy="357.7" r="1.85" fill="#f42a2a" stroke="#151515" stroke-width="0.6"/><circle cx="79.1" cy="355.2" r="1.85" fill="#f42a2a" stroke="#151515" stroke-width="0.6"/><circle cx="79.7" cy="351.1" r="1.85" fill="#f42a2a" stroke="#151515" stroke-width="0.6"/><circle cx="80.6" cy="343.5" r="1.85" fill="#f42a2a" stroke="#151515" stroke-width="0.6"/><circle cx="81.3" cy="328.9" r="1.85" fill="#f42a2a" stroke="#151515" stroke-width="0.6"/><circle cx="82.0" cy="322.2" r="1.85" fill="#f42a2a" stroke="#151515" stroke-width="0.6"/><circle cx="82.8" cy="308.8" r="1.85" fill="#f42a2a" stroke="#151515" stroke-width="0.6"/><circle cx="83.5" cy="306.6" r="1.85" fill="#f42a2a" stroke="#151515" stroke-width="0.6"/><circle cx="84.1" cy="302.2" r="1.85" fill="#f42a2a" stroke="#151515" stroke-width="0.6"/><circle cx="85.0" cy="305.5" r="1.85" fill="#f42a2a" stroke="#151515" stroke-width="0.6"/><circle cx="85.7" cy="311.7" r="1.85" fill="#f42a2a" stroke="#151515" stroke-width="0.6"/><circle cx="86.7" cy="324.1" r="1.85" fill="#f42a2a" stroke="#151515" stroke-width="0.6"/><circle cx="87.4" cy="329.9" r="1.85" fill="#f42a2a" stroke="#151515" stroke-width="0.6"/><circle cx="88.2" cy="339.1" r="1.85" fill="#f42a2a" stroke="#151515" stroke-width="0.6"/><circle cx="89.2" cy="343.5" r="1.85" fill="#f42a2a" stroke="#151515" stroke-width="0.6"/><circle cx="90.4" cy="345.5" r="1.85" fill="#f42a2a" stroke="#151515" stroke-width="0.6"/><circle cx="91.4" cy="346.7" r="1.85" fill="#f42a2a" stroke="#151515" stroke-width="0.6"/><circle cx="92.6" cy="347.9" r="1.85" fill="#f42a2a" stroke="#151515" stroke-width="0.6"/><circle cx="94.3" cy="351.8" r="1.85" fill="#f42a2a" stroke="#151515" stroke-width="0.6"/><circle cx="95.9" cy="355.5" r="1.85" fill="#f42a2a" stroke="#151515" stroke-width="0.6"/><circle cx="97.4" cy="352.6" r="1.85" fill="#f42a2a" stroke="#151515" stroke-width="0.6"/><circle cx="98.8" cy="346.4" r="1.85" fill="#f42a2a" stroke="#151515" stroke-width="0.6"/><circle cx="100.6" cy="338.2" r="1.85" fill="#f42a2a" stroke="#151515" stroke-width="0.6"/><circle cx="102.8" cy="327.4" r="1.85" fill="#f42a2a" stroke="#151515" stroke-width="0.6"/><circle cx="106.0" cy="329.2" r="1.85" fill="#f42a2a" stroke="#151515" stroke-width="0.6"/><circle cx="109.1" cy="326.6" r="1.85" fill="#f42a2a" stroke="#151515" stroke-width="0.6"/><circle cx="112.0" cy="337.7" r="1.85" fill="#f42a2a" stroke="#151515" stroke-width="0.6"/><circle cx="115.2" cy="348.5" r="1.85" fill="#f42a2a" stroke="#151515" stroke-width="0.6"/><circle cx="118.5" cy="349.3" r="1.85" fill="#f42a2a" stroke="#151515" stroke-width="0.6"/><circle cx="121.3" cy="345.5" r="1.85" fill="#f42a2a" stroke="#151515" stroke-width="0.6"/><circle cx="124.4" cy="338.2" r="1.85" fill="#f42a2a" stroke="#151515" stroke-width="0.6"/><circle cx="127.6" cy="331.4" r="1.85" fill="#f42a2a" stroke="#151515" stroke-width="0.6"/><circle cx="130.8" cy="329.9" r="1.85" fill="#f42a2a" stroke="#151515" stroke-width="0.6"/><circle cx="133.7" cy="336.5" r="1.85" fill="#f42a2a" stroke="#151515" stroke-width="0.6"/><circle cx="137.0" cy="342.3" r="1.85" fill="#f42a2a" stroke="#151515" stroke-width="0.6"/><circle cx="139.6" cy="348.0" r="1.85" fill="#f42a2a" stroke="#151515" stroke-width="0.6"/><circle cx="142.9" cy="343.0" r="1.85" fill="#f42a2a" stroke="#151515" stroke-width="0.6"/><circle cx="146.2" cy="343.0" r="1.85" fill="#f42a2a" stroke="#151515" stroke-width="0.6"/><circle cx="148.8" cy="330.5" r="1.85" fill="#f42a2a" stroke="#151515" stroke-width="0.6"/><circle cx="151.8" cy="327.2" r="1.85" fill="#f42a2a" stroke="#151515" stroke-width="0.6"/><circle cx="155.0" cy="332.5" r="1.85" fill="#f42a2a" stroke="#151515" stroke-width="0.6"/><circle cx="158.3" cy="338.4" r="1.85" fill="#f42a2a" stroke="#151515" stroke-width="0.6"/><circle cx="161.3" cy="341.7" r="1.85" fill="#f42a2a" stroke="#151515" stroke-width="0.6"/><circle cx="164.6" cy="344.3" r="1.85" fill="#f42a2a" stroke="#151515" stroke-width="0.6"/><circle cx="167.5" cy="341.4" r="1.85" fill="#f42a2a" stroke="#151515" stroke-width="0.6"/><circle cx="170.5" cy="336.4" r="1.85" fill="#f42a2a" stroke="#151515" stroke-width="0.6"/><circle cx="173.5" cy="332.7" r="1.85" fill="#f42a2a" stroke="#151515" stroke-width="0.6"/><circle cx="176.8" cy="334.0" r="1.85" fill="#f42a2a" stroke="#151515" stroke-width="0.6"/><circle cx="180.1" cy="334.0" r="1.85" fill="#f42a2a" stroke="#151515" stroke-width="0.6"/><circle cx="183.0" cy="338.4" r="1.85" fill="#f42a2a" stroke="#151515" stroke-width="0.6"/><circle cx="186.0" cy="342.3" r="1.85" fill="#f42a2a" stroke="#151515" stroke-width="0.6"/><circle cx="189.1" cy="342.6" r="1.85" fill="#f42a2a" stroke="#151515" stroke-width="0.6"/><circle cx="192.2" cy="341.9" r="1.85" fill="#f42a2a" stroke="#151515" stroke-width="0.6"/><circle cx="195.2" cy="333.8" r="1.85" fill="#f42a2a" stroke="#151515" stroke-width="0.6"/><circle cx="198.5" cy="329.6" r="1.85" fill="#f42a2a" stroke="#151515" stroke-width="0.6"/><circle cx="201.6" cy="334.0" r="1.85" fill="#f42a2a" stroke="#151515" stroke-width="0.6"/><circle cx="204.6" cy="337.1" r="1.85" fill="#f42a2a" stroke="#151515" stroke-width="0.6"/><circle cx="207.7" cy="340.6" r="1.85" fill="#f42a2a" stroke="#151515" stroke-width="0.6"/><circle cx="210.6" cy="338.4" r="1.85" fill="#f42a2a" stroke="#151515" stroke-width="0.6"/><circle cx="213.8" cy="341.4" r="1.85" fill="#f42a2a" stroke="#151515" stroke-width="0.6"/><circle cx="216.9" cy="336.4" r="1.85" fill="#f42a2a" stroke="#151515" stroke-width="0.6"/><circle cx="220.0" cy="333.1" r="1.85" fill="#f42a2a" stroke="#151515" stroke-width="0.6"/>
<line x1="40.8" x2="71.5" y1="364.3" y2="364.3" stroke="#333" stroke-width="1"/>
<polyline fill="none" points="71.5,364.3 71.7,365.7 72.0,367.7 72.2,370.2 72.5,373.0 72.7,376.3 73.0,380.9 73.2,385.1 73.5,387.8 73.7,390.1 74.0,392.0 74.2,393.6 74.5,394.7 74.7,395.5 75.0,396.3 75.2,396.9 75.5,397.5 75.7,397.9 76.0,398.2 76.2,398.4 76.5,398.4 76.7,398.2 77.0,398.0 77.2,397.7 77.5,397.4 77.7,397.0 78.0,396.5 78.2,396.0 78.5,395.5 78.7,394.9 79.0,393.9 79.2,392.6 79.5,391.2 79.7,389.6 80.0,387.9 80.2,386.3 80.4,384.6 80.7,383.1 80.9,381.5 81.2,379.7 81.4,377.9 81.7,376.1 81.9,374.6 82.2,373.4 82.4,372.6 82.7,372.0 82.9,371.5 83.2,371.1 83.4,370.7 83.7,370.4 83.9,370.2 84.2,370.1 84.4,370.1 84.7,370.2 84.9,370.5 85.2,371.0 85.4,371.5 85.7,372.1 85.9,372.7 86.2,373.3 86.4,373.9 86.7,374.6 86.9,375.3 87.2,376.1 87.4,376.9 87.7,377.8 87.9,378.7 88.2,379.6 88.4,380.5 88.7,381.4 88.9,382.2 89.1,383.1 89.4,383.9 89.6,384.8 89.9,385.6 90.1,386.4 90.4,387.2 90.6,387.9 90.9,388.5 91.1,389.1 91.4,389.7 91.6,390.3 91.9,390.8 92.1,391.3 92.4,391.8 92.6,392.2 92.9,392.6 93.1,393.0 93.4,393.3 93.6,393.7 93.9,394.0 94.1,394.4 94.4,394.7 94.6,395.0 94.9,395.2 95.1,395.3 95.4,395.4 95.6,395.4 95.9,395.4 96.1,395.4 96.4,395.3 96.6,395.2 96.9,395.1 97.1,395.0 97.4,394.9 97.6,394.8 97.8,394.6 98.1,394.2 98.3,393.6 98.6,393.0 98.8,392.3 99.1,391.5 99.3,390.6 99.6,389.8 99.8,389.0 100.1,388.2 100.3,387.2 100.6,386.2 100.8,385.2 101.1,384.1 101.3,382.9 101.6,381.8 101.8,380.7 102.1,379.7 102.3,378.7 102.6,377.8 102.8,377.1 103.1,376.4 103.3,375.7 103.6,375.0 103.8,374.3 104.1,373.6 104.3,373.0 104.6,372.4 104.8,372.0 105.1,371.6 105.3,371.4 105.6,371.3 105.8,371.3 106.1,371.3 106.3,371.3 106.5,371.3 106.8,371.3 107.0,371.3 107.3,371.3 107.5,371.3 107.8,371.3 108.0,371.5 108.3,371.8 108.5,372.3 108.8,372.9 109.0,373.5 109.3,374.2 109.5,374.8 109.8,375.4 110.0,376.0 110.3,376.6 110.5,377.2 110.8,377.8 111.0,378.4 111.3,379.1 111.5,379.7 111.8,380.3 112.0,381.0 112.3,381.5 112.5,382.1 112.8,382.6 113.0,383.1 113.3,383.6 113.5,384.1 113.8,384.7 114.0,385.2 114.3,385.7 114.5,386.2 114.8,386.7 115.0,387.2 115.2,387.6 115.5,388.0 115.7,388.3 116.0,388.5 116.2,388.7 116.5,388.8 116.7,388.8 117.0,388.8 117.2,388.7 117.5,388.7 117.7,388.6 118.0,388.5 118.2,388.3 118.5,388.2 118.7,388.0 119.0,387.9 119.2,387.7 119.5,387.5 119.7,387.3 120.0,387.0 120.2,386.6 120.5,386.2 120.7,385.7 121.0,385.1 121.2,384.5 121.5,383.9 121.7,383.3 122.0,382.6 122.2,382.1 122.5,381.5 122.7,381.0 123.0,380.5 123.2,379.9 123.5,379.4 123.7,378.8 123.9,378.2 124.2,377.6 124.4,377.1 124.7,376.6 124.9,376.1 125.2,375.6 125.4,375.2 125.7,374.8 125.9,374.5 126.2,374.2 126.4,374.0 126.7,373.8 126.9,373.5 127.2,373.3 127.4,373.1 127.7,372.9 127.9,372.7 128.2,372.5 128.4,372.3 128.7,372.1 128.9,372.0 129.2,371.8 129.4,371.7 129.7,371.5 129.9,371.4 130.2,371.3 130.4,371.2 130.7,371.2 130.9,371.1 131.2,371.1 131.4,371.1 131.7,371.1 131.9,371.2 132.2,371.3 132.4,371.5 132.6,371.6 132.9,371.8 133.1,372.0 133.4,372.3 133.6,372.5 133.9,372.7 134.1,373.0 134.4,373.3 134.6,373.5 134.9,373.9 135.1,374.3 135.4,374.7 135.6,375.1 135.9,375.5 136.1,375.9 136.4,376.4 136.6,376.8 136.9,377.2 137.1,377.7 137.4,378.1 137.6,378.6 137.9,379.0 138.1,379.4 138.4,379.9 138.6,380.3 138.9,380.7 139.1,381.1 139.4,381.5 139.6,381.8 139.9,382.2 140.1,382.5 140.4,382.8 140.6,383.1 140.9,383.3 141.1,383.6 141.3,383.8 141.6,384.0 141.8,384.2 142.1,384.3 142.3,384.3 142.6,384.4 142.8,384.4 143.1,384.4 143.3,384.5 143.6,384.5 143.8,384.5 144.1,384.4 144.3,384.2 144.6,384.1 144.8,383.9 145.1,383.7 145.3,383.5 145.6,383.2 145.8,383.0 146.1,382.6 146.3,382.3 146.6,382.0 146.8,381.7 147.1,381.3 147.3,380.9 147.6,380.5 147.8,380.1 148.1,379.7 148.3,379.3 148.6,378.9 148.8,378.4 149.1,378.0 149.3,377.6 149.6,377.2 149.8,376.7 150.0,376.3 150.3,375.9 150.5,375.5 150.8,375.1 151.0,374.8 151.3,374.4 151.5,374.1 151.8,373.7 152.0,373.4 152.3,373.1 152.5,372.9 152.8,372.6 153.0,372.4 153.3,372.2 153.5,372.0 153.8,371.9 154.0,371.8 154.3,371.7 154.5,371.7 154.8,371.7 155.0,371.7 155.3,371.7 155.5,371.8 155.8,371.8 156.0,371.8 156.3,371.9 156.5,372.1 156.8,372.3 157.0,372.5 157.3,372.8 157.5,373.0 157.8,373.3 158.0,373.5 158.3,373.9 158.5,374.2 158.7,374.5 159.0,374.9 159.2,375.3 159.5,375.6 159.7,376.0 160.0,376.4 160.2,376.8 160.5,377.2 160.7,377.7 161.0,378.1 161.2,378.5 161.5,378.9 161.7,379.3 162.0,379.7 162.2,380.1 162.5,380.4 162.7,380.8 163.0,381.2 163.2,381.5 163.5,381.8 163.7,382.1 164.0,382.4 164.2,382.7 164.5,382.9 164.7,383.2 165.0,383.4 165.2,383.5 165.5,383.6 165.7,383.8 166.0,383.9 166.2,384.0 166.5,384.0 166.7,384.0 167.0,384.0 167.2,384.0 167.4,383.9 167.7,383.8 167.9,383.7 168.2,383.6 168.4,383.5 168.7,383.3 168.9,383.1 169.2,382.8 169.4,382.6 169.7,382.3 169.9,382.0 170.2,381.7 170.4,381.4 170.7,381.1 170.9,380.7 171.2,380.4 171.4,380.0 171.7,379.6 171.9,379.2 172.2,378.8 172.4,378.4 172.7,378.0 172.9,377.7 173.2,377.3 173.4,376.9 173.7,376.5 173.9,376.1 174.2,375.7 174.4,375.4 174.7,375.0 174.9,374.7 175.2,374.4 175.4,374.1 175.7,373.8 175.9,373.5 176.1,373.3 176.4,373.1 176.6,372.8 176.9,372.6 177.1,372.5 177.4,372.4 177.6,372.3 177.9,372.2 178.1,372.2 178.4,372.2 178.6,372.1 178.9,372.1 179.1,372.1 179.4,372.2 179.6,372.3 179.9,372.4 180.1,372.6 180.4,372.7 180.6,372.9 180.9,373.1 181.1,373.3 181.4,373.6 181.6,373.9 181.9,374.2 182.1,374.4 182.4,374.8 182.6,375.1 182.9,375.4 183.1,375.8 183.4,376.1 183.6,376.5 183.9,376.9 184.1,377.3 184.4,377.6 184.6,378.0 184.8,378.4 185.1,378.8 185.3,379.1 185.6,379.5 185.8,379.9 186.1,380.2 186.3,380.6 186.6,380.9 186.8,381.2 187.1,381.5 187.3,381.8 187.6,382.1 187.8,382.3 188.1,382.5 188.3,382.7 188.6,382.9 188.8,383.1 189.1,383.3 189.3,383.4 189.6,383.5 189.8,383.5 190.1,383.5 190.3,383.5 190.6,383.5 190.8,383.5 191.1,383.5 191.3,383.5 191.6,383.4 191.8,383.3 192.1,383.1 192.3,382.9 192.6,382.7 192.8,382.5 193.1,382.3 193.3,382.0 193.5,381.8 193.8,381.5 194.0,381.2 194.3,380.9 194.5,380.6 194.8,380.2 195.0,379.9 195.3,379.5 195.5,379.2 195.8,378.8 196.0,378.5 196.3,378.1 196.5,377.7 196.8,377.3 197.0,377.0 197.3,376.6 197.5,376.3 197.8,375.9 198.0,375.6 198.3,375.3 198.5,375.0 198.8,374.7 199.0,374.4 199.3,374.1 199.5,373.9 199.8,373.6 200.0,373.4 200.3,373.2 200.5,373.1 200.8,373.0 201.0,372.8 201.3,372.7 201.5,372.6 201.8,372.5 202.0,372.5 202.2,372.5 202.5,372.6 202.7,372.6 203.0,372.7 203.2,372.7 203.5,372.8 203.7,372.9 204.0,373.1 204.2,373.2 204.5,373.4 204.7,373.7 205.0,373.9 205.2,374.1 205.5,374.4 205.7,374.7 206.0,375.0 206.2,375.3 206.5,375.6 206.7,375.9 207.0,376.2 207.2,376.6 207.5,376.9 207.7,377.3 208.0,377.6 208.2,378.0 208.5,378.3 208.7,378.7 209.0,379.0 209.2,379.4 209.5,379.7 209.7,380.0 210.0,380.3 210.2,380.6 210.5,380.9 210.7,381.2 210.9,381.5 211.2,381.7 211.4,382.0 211.7,382.2 211.9,382.4 212.2,382.6 212.4,382.7 212.7,382.8 212.9,382.9 213.2,383.0 213.4,383.1 213.7,383.1 213.9,383.2 214.2,383.2 214.4,383.2 214.7,383.1 214.9,383.0 215.2,382.9 215.4,382.8 215.7,382.7 215.9,382.6 216.2,382.4 216.4,382.2 216.7,382.0 216.9,381.7 217.2,381.5 217.4,381.2 217.7,381.0 217.9,380.7 218.2,380.4 218.4,380.1 218.7,379.8 218.9,379.4 219.2,379.1 219.4,378.8 219.6,378.4 219.9,378.1 220.1,377.8 220.4,377.4" stroke="#666" stroke-width="1"/>
<circle cx="47.6" cy="365.5" r="1.85" fill="#f86228" stroke="#151515" stroke-width="0.6"/><circle cx="53.9" cy="362.0" r="1.85" fill="#f86228" stroke="#151515" stroke-width="0.6"/><circle cx="60.0" cy="362.3" r="1.85" fill="#f86228" stroke="#151515" stroke-width="0.6"/><circle cx="61.9" cy="362.0" r="1.85" fill="#f86228" stroke="#151515" stroke-width="0.6"/><circle cx="63.8" cy="362.3" r="1.85" fill="#f86228" stroke="#151515" stroke-width="0.6"/><circle cx="65.5" cy="360.8" r="1.85" fill="#f86228" stroke="#151515" stroke-width="0.6"/><circle cx="66.7" cy="359.1" r="1.85" fill="#f86228" stroke="#151515" stroke-width="0.6"/><circle cx="68.0" cy="360.5" r="1.85" fill="#f86228" stroke="#151515" stroke-width="0.6"/><circle cx="69.2" cy="361.1" r="1.85" fill="#f86228" stroke="#151515" stroke-width="0.6"/><circle cx="70.4" cy="363.0" r="1.85" fill="#f86228" stroke="#151515" stroke-width="0.6"/><circle cx="71.1" cy="364.1" r="1.85" fill="#f86228" stroke="#151515" stroke-width="0.6"/><circle cx="71.7" cy="368.1" r="1.85" fill="#f86228" stroke="#151515" stroke-width="0.6"/><circle cx="73.3" cy="376.9" r="1.85" fill="#f86228" stroke="#151515" stroke-width="0.6"/><circle cx="74.0" cy="382.0" r="1.85" fill="#f86228" stroke="#151515" stroke-width="0.6"/><circle cx="74.7" cy="389.7" r="1.85" fill="#f86228" stroke="#151515" stroke-width="0.6"/><circle cx="75.5" cy="393.7" r="1.85" fill="#f86228" stroke="#151515" stroke-width="0.6"/><circle cx="76.5" cy="397.3" r="1.85" fill="#f86228" stroke="#151515" stroke-width="0.6"/><circle cx="77.7" cy="398.1" r="1.85" fill="#f86228" stroke="#151515" stroke-width="0.6"/><circle cx="78.7" cy="396.2" r="1.85" fill="#f86228" stroke="#151515" stroke-width="0.6"/><circle cx="79.7" cy="395.1" r="1.85" fill="#f86228" stroke="#151515" stroke-width="0.6"/><circle cx="80.6" cy="389.3" r="1.85" fill="#f86228" stroke="#151515" stroke-width="0.6"/><circle cx="81.2" cy="383.5" r="1.85" fill="#f86228" stroke="#151515" stroke-width="0.6"/><circle cx="81.9" cy="378.4" r="1.85" fill="#f86228" stroke="#151515" stroke-width="0.6"/><circle cx="83.1" cy="372.5" r="1.85" fill="#f86228" stroke="#151515" stroke-width="0.6"/><circle cx="83.8" cy="370.3" r="1.85" fill="#f86228" stroke="#151515" stroke-width="0.6"/><circle cx="85.0" cy="365.5" r="1.85" fill="#f86228" stroke="#151515" stroke-width="0.6"/><circle cx="85.5" cy="371.8" r="1.85" fill="#f86228" stroke="#151515" stroke-width="0.6"/><circle cx="86.4" cy="373.7" r="1.85" fill="#f86228" stroke="#151515" stroke-width="0.6"/><circle cx="87.2" cy="378.4" r="1.85" fill="#f86228" stroke="#151515" stroke-width="0.6"/><circle cx="88.2" cy="382.0" r="1.85" fill="#f86228" stroke="#151515" stroke-width="0.6"/><circle cx="89.3" cy="383.5" r="1.85" fill="#f86228" stroke="#151515" stroke-width="0.6"/><circle cx="90.4" cy="385.7" r="1.85" fill="#f86228" stroke="#151515" stroke-width="0.6"/><circle cx="91.4" cy="384.9" r="1.85" fill="#f86228" stroke="#151515" stroke-width="0.6"/><circle cx="92.6" cy="387.4" r="1.85" fill="#f86228" stroke="#151515" stroke-width="0.6"/><circle cx="93.6" cy="388.6" r="1.85" fill="#f86228" stroke="#151515" stroke-width="0.6"/><circle cx="94.7" cy="390.0" r="1.85" fill="#f86228" stroke="#151515" stroke-width="0.6"/><circle cx="95.9" cy="392.7" r="1.85" fill="#f86228" stroke="#151515" stroke-width="0.6"/><circle cx="97.2" cy="393.7" r="1.85" fill="#f86228" stroke="#151515" stroke-width="0.6"/><circle cx="98.4" cy="394.7" r="1.85" fill="#f86228" stroke="#151515" stroke-width="0.6"/><circle cx="99.9" cy="389.3" r="1.85" fill="#f86228" stroke="#151515" stroke-width="0.6"/><circle cx="102.0" cy="382.7" r="1.85" fill="#f86228" stroke="#151515" stroke-width="0.6"/><circle cx="105.0" cy="373.7" r="1.85" fill="#f86228" stroke="#151515" stroke-width="0.6"/><circle cx="107.9" cy="376.9" r="1.85" fill="#f86228" stroke="#151515" stroke-width="0.6"/><circle cx="111.2" cy="375.1" r="1.85" fill="#f86228" stroke="#151515" stroke-width="0.6"/><circle cx="114.5" cy="382.4" r="1.85" fill="#f86228" stroke="#151515" stroke-width="0.6"/><circle cx="117.4" cy="389.3" r="1.85" fill="#f86228" stroke="#151515" stroke-width="0.6"/><circle cx="120.3" cy="388.3" r="1.85" fill="#f86228" stroke="#151515" stroke-width="0.6"/><circle cx="123.5" cy="384.2" r="1.85" fill="#f86228" stroke="#151515" stroke-width="0.6"/><circle cx="126.4" cy="375.7" r="1.85" fill="#f86228" stroke="#151515" stroke-width="0.6"/><circle cx="129.8" cy="372.8" r="1.85" fill="#f86228" stroke="#151515" stroke-width="0.6"/><circle cx="132.7" cy="371.1" r="1.85" fill="#f86228" stroke="#151515" stroke-width="0.6"/><circle cx="135.7" cy="378.7" r="1.85" fill="#f86228" stroke="#151515" stroke-width="0.6"/><circle cx="138.3" cy="385.6" r="1.85" fill="#f86228" stroke="#151515" stroke-width="0.6"/><circle cx="141.6" cy="386.3" r="1.85" fill="#f86228" stroke="#151515" stroke-width="0.6"/><circle cx="144.9" cy="383.9" r="1.85" fill="#f86228" stroke="#151515" stroke-width="0.6"/><circle cx="148.1" cy="379.7" r="1.85" fill="#f86228" stroke="#151515" stroke-width="0.6"/><circle cx="150.8" cy="374.2" r="1.85" fill="#f86228" stroke="#151515" stroke-width="0.6"/><circle cx="154.1" cy="373.1" r="1.85" fill="#f86228" stroke="#151515" stroke-width="0.6"/><circle cx="157.1" cy="378.1" r="1.85" fill="#f86228" stroke="#151515" stroke-width="0.6"/><circle cx="160.2" cy="379.1" r="1.85" fill="#f86228" stroke="#151515" stroke-width="0.6"/><circle cx="163.3" cy="385.2" r="1.85" fill="#f86228" stroke="#151515" stroke-width="0.6"/><circle cx="166.5" cy="383.0" r="1.85" fill="#f86228" stroke="#151515" stroke-width="0.6"/><circle cx="169.4" cy="380.0" r="1.85" fill="#f86228" stroke="#151515" stroke-width="0.6"/><circle cx="172.5" cy="373.8" r="1.85" fill="#f86228" stroke="#151515" stroke-width="0.6"/><circle cx="175.7" cy="373.8" r="1.85" fill="#f86228" stroke="#151515" stroke-width="0.6"/><circle cx="178.6" cy="375.5" r="1.85" fill="#f86228" stroke="#151515" stroke-width="0.6"/><circle cx="181.6" cy="375.8" r="1.85" fill="#f86228" stroke="#151515" stroke-width="0.6"/><circle cx="184.9" cy="380.0" r="1.85" fill="#f86228" stroke="#151515" stroke-width="0.6"/><circle cx="187.8" cy="382.6" r="1.85" fill="#f86228" stroke="#151515" stroke-width="0.6"/><circle cx="190.8" cy="376.4" r="1.85" fill="#f86228" stroke="#151515" stroke-width="0.6"/><circle cx="193.9" cy="376.0" r="1.85" fill="#f86228" stroke="#151515" stroke-width="0.6"/><circle cx="197.0" cy="374.7" r="1.85" fill="#f86228" stroke="#151515" stroke-width="0.6"/><circle cx="200.0" cy="373.1" r="1.85" fill="#f86228" stroke="#151515" stroke-width="0.6"/><circle cx="203.1" cy="371.8" r="1.85" fill="#f86228" stroke="#151515" stroke-width="0.6"/><circle cx="206.0" cy="379.4" r="1.85" fill="#f86228" stroke="#151515" stroke-width="0.6"/><circle cx="208.8" cy="379.4" r="1.85" fill="#f86228" stroke="#151515" stroke-width="0.6"/><circle cx="212.3" cy="379.1" r="1.85" fill="#f86228" stroke="#151515" stroke-width="0.6"/><circle cx="215.4" cy="380.4" r="1.85" fill="#f86228" stroke="#151515" stroke-width="0.6"/>
<line x1="40.8" x2="71.5" y1="406.4" y2="406.4" stroke="#333" stroke-width="1"/>
<polyline fill="none" points="71.5,407.0 71.7,408.9 72.0,410.7 72.2,412.4 72.5,414.0 72.7,415.6 73.0,417.1 73.2,418.6 73.5,419.8 73.7,420.9 74.0,421.9 74.2,422.9 74.5,423.7 74.7,424.5 75.0,425.1 75.2,425.6 75.5,426.1 75.7,426.6 76.0,427.1 76.2,427.4 76.5,427.7 76.7,427.8 77.0,427.7 77.2,427.4 77.5,427.0 77.7,426.6 78.0,426.0 78.2,425.4 78.5,424.7 78.7,423.8 79.0,422.6 79.2,421.3 79.5,419.9 79.7,418.6 80.0,417.5 80.2,416.3 80.4,415.0 80.7,413.8 80.9,412.6 81.2,411.6 81.4,410.7 81.7,410.2 81.9,409.8 82.2,409.4 82.4,409.1 82.7,408.8 82.9,408.6 83.2,408.4 83.4,408.3 83.7,408.3 83.9,408.5 84.2,408.9 84.4,409.4 84.7,410.0 84.9,410.7 85.2,411.3 85.4,411.9 85.7,412.4 85.9,412.9 86.2,413.5 86.4,414.1 86.7,414.6 86.9,415.2 87.2,415.7 87.4,416.2 87.7,416.6 87.9,417.0 88.2,417.3 88.4,417.7 88.7,417.9 88.9,418.2 89.1,418.5 89.4,418.7 89.6,419.0 89.9,419.2 90.1,419.4 90.4,419.6 90.6,419.8 90.9,420.0 91.1,420.2 91.4,420.4 91.6,420.6 91.9,420.8 92.1,421.0 92.4,421.2 92.6,421.4 92.9,421.6 93.1,421.8 93.4,421.9 93.6,422.0 93.9,422.1 94.1,422.2 94.4,422.2 94.6,422.2 94.9,422.2 95.1,422.1 95.4,422.1 95.6,422.1 95.9,422.0 96.1,422.0 96.4,421.9 96.6,421.8 96.9,421.8 97.1,421.7 97.4,421.6 97.6,421.5 97.8,421.3 98.1,421.0 98.3,420.6 98.6,420.2 98.8,419.6 99.1,419.0 99.3,418.4 99.6,417.8 99.8,417.1 100.1,416.5 100.3,415.9 100.6,415.3 100.8,414.7 101.1,414.0 101.3,413.2 101.6,412.5 101.8,411.7 102.1,410.9 102.3,410.1 102.6,409.4 102.8,408.7 103.1,408.1 103.3,407.6 103.6,407.2 103.8,406.9 104.1,406.7 104.3,406.5 104.6,406.3 104.8,406.1 105.1,406.0 105.3,405.8 105.6,405.7 105.8,405.6 106.1,405.5 106.3,405.4 106.5,405.4 106.8,405.3 107.0,405.3 107.3,405.4 107.5,405.5 107.8,405.7 108.0,405.8 108.3,406.1 108.5,406.3 108.8,406.6 109.0,406.9 109.3,407.2 109.5,407.5 109.8,407.9 110.0,408.2 110.3,408.5 110.5,409.0 110.8,409.4 111.0,410.0 111.3,410.5 111.5,411.1 111.8,411.8 112.0,412.4 112.3,413.0 112.5,413.7 112.8,414.3 113.0,414.8 113.3,415.4 113.5,415.9 113.8,416.5 114.0,417.2 114.3,417.8 114.5,418.4 114.8,419.0 115.0,419.6 115.2,420.1 115.5,420.6 115.7,421.0 116.0,421.3 116.2,421.5 116.5,421.6 116.7,421.7 117.0,421.8 117.2,421.9 117.5,422.0 117.7,422.0 118.0,422.1 118.2,422.1 118.5,422.2 118.7,422.2 119.0,422.1 119.2,422.0 119.5,421.8 119.7,421.5 120.0,421.1 120.2,420.6 120.5,420.2 120.7,419.7 121.0,419.1 121.2,418.6 121.5,418.1 121.7,417.6 122.0,417.2 122.2,416.8 122.5,416.4 122.7,415.9 123.0,415.5 123.2,415.1 123.5,414.6 123.7,414.2 123.9,413.8 124.2,413.3 124.4,412.9 124.7,412.5 124.9,412.1 125.2,411.7 125.4,411.4 125.7,411.1 125.9,410.7 126.2,410.4 126.4,410.1 126.7,409.8 126.9,409.4 127.2,409.1 127.4,408.8 127.7,408.5 127.9,408.2 128.2,407.9 128.4,407.6 128.7,407.4 128.9,407.2 129.2,407.1 129.4,407.0 129.7,406.9 129.9,406.9 130.2,406.9 130.4,407.0 130.7,407.1 130.9,407.3 131.2,407.4 131.4,407.6 131.7,407.9 131.9,408.1 132.2,408.3 132.4,408.6 132.6,408.8 132.9,409.1 133.1,409.4 133.4,409.7 133.6,410.1 133.9,410.5 134.1,411.0 134.4,411.4 134.6,411.8 134.9,412.2 135.1,412.7 135.4,413.1 135.6,413.6 135.9,414.0 136.1,414.4 136.4,414.9 136.6,415.3 136.9,415.8 137.1,416.2 137.4,416.6 137.6,417.0 137.9,417.4 138.1,417.7 138.4,418.1 138.6,418.4 138.9,418.7 139.1,419.0 139.4,419.2 139.6,419.5 139.9,419.7 140.1,419.9 140.4,420.1 140.6,420.2 140.9,420.2 141.1,420.3 141.3,420.3 141.6,420.3 141.8,420.4 142.1,420.4 142.3,420.3 142.6,420.2 142.8,420.1 143.1,419.9 143.3,419.7 143.6,419.5 143.8,419.3 144.1,419.1 144.3,418.8 144.6,418.5 144.8,418.1 145.1,417.8 145.3,417.5 145.6,417.1 145.8,416.7 146.1,416.3 146.3,415.9 146.6,415.5 146.8,415.0 147.1,414.6 147.3,414.2 147.6,413.7 147.8,413.3 148.1,412.9 148.3,412.5 148.6,412.0 148.8,411.6 149.1,411.2 149.3,410.8 149.6,410.4 149.8,410.1 150.0,409.7 150.3,409.4 150.5,409.1 150.8,408.8 151.0,408.5 151.3,408.3 151.5,408.1 151.8,407.9 152.0,407.7 152.3,407.5 152.5,407.4 152.8,407.3 153.0,407.3 153.3,407.3 153.5,407.4 153.8,407.4 154.0,407.4 154.3,407.4 154.5,407.5 154.8,407.6 155.0,407.8 155.3,408.0 155.5,408.2 155.8,408.5 156.0,408.7 156.3,409.0 156.5,409.3 156.8,409.6 157.0,410.0 157.3,410.3 157.5,410.7 157.8,411.0 158.0,411.4 158.3,411.9 158.5,412.3 158.7,412.7 159.0,413.1 159.2,413.5 159.5,413.9 159.7,414.4 160.0,414.8 160.2,415.2 160.5,415.6 160.7,416.0 161.0,416.4 161.2,416.8 161.5,417.2 161.7,417.5 162.0,417.8 162.2,418.1 162.5,418.4 162.7,418.7 163.0,419.0 163.2,419.2 163.5,419.4 163.7,419.6 164.0,419.7 164.2,419.8 164.5,419.9 164.7,420.0 165.0,420.1 165.2,420.1 165.5,420.1 165.7,420.0 166.0,419.9 166.2,419.8 166.5,419.7 166.7,419.6 167.0,419.5 167.2,419.3 167.4,419.1 167.7,418.8 167.9,418.5 168.2,418.3 168.4,418.0 168.7,417.7 168.9,417.3 169.2,416.9 169.4,416.6 169.7,416.2 169.9,415.8 170.2,415.4 170.4,415.0 170.7,414.6 170.9,414.2 171.2,413.8 171.4,413.4 171.7,413.0 171.9,412.6 172.2,412.1 172.4,411.8 172.7,411.4 172.9,411.0 173.2,410.6 173.4,410.3 173.7,410.0 173.9,409.6 174.2,409.3 174.4,409.1 174.7,408.8 174.9,408.6 175.2,408.3 175.4,408.1 175.7,408.0 175.9,407.9 176.1,407.8 176.4,407.7 176.6,407.7 176.9,407.6 177.1,407.6 177.4,407.6 177.6,407.6 177.9,407.7 178.1,407.8 178.4,408.0 178.6,408.1 178.9,408.3 179.1,408.5 179.4,408.7 179.6,408.9 179.9,409.2 180.1,409.5 180.4,409.8 180.6,410.1 180.9,410.4 181.1,410.8 181.4,411.2 181.6,411.5 181.9,411.9 182.1,412.3 182.4,412.7 182.6,413.1 182.9,413.5 183.1,413.9 183.4,414.3 183.6,414.7 183.9,415.1 184.1,415.5 184.4,415.9 184.6,416.2 184.8,416.6 185.1,416.9 185.3,417.3 185.6,417.6 185.8,417.9 186.1,418.2 186.3,418.4 186.6,418.7 186.8,418.9 187.1,419.1 187.3,419.3 187.6,419.5 187.8,419.6 188.1,419.7 188.3,419.7 188.6,419.7 188.8,419.7 189.1,419.6 189.3,419.6 189.6,419.6 189.8,419.6 190.1,419.5 190.3,419.4 190.6,419.2 190.8,419.0 191.1,418.8 191.3,418.6 191.6,418.3 191.8,418.1 192.1,417.8 192.3,417.5 192.6,417.1 192.8,416.8 193.1,416.5 193.3,416.1 193.5,415.8 193.8,415.4 194.0,415.0 194.3,414.6 194.5,414.2 194.8,413.8 195.0,413.4 195.3,413.0 195.5,412.6 195.8,412.3 196.0,411.9 196.3,411.5 196.5,411.2 196.8,410.8 197.0,410.5 197.3,410.2 197.5,409.9 197.8,409.6 198.0,409.3 198.3,409.1 198.5,408.8 198.8,408.6 199.0,408.5 199.3,408.3 199.5,408.2 199.8,408.1 200.0,408.0 200.3,407.9 200.5,407.9 200.8,407.9 201.0,408.0 201.3,408.0 201.5,408.1 201.8,408.1 202.0,408.2 202.2,408.3 202.5,408.5 202.7,408.7 203.0,408.9 203.2,409.2 203.5,409.4 203.7,409.7 204.0,409.9 204.2,410.3 204.5,410.6 204.7,410.9 205.0,411.3 205.2,411.6 205.5,412.0 205.7,412.3 206.0,412.7 206.2,413.1 206.5,413.5 206.7,413.8 207.0,414.2 207.2,414.6 207.5,415.0 207.7,415.4 208.0,415.7 208.2,416.1 208.5,416.4 208.7,416.7 209.0,417.1 209.2,417.4 209.5,417.7 209.7,417.9 210.0,418.2 210.2,418.4 210.5,418.6 210.7,418.8 210.9,419.0 211.2,419.1 211.4,419.2 211.7,419.3 211.9,419.4 212.2,419.4 212.4,419.4 212.7,419.5 212.9,419.4 213.2,419.4 213.4,419.3 213.7,419.2 213.9,419.1 214.2,418.9 214.4,418.8 214.7,418.6 214.9,418.4 215.2,418.1 215.4,417.9 215.7,417.6 215.9,417.3 216.2,417.0 216.4,416.7 216.7,416.4 216.9,416.0 217.2,415.7 217.4,415.3 217.7,415.0 217.9,414.6 218.2,414.2 218.4,413.9 218.7,413.5 218.9,413.1 219.2,412.7 219.4,412.4 219.6,412.0 219.9,411.7 220.1,411.3 220.4,411.0" stroke="#666" stroke-width="1"/>
<circle cx="46.6" cy="406.2" r="1.85" fill="#f6955a" stroke="#151515" stroke-width="0.6"/><circle cx="52.3" cy="409.1" r="1.85" fill="#f6955a" stroke="#151515" stroke-width="0.6"/><circle cx="58.3" cy="410.4" r="1.85" fill="#f6955a" stroke="#151515" stroke-width="0.6"/><circle cx="61.9" cy="410.2" r="1.85" fill="#f6955a" stroke="#151515" stroke-width="0.6"/><circle cx="62.5" cy="404.5" r="1.85" fill="#f6955a" stroke="#151515" stroke-width="0.6"/><circle cx="64.4" cy="403.3" r="1.85" fill="#f6955a" stroke="#151515" stroke-width="0.6"/><circle cx="65.7" cy="407.0" r="1.85" fill="#f6955a" stroke="#151515" stroke-width="0.6"/><circle cx="66.9" cy="405.2" r="1.85" fill="#f6955a" stroke="#151515" stroke-width="0.6"/><circle cx="68.2" cy="403.9" r="1.85" fill="#f6955a" stroke="#151515" stroke-width="0.6"/><circle cx="69.4" cy="405.8" r="1.85" fill="#f6955a" stroke="#151515" stroke-width="0.6"/><circle cx="70.7" cy="407.0" r="1.85" fill="#f6955a" stroke="#151515" stroke-width="0.6"/><circle cx="71.6" cy="407.9" r="1.85" fill="#f6955a" stroke="#151515" stroke-width="0.6"/><circle cx="72.2" cy="413.0" r="1.85" fill="#f6955a" stroke="#151515" stroke-width="0.6"/><circle cx="72.8" cy="417.1" r="1.85" fill="#f6955a" stroke="#151515" stroke-width="0.6"/><circle cx="74.1" cy="420.3" r="1.85" fill="#f6955a" stroke="#151515" stroke-width="0.6"/><circle cx="75.1" cy="423.4" r="1.85" fill="#f6955a" stroke="#151515" stroke-width="0.6"/><circle cx="75.7" cy="425.3" r="1.85" fill="#f6955a" stroke="#151515" stroke-width="0.6"/><circle cx="75.1" cy="428.4" r="1.85" fill="#f6955a" stroke="#151515" stroke-width="0.6"/><circle cx="76.6" cy="434.7" r="1.85" fill="#f6955a" stroke="#151515" stroke-width="0.6"/><circle cx="78.2" cy="424.7" r="1.85" fill="#f6955a" stroke="#151515" stroke-width="0.6"/><circle cx="79.1" cy="427.8" r="1.85" fill="#f6955a" stroke="#151515" stroke-width="0.6"/><circle cx="80.1" cy="417.7" r="1.85" fill="#f6955a" stroke="#151515" stroke-width="0.6"/><circle cx="81.1" cy="417.1" r="1.85" fill="#f6955a" stroke="#151515" stroke-width="0.6"/><circle cx="82.0" cy="410.8" r="1.85" fill="#f6955a" stroke="#151515" stroke-width="0.6"/><circle cx="82.9" cy="407.7" r="1.85" fill="#f6955a" stroke="#151515" stroke-width="0.6"/><circle cx="83.9" cy="412.1" r="1.85" fill="#f6955a" stroke="#151515" stroke-width="0.6"/><circle cx="84.5" cy="414.0" r="1.85" fill="#f6955a" stroke="#151515" stroke-width="0.6"/><circle cx="85.2" cy="416.5" r="1.85" fill="#f6955a" stroke="#151515" stroke-width="0.6"/><circle cx="86.4" cy="419.0" r="1.85" fill="#f6955a" stroke="#151515" stroke-width="0.6"/><circle cx="87.7" cy="419.6" r="1.85" fill="#f6955a" stroke="#151515" stroke-width="0.6"/><circle cx="88.9" cy="420.3" r="1.85" fill="#f6955a" stroke="#151515" stroke-width="0.6"/><circle cx="90.2" cy="420.9" r="1.85" fill="#f6955a" stroke="#151515" stroke-width="0.6"/><circle cx="91.4" cy="420.9" r="1.85" fill="#f6955a" stroke="#151515" stroke-width="0.6"/><circle cx="92.7" cy="421.5" r="1.85" fill="#f6955a" stroke="#151515" stroke-width="0.6"/><circle cx="94.0" cy="422.1" r="1.85" fill="#f6955a" stroke="#151515" stroke-width="0.6"/><circle cx="95.8" cy="424.0" r="1.85" fill="#f6955a" stroke="#151515" stroke-width="0.6"/><circle cx="97.1" cy="421.5" r="1.85" fill="#f6955a" stroke="#151515" stroke-width="0.6"/><circle cx="99.6" cy="420.0" r="1.85" fill="#f6955a" stroke="#151515" stroke-width="0.6"/><circle cx="102.8" cy="409.6" r="1.85" fill="#f6955a" stroke="#151515" stroke-width="0.6"/><circle cx="105.9" cy="413.3" r="1.85" fill="#f6955a" stroke="#151515" stroke-width="0.6"/><circle cx="109.1" cy="412.5" r="1.85" fill="#f6955a" stroke="#151515" stroke-width="0.6"/><circle cx="111.6" cy="409.6" r="1.85" fill="#f6955a" stroke="#151515" stroke-width="0.6"/><circle cx="115.1" cy="422.8" r="1.85" fill="#f6955a" stroke="#151515" stroke-width="0.6"/><circle cx="118.1" cy="420.9" r="1.85" fill="#f6955a" stroke="#151515" stroke-width="0.6"/><circle cx="121.3" cy="415.2" r="1.85" fill="#f6955a" stroke="#151515" stroke-width="0.6"/><circle cx="124.4" cy="414.6" r="1.85" fill="#f6955a" stroke="#151515" stroke-width="0.6"/><circle cx="127.5" cy="414.6" r="1.85" fill="#f6955a" stroke="#151515" stroke-width="0.6"/><circle cx="130.7" cy="408.9" r="1.85" fill="#f6955a" stroke="#151515" stroke-width="0.6"/><circle cx="133.6" cy="414.0" r="1.85" fill="#f6955a" stroke="#151515" stroke-width="0.6"/><circle cx="136.6" cy="418.4" r="1.85" fill="#f6955a" stroke="#151515" stroke-width="0.6"/><circle cx="139.6" cy="419.7" r="1.85" fill="#f6955a" stroke="#151515" stroke-width="0.6"/><circle cx="142.9" cy="419.7" r="1.85" fill="#f6955a" stroke="#151515" stroke-width="0.6"/><circle cx="146.2" cy="421.7" r="1.85" fill="#f6955a" stroke="#151515" stroke-width="0.6"/><circle cx="149.2" cy="408.1" r="1.85" fill="#f6955a" stroke="#151515" stroke-width="0.6"/><circle cx="152.1" cy="409.1" r="1.85" fill="#f6955a" stroke="#151515" stroke-width="0.6"/><circle cx="155.0" cy="412.5" r="1.85" fill="#f6955a" stroke="#151515" stroke-width="0.6"/><circle cx="158.3" cy="412.3" r="1.85" fill="#f6955a" stroke="#151515" stroke-width="0.6"/><circle cx="161.7" cy="422.3" r="1.85" fill="#f6955a" stroke="#151515" stroke-width="0.6"/><circle cx="164.2" cy="417.3" r="1.85" fill="#f6955a" stroke="#151515" stroke-width="0.6"/><circle cx="167.5" cy="417.6" r="1.85" fill="#f6955a" stroke="#151515" stroke-width="0.6"/><circle cx="170.7" cy="410.5" r="1.85" fill="#f6955a" stroke="#151515" stroke-width="0.6"/><circle cx="173.8" cy="412.3" r="1.85" fill="#f6955a" stroke="#151515" stroke-width="0.6"/><circle cx="176.8" cy="413.4" r="1.85" fill="#f6955a" stroke="#151515" stroke-width="0.6"/><circle cx="179.9" cy="411.2" r="1.85" fill="#f6955a" stroke="#151515" stroke-width="0.6"/><circle cx="183.0" cy="416.0" r="1.85" fill="#f6955a" stroke="#151515" stroke-width="0.6"/><circle cx="186.2" cy="422.6" r="1.85" fill="#f6955a" stroke="#151515" stroke-width="0.6"/><circle cx="189.3" cy="415.6" r="1.85" fill="#f6955a" stroke="#151515" stroke-width="0.6"/><circle cx="192.4" cy="417.1" r="1.85" fill="#f6955a" stroke="#151515" stroke-width="0.6"/><circle cx="195.4" cy="414.7" r="1.85" fill="#f6955a" stroke="#151515" stroke-width="0.6"/><circle cx="198.3" cy="407.2" r="1.85" fill="#f6955a" stroke="#151515" stroke-width="0.6"/><circle cx="201.6" cy="405.9" r="1.85" fill="#f6955a" stroke="#151515" stroke-width="0.6"/><circle cx="204.6" cy="414.4" r="1.85" fill="#f6955a" stroke="#151515" stroke-width="0.6"/><circle cx="207.7" cy="415.8" r="1.85" fill="#f6955a" stroke="#151515" stroke-width="0.6"/><circle cx="210.8" cy="416.3" r="1.85" fill="#f6955a" stroke="#151515" stroke-width="0.6"/><circle cx="213.8" cy="418.4" r="1.85" fill="#f6955a" stroke="#151515" stroke-width="0.6"/><circle cx="216.9" cy="412.1" r="1.85" fill="#f6955a" stroke="#151515" stroke-width="0.6"/>
<line x1="247.6" x2="278.4" y1="48.4" y2="48.4" stroke="#333" stroke-width="1"/>
<polyline fill="none" points="278.4,48.4 278.6,50.4 278.9,52.2 279.1,54.0 279.4,55.7 279.6,57.3 279.9,58.8 280.1,60.3 280.4,61.7 280.6,62.9 280.9,64.2 281.1,65.3 281.4,66.4 281.6,67.5 281.9,68.5 282.1,69.4 282.4,70.3 282.6,71.1 282.9,71.9 283.1,72.7 283.4,73.4 283.6,74.1 283.9,74.7 284.1,75.3 284.4,75.9 284.6,76.4 284.9,77.0 285.1,77.4 285.4,77.9 285.6,78.3 285.9,78.8 286.1,79.2 286.4,79.5 286.6,79.9 286.9,80.2 287.1,80.5 287.4,80.8 287.6,81.1 287.9,81.4 288.1,81.6 288.4,81.9 288.6,82.1 288.9,82.3 289.1,82.5 289.4,82.7 289.6,82.9 289.9,83.1 290.1,83.3 290.4,83.4 290.6,83.6 290.9,83.7 291.1,83.9 291.4,84.0 291.6,84.1 291.9,84.2 292.1,84.3 292.4,84.4 292.6,84.5 292.9,84.6 293.1,84.7 293.4,84.8 293.6,84.9 293.9,84.9 294.1,85.0 294.4,85.1 294.6,85.1 294.9,85.2 295.1,85.2 295.4,85.3 295.6,85.4 295.9,85.4 296.1,85.4 296.4,85.5 296.6,85.5 296.9,85.6 297.1,85.6 297.4,85.6 297.6,85.7 297.9,85.7 298.1,85.7 298.4,85.8 298.6,85.8 298.8,85.8 299.1,85.8 299.3,85.9 299.6,85.9 299.8,85.9 300.1,85.9 300.3,85.9 300.6,86.0 300.8,86.0 301.1,86.0 301.3,86.0 301.6,86.0 301.8,86.0 302.1,86.0 302.3,86.1 302.6,86.1 302.8,86.1 303.1,86.1 303.3,86.1 303.6,86.1 303.8,86.1 304.1,86.1 304.3,86.1 304.6,86.1 304.8,86.1 305.1,86.2 305.3,86.2 305.6,86.2 305.8,86.2 306.1,86.2 306.3,86.2 306.6,86.2 306.8,86.2 307.1,86.2 307.3,86.2 307.6,86.2 307.8,86.2 308.1,86.2 308.3,86.2 308.6,86.2 308.8,86.2 309.1,86.2 309.3,86.2 309.6,86.2 309.8,86.2 310.1,86.2 310.3,86.2 310.6,86.2 310.8,86.2 311.1,86.2 311.3,86.2 311.6,86.2 311.8,86.2 312.1,86.2 312.3,86.2 312.6,86.2 312.8,86.2 313.1,86.2 313.3,86.2 313.6,86.2 313.8,86.3 314.1,86.3 314.3,86.3 314.6,86.3 314.8,86.3 315.1,86.3 315.3,86.3 315.6,86.3 315.8,86.3 316.1,86.3 316.3,86.3 316.6,86.3 316.8,86.3 317.1,86.3 317.3,86.3 317.6,86.3 317.8,86.3 318.1,86.3 318.3,86.3 318.6,86.3 318.8,86.3 319.0,86.3 319.3,86.3 319.5,86.3 319.8,86.3 320.0,86.3 320.3,86.3 320.5,86.3 320.8,86.3 321.0,86.3 321.3,86.3 321.5,86.3 321.8,86.3 322.0,86.3 322.3,86.3 322.5,86.3 322.8,86.3 323.0,86.3 323.3,86.3 323.5,86.3 323.8,86.3 324.0,86.3 324.3,86.3 324.5,86.3 324.8,86.3 325.0,86.3 325.3,86.3 325.5,86.3 325.8,86.3 326.0,86.3 326.3,86.3 326.5,86.3 326.8,86.3 327.0,86.3 327.3,86.3 327.5,86.3 327.8,86.3 328.0,86.3 328.3,86.3 328.5,86.3 328.8,86.3 329.0,86.3 329.3,86.3 329.5,86.3 329.8,86.3 330.0,86.3 330.3,86.3 330.5,86.3 330.8,86.3 331.0,86.3 331.3,86.3 331.5,86.3 331.8,86.3 332.0,86.3 332.3,86.3 332.5,86.3 332.8,86.3 333.0,86.3 333.3,86.3 333.5,86.3 333.8,86.3 334.0,86.3 334.3,86.3 334.5,86.3 334.8,86.3 335.0,86.3 335.3,86.3 335.5,86.3 335.8,86.3 336.0,86.3 336.3,86.3 336.5,86.3 336.8,86.3 337.0,86.3 337.3,86.3 337.5,86.3 337.8,86.3 338.0,86.3 338.3,86.3 338.5,86.3 338.8,86.3 339.0,86.3 339.2,86.3 339.5,86.3 339.7,86.3 340.0,86.3 340.2,86.3 340.5,86.3 340.7,86.3 341.0,86.3 341.2,86.3 341.5,86.3 341.7,86.3 342.0,86.3 342.2,86.3 342.5,86.3 342.7,86.3 343.0,86.3 343.2,86.3 343.5,86.3 343.7,86.3 344.0,86.3 344.2,86.3 344.5,86.3 344.7,86.3 345.0,86.3 345.2,86.3 345.5,86.3 345.7,86.3 346.0,86.3 346.2,86.3 346.5,86.3 346.7,86.3 347.0,86.3 347.2,86.3 347.5,86.3 347.7,86.3 348.0,86.3 348.2,86.3 348.5,86.3 348.7,86.3 349.0,86.3 349.2,86.3 349.5,86.3 349.7,86.3 350.0,86.3 350.2,86.3 350.5,86.3 350.7,86.3 351.0,86.3 351.2,86.3 351.5,86.3 351.7,86.3 352.0,86.3 352.2,86.3 352.5,86.3 352.7,86.3 353.0,86.3 353.2,86.3 353.5,86.3 353.7,86.3 354.0,86.3 354.2,86.3 354.5,86.3 354.7,86.3 355.0,86.3 355.2,86.3 355.5,86.3 355.7,86.3 356.0,86.3 356.2,86.3 356.5,86.3 356.7,86.3 357.0,86.3 357.2,86.3 357.5,86.3 357.7,86.3 358.0,86.3 358.2,86.3 358.5,86.3 358.7,86.3 359.0,86.3 359.2,86.3 359.4,86.3 359.7,86.3 359.9,86.3 360.2,86.3 360.4,86.3 360.7,86.3 360.9,86.3 361.2,86.3 361.4,86.3 361.7,86.3 361.9,86.3 362.2,86.3 362.4,86.3 362.7,86.3 362.9,86.3 363.2,86.3 363.4,86.3 363.7,86.3 363.9,86.3 364.2,86.3 364.4,86.3 364.7,86.3 364.9,86.3 365.2,86.3 365.4,86.3 365.7,86.3 365.9,86.3 366.2,86.3 366.4,86.3 366.7,86.3 366.9,86.3 367.2,86.3 367.4,86.3 367.7,86.3 367.9,86.3 368.2,86.3 368.4,86.3 368.7,86.3 368.9,86.3 369.2,86.3 369.4,86.3 369.7,86.3 369.9,86.3 370.2,86.3 370.4,86.3 370.7,86.3 370.9,86.3 371.2,86.3 371.4,86.3 371.7,86.3 371.9,86.3 372.2,86.3 372.4,86.3 372.7,86.3 372.9,86.3 373.2,86.3 373.4,86.3 373.7,86.3 373.9,86.3 374.2,86.3 374.4,86.3 374.7,86.3 374.9,86.3 375.2,86.3 375.4,86.3 375.7,86.3 375.9,86.3 376.2,86.3 376.4,86.3 376.7,86.3 376.9,86.3 377.2,86.3 377.4,86.3 377.7,86.3 377.9,86.3 378.2,86.3 378.4,86.3 378.7,86.3 378.9,86.3 379.2,86.3 379.4,86.3 379.6,86.3 379.9,86.3 380.1,86.3 380.4,86.3 380.6,86.3 380.9,86.3 381.1,86.3 381.4,86.3 381.6,86.3 381.9,86.3 382.1,86.3 382.4,86.3 382.6,86.3 382.9,86.3 383.1,86.3 383.4,86.3 383.6,86.3 383.9,86.3 384.1,86.3 384.4,86.3 384.6,86.3 384.9,86.3 385.1,86.3 385.4,86.3 385.6,86.3 385.9,86.3 386.1,86.3 386.4,86.3 386.6,86.3 386.9,86.3 387.1,86.3 387.4,86.3 387.6,86.3 387.9,86.3 388.1,86.3 388.4,86.3 388.6,86.3 388.9,86.3 389.1,86.3 389.4,86.3 389.6,86.3 389.9,86.3 390.1,86.3 390.4,86.3 390.6,86.3 390.9,86.3 391.1,86.3 391.4,86.3 391.6,86.3 391.9,86.3 392.1,86.3 392.4,86.3 392.6,86.3 392.9,86.3 393.1,86.3 393.4,86.3 393.6,86.3 393.9,86.3 394.1,86.3 394.4,86.3 394.6,86.3 394.9,86.3 395.1,86.3 395.4,86.3 395.6,86.3 395.9,86.3 396.1,86.3 396.4,86.3 396.6,86.3 396.9,86.3 397.1,86.3 397.4,86.3 397.6,86.3 397.9,86.3 398.1,86.3 398.4,86.3 398.6,86.3 398.9,86.3 399.1,86.3 399.4,86.3 399.6,86.3 399.8,86.3 400.1,86.3 400.3,86.3 400.6,86.3 400.8,86.3 401.1,86.3 401.3,86.3 401.6,86.3 401.8,86.3 402.1,86.3 402.3,86.3 402.6,86.3 402.8,86.3 403.1,86.3 403.3,86.3 403.6,86.3 403.8,86.3 404.1,86.3 404.3,86.3 404.6,86.3 404.8,86.3 405.1,86.3 405.3,86.3 405.6,86.3 405.8,86.3 406.1,86.3 406.3,86.3 406.6,86.3 406.8,86.3 407.1,86.3 407.3,86.3 407.6,86.3 407.8,86.3 408.1,86.3 408.3,86.3 408.6,86.3 408.8,86.3 409.1,86.3 409.3,86.3 409.6,86.3 409.8,86.3 410.1,86.3 410.3,86.3 410.6,86.3 410.8,86.3 411.1,86.3 411.3,86.3 411.6,86.3 411.8,86.3 412.1,86.3 412.3,86.3 412.6,86.3 412.8,86.3 413.1,86.3 413.3,86.3 413.6,86.3 413.8,86.3 414.1,86.3 414.3,86.3 414.6,86.3 414.8,86.3 415.1,86.3 415.3,86.3 415.6,86.3 415.8,86.3 416.1,86.3 416.3,86.3 416.6,86.3 416.8,86.3 417.1,86.3 417.3,86.3 417.6,86.3 417.8,86.3 418.1,86.3 418.3,86.3 418.6,86.3 418.8,86.3 419.1,86.3 419.3,86.3 419.6,86.3 419.8,86.3 420.0,86.3 420.3,86.3 420.5,86.3 420.8,86.3 421.0,86.3 421.3,86.3 421.5,86.3 421.8,86.3 422.0,86.3 422.3,86.3 422.5,86.3 422.8,86.3 423.0,86.3 423.3,86.3 423.5,86.3 423.8,86.3 424.0,86.3 424.3,86.3 424.5,86.3 424.8,86.3 425.0,86.3 425.3,86.3 425.5,86.3 425.8,86.3 426.0,86.3 426.3,86.3 426.5,86.3 426.8,86.3 427.0,86.3 427.3,86.3 427.5,86.3 427.8,86.3" stroke="#555" stroke-width="1"/>
<path d="M251.7 44.9V51.1M250.3 44.9h2.8M250.3 51.1h2.8" stroke="#333" stroke-width="0.75" fill="none"/><path d="M258.1 46.9V52.7M256.7 46.9h2.8M256.7 52.7h2.8" stroke="#333" stroke-width="0.75" fill="none"/><path d="M264.3 42.7V50.1M262.9 42.7h2.8M262.9 50.1h2.8" stroke="#333" stroke-width="0.75" fill="none"/><path d="M269.0 48.0V55.0M267.6 48.0h2.8M267.6 55.0h2.8" stroke="#333" stroke-width="0.75" fill="none"/><path d="M271.8 54.7V61.7M270.4 54.7h2.8M270.4 61.7h2.8" stroke="#333" stroke-width="0.75" fill="none"/><path d="M275.2 39.8V45.4M273.8 39.8h2.8M273.8 45.4h2.8" stroke="#333" stroke-width="0.75" fill="none"/><path d="M278.0 48.4V54.6M276.6 48.4h2.8M276.6 54.6h2.8" stroke="#333" stroke-width="0.75" fill="none"/><path d="M279.4 57.1V64.3M278.0 57.1h2.8M278.0 64.3h2.8" stroke="#333" stroke-width="0.75" fill="none"/><path d="M281.1 68.3V73.9M279.7 68.3h2.8M279.7 73.9h2.8" stroke="#333" stroke-width="0.75" fill="none"/><path d="M283.3 76.2V83.4M281.9 76.2h2.8M281.9 83.4h2.8" stroke="#333" stroke-width="0.75" fill="none"/><path d="M284.4 72.1V78.5M283.0 72.1h2.8M283.0 78.5h2.8" stroke="#333" stroke-width="0.75" fill="none"/><path d="M287.3 71.3V76.9M285.9 71.3h2.8M285.9 76.9h2.8" stroke="#333" stroke-width="0.75" fill="none"/><path d="M290.3 74.3V80.3M288.9 74.3h2.8M288.9 80.3h2.8" stroke="#333" stroke-width="0.75" fill="none"/><path d="M293.7 85.0V90.2M292.3 85.0h2.8M292.3 90.2h2.8" stroke="#333" stroke-width="0.75" fill="none"/><path d="M296.7 84.8V91.6M295.3 84.8h2.8M295.3 91.6h2.8" stroke="#333" stroke-width="0.75" fill="none"/><path d="M299.9 89.9V96.7M298.5 89.9h2.8M298.5 96.7h2.8" stroke="#333" stroke-width="0.75" fill="none"/><path d="M302.9 79.4V84.6M301.5 79.4h2.8M301.5 84.6h2.8" stroke="#333" stroke-width="0.75" fill="none"/><path d="M307.4 84.5V90.3M306.0 84.5h2.8M306.0 90.3h2.8" stroke="#333" stroke-width="0.75" fill="none"/><path d="M313.5 83.5V90.5M312.1 83.5h2.8M312.1 90.5h2.8" stroke="#333" stroke-width="0.75" fill="none"/><path d="M316.8 92.3V97.9M315.4 92.3h2.8M315.4 97.9h2.8" stroke="#333" stroke-width="0.75" fill="none"/><path d="M319.7 84.7V91.1M318.3 84.7h2.8M318.3 91.1h2.8" stroke="#333" stroke-width="0.75" fill="none"/><path d="M322.7 80.5V87.5M321.3 80.5h2.8M321.3 87.5h2.8" stroke="#333" stroke-width="0.75" fill="none"/><path d="M326.0 93.1V99.5M324.6 93.1h2.8M324.6 99.5h2.8" stroke="#333" stroke-width="0.75" fill="none"/><path d="M328.9 82.2V87.6M327.5 82.2h2.8M327.5 87.6h2.8" stroke="#333" stroke-width="0.75" fill="none"/><path d="M331.9 87.2V94.6M330.5 87.2h2.8M330.5 94.6h2.8" stroke="#333" stroke-width="0.75" fill="none"/><path d="M335.3 83.9V90.9M333.9 83.9h2.8M333.9 90.9h2.8" stroke="#333" stroke-width="0.75" fill="none"/><path d="M338.1 82.2V88.6M336.7 82.2h2.8M336.7 88.6h2.8" stroke="#333" stroke-width="0.75" fill="none"/><path d="M341.1 93.4V99.2M339.7 93.4h2.8M339.7 99.2h2.8" stroke="#333" stroke-width="0.75" fill="none"/><path d="M344.5 76.4V83.0M343.1 76.4h2.8M343.1 83.0h2.8" stroke="#333" stroke-width="0.75" fill="none"/><path d="M347.8 83.3V89.3M346.4 83.3h2.8M346.4 89.3h2.8" stroke="#333" stroke-width="0.75" fill="none"/><path d="M350.6 85.0V90.4M349.2 85.0h2.8M349.2 90.4h2.8" stroke="#333" stroke-width="0.75" fill="none"/><path d="M353.7 81.8V87.2M352.3 81.8h2.8M352.3 87.2h2.8" stroke="#333" stroke-width="0.75" fill="none"/><path d="M356.9 90.2V95.4M355.5 90.2h2.8M355.5 95.4h2.8" stroke="#333" stroke-width="0.75" fill="none"/><path d="M359.8 88.0V93.4M358.4 88.0h2.8M358.4 93.4h2.8" stroke="#333" stroke-width="0.75" fill="none"/><path d="M362.7 86.4V92.0M361.3 86.4h2.8M361.3 92.0h2.8" stroke="#333" stroke-width="0.75" fill="none"/><path d="M365.9 81.2V87.8M364.5 81.2h2.8M364.5 87.8h2.8" stroke="#333" stroke-width="0.75" fill="none"/><path d="M368.9 76.8V83.4M367.5 76.8h2.8M367.5 83.4h2.8" stroke="#333" stroke-width="0.75" fill="none"/><path d="M372.2 85.6V92.2M370.8 85.6h2.8M370.8 92.2h2.8" stroke="#333" stroke-width="0.75" fill="none"/><path d="M375.1 82.4V89.6M373.7 82.4h2.8M373.7 89.6h2.8" stroke="#333" stroke-width="0.75" fill="none"/><path d="M378.4 83.4V88.6M377.0 83.4h2.8M377.0 88.6h2.8" stroke="#333" stroke-width="0.75" fill="none"/><path d="M381.4 79.6V85.6M380.0 79.6h2.8M380.0 85.6h2.8" stroke="#333" stroke-width="0.75" fill="none"/><path d="M384.3 87.3V92.5M382.9 87.3h2.8M382.9 92.5h2.8" stroke="#333" stroke-width="0.75" fill="none"/><path d="M387.3 85.4V91.6M385.9 85.4h2.8M385.9 91.6h2.8" stroke="#333" stroke-width="0.75" fill="none"/><path d="M390.5 78.6V83.8M389.1 78.6h2.8M389.1 83.8h2.8" stroke="#333" stroke-width="0.75" fill="none"/><path d="M393.7 83.7V88.9M392.3 83.7h2.8M392.3 88.9h2.8" stroke="#333" stroke-width="0.75" fill="none"/><path d="M396.9 97.0V102.4M395.5 97.0h2.8M395.5 102.4h2.8" stroke="#333" stroke-width="0.75" fill="none"/><path d="M400.0 81.8V87.8M398.6 81.8h2.8M398.6 87.8h2.8" stroke="#333" stroke-width="0.75" fill="none"/><path d="M402.9 82.5V89.5M401.5 82.5h2.8M401.5 89.5h2.8" stroke="#333" stroke-width="0.75" fill="none"/><path d="M406.1 82.2V88.0M404.7 82.2h2.8M404.7 88.0h2.8" stroke="#333" stroke-width="0.75" fill="none"/><path d="M409.2 72.3V79.3M407.8 72.3h2.8M407.8 79.3h2.8" stroke="#333" stroke-width="0.75" fill="none"/><path d="M412.1 89.0V94.6M410.7 89.0h2.8M410.7 94.6h2.8" stroke="#333" stroke-width="0.75" fill="none"/><path d="M415.3 78.3V84.1M413.9 78.3h2.8M413.9 84.1h2.8" stroke="#333" stroke-width="0.75" fill="none"/><path d="M418.5 81.4V87.6M417.1 81.4h2.8M417.1 87.6h2.8" stroke="#333" stroke-width="0.75" fill="none"/><path d="M421.4 89.2V94.4M420.0 89.2h2.8M420.0 94.4h2.8" stroke="#333" stroke-width="0.75" fill="none"/><path d="M424.5 70.8V77.0M423.1 70.8h2.8M423.1 77.0h2.8" stroke="#333" stroke-width="0.75" fill="none"/><circle cx="251.7" cy="48.0" r="1.85" fill="#2b2bb0" stroke="#151515" stroke-width="0.6"/><circle cx="258.1" cy="49.8" r="1.85" fill="#2b2bb0" stroke="#151515" stroke-width="0.6"/><circle cx="264.3" cy="46.4" r="1.85" fill="#2b2bb0" stroke="#151515" stroke-width="0.6"/><circle cx="269.0" cy="51.5" r="1.85" fill="#2b2bb0" stroke="#151515" stroke-width="0.6"/><circle cx="271.8" cy="58.2" r="1.85" fill="#2b2bb0" stroke="#151515" stroke-width="0.6"/><circle cx="275.2" cy="42.6" r="1.85" fill="#2b2bb0" stroke="#151515" stroke-width="0.6"/><circle cx="278.0" cy="51.5" r="1.85" fill="#2b2bb0" stroke="#151515" stroke-width="0.6"/><circle cx="279.4" cy="60.7" r="1.85" fill="#2b2bb0" stroke="#151515" stroke-width="0.6"/><circle cx="281.1" cy="71.1" r="1.85" fill="#2b2bb0" stroke="#151515" stroke-width="0.6"/><circle cx="283.3" cy="79.8" r="1.85" fill="#2b2bb0" stroke="#151515" stroke-width="0.6"/><circle cx="284.4" cy="75.3" r="1.85" fill="#2b2bb0" stroke="#151515" stroke-width="0.6"/><circle cx="287.3" cy="74.1" r="1.85" fill="#2b2bb0" stroke="#151515" stroke-width="0.6"/><circle cx="290.3" cy="77.3" r="1.85" fill="#2b2bb0" stroke="#151515" stroke-width="0.6"/><circle cx="293.7" cy="87.6" r="1.85" fill="#2b2bb0" stroke="#151515" stroke-width="0.6"/><circle cx="296.7" cy="88.2" r="1.85" fill="#2b2bb0" stroke="#151515" stroke-width="0.6"/><circle cx="299.9" cy="93.3" r="1.85" fill="#2b2bb0" stroke="#151515" stroke-width="0.6"/><circle cx="302.9" cy="82.0" r="1.85" fill="#2b2bb0" stroke="#151515" stroke-width="0.6"/><circle cx="307.4" cy="87.4" r="1.85" fill="#2b2bb0" stroke="#151515" stroke-width="0.6"/><circle cx="313.5" cy="87.0" r="1.85" fill="#2b2bb0" stroke="#151515" stroke-width="0.6"/><circle cx="316.8" cy="95.1" r="1.85" fill="#2b2bb0" stroke="#151515" stroke-width="0.6"/><circle cx="319.7" cy="87.9" r="1.85" fill="#2b2bb0" stroke="#151515" stroke-width="0.6"/><circle cx="322.7" cy="84.0" r="1.85" fill="#2b2bb0" stroke="#151515" stroke-width="0.6"/><circle cx="326.0" cy="96.3" r="1.85" fill="#2b2bb0" stroke="#151515" stroke-width="0.6"/><circle cx="328.9" cy="84.9" r="1.85" fill="#2b2bb0" stroke="#151515" stroke-width="0.6"/><circle cx="331.9" cy="90.9" r="1.85" fill="#2b2bb0" stroke="#151515" stroke-width="0.6"/><circle cx="335.3" cy="87.4" r="1.85" fill="#2b2bb0" stroke="#151515" stroke-width="0.6"/><circle cx="338.1" cy="85.4" r="1.85" fill="#2b2bb0" stroke="#151515" stroke-width="0.6"/><circle cx="341.1" cy="96.3" r="1.85" fill="#2b2bb0" stroke="#151515" stroke-width="0.6"/><circle cx="344.5" cy="79.7" r="1.85" fill="#2b2bb0" stroke="#151515" stroke-width="0.6"/><circle cx="347.8" cy="86.3" r="1.85" fill="#2b2bb0" stroke="#151515" stroke-width="0.6"/><circle cx="350.6" cy="87.7" r="1.85" fill="#2b2bb0" stroke="#151515" stroke-width="0.6"/><circle cx="353.7" cy="84.5" r="1.85" fill="#2b2bb0" stroke="#151515" stroke-width="0.6"/><circle cx="356.9" cy="92.8" r="1.85" fill="#2b2bb0" stroke="#151515" stroke-width="0.6"/><circle cx="359.8" cy="90.7" r="1.85" fill="#2b2bb0" stroke="#151515" stroke-width="0.6"/><circle cx="362.7" cy="89.2" r="1.85" fill="#2b2bb0" stroke="#151515" stroke-width="0.6"/><circle cx="365.9" cy="84.5" r="1.85" fill="#2b2bb0" stroke="#151515" stroke-width="0.6"/><circle cx="368.9" cy="80.1" r="1.85" fill="#2b2bb0" stroke="#151515" stroke-width="0.6"/><circle cx="372.2" cy="88.9" r="1.85" fill="#2b2bb0" stroke="#151515" stroke-width="0.6"/><circle cx="375.1" cy="86.0" r="1.85" fill="#2b2bb0" stroke="#151515" stroke-width="0.6"/><circle cx="378.4" cy="86.0" r="1.85" fill="#2b2bb0" stroke="#151515" stroke-width="0.6"/><circle cx="381.4" cy="82.6" r="1.85" fill="#2b2bb0" stroke="#151515" stroke-width="0.6"/><circle cx="384.3" cy="89.9" r="1.85" fill="#2b2bb0" stroke="#151515" stroke-width="0.6"/><circle cx="387.3" cy="88.5" r="1.85" fill="#2b2bb0" stroke="#151515" stroke-width="0.6"/><circle cx="390.5" cy="81.2" r="1.85" fill="#2b2bb0" stroke="#151515" stroke-width="0.6"/><circle cx="393.7" cy="86.3" r="1.85" fill="#2b2bb0" stroke="#151515" stroke-width="0.6"/><circle cx="396.9" cy="99.7" r="1.85" fill="#2b2bb0" stroke="#151515" stroke-width="0.6"/><circle cx="400.0" cy="84.8" r="1.85" fill="#2b2bb0" stroke="#151515" stroke-width="0.6"/><circle cx="402.9" cy="86.0" r="1.85" fill="#2b2bb0" stroke="#151515" stroke-width="0.6"/><circle cx="406.1" cy="85.1" r="1.85" fill="#2b2bb0" stroke="#151515" stroke-width="0.6"/><circle cx="409.2" cy="75.8" r="1.85" fill="#2b2bb0" stroke="#151515" stroke-width="0.6"/><circle cx="412.1" cy="91.8" r="1.85" fill="#2b2bb0" stroke="#151515" stroke-width="0.6"/><circle cx="415.3" cy="81.2" r="1.85" fill="#2b2bb0" stroke="#151515" stroke-width="0.6"/><circle cx="418.5" cy="84.5" r="1.85" fill="#2b2bb0" stroke="#151515" stroke-width="0.6"/><circle cx="421.4" cy="91.8" r="1.85" fill="#2b2bb0" stroke="#151515" stroke-width="0.6"/><circle cx="424.5" cy="73.9" r="1.85" fill="#2b2bb0" stroke="#151515" stroke-width="0.6"/>
<line x1="247.6" x2="278.4" y1="122.1" y2="122.1" stroke="#333" stroke-width="1"/>
<polyline fill="none" points="278.4,122.1 278.6,126.6 278.9,130.7 279.1,134.3 279.4,137.6 279.6,140.6 279.9,143.3 280.1,145.7 280.4,147.8 280.6,149.8 280.9,151.5 281.1,153.1 281.4,154.5 281.6,155.7 281.9,156.9 282.1,157.9 282.4,158.8 282.6,159.6 282.9,160.3 283.1,160.9 283.4,161.5 283.6,162.0 283.9,162.4 284.1,162.8 284.4,163.2 284.6,163.5 284.9,163.7 285.1,164.0 285.4,164.2 285.6,164.4 285.9,164.5 286.1,164.6 286.4,164.7 286.6,164.8 286.9,164.9 287.1,164.9 287.4,165.0 287.6,165.0 287.9,165.0 288.1,165.0 288.4,165.1 288.6,165.0 288.9,165.0 289.1,165.0 289.4,165.0 289.6,165.0 289.9,164.9 290.1,164.9 290.4,164.9 290.6,164.8 290.9,164.8 291.1,164.7 291.4,164.7 291.6,164.6 291.9,164.6 292.1,164.5 292.4,164.5 292.6,164.4 292.9,164.4 293.1,164.3 293.4,164.3 293.6,164.2 293.9,164.1 294.1,164.1 294.4,164.0 294.6,164.0 294.9,163.9 295.1,163.9 295.4,163.8 295.6,163.8 295.9,163.7 296.1,163.7 296.4,163.6 296.6,163.6 296.9,163.5 297.1,163.4 297.4,163.4 297.6,163.3 297.9,163.3 298.1,163.2 298.4,163.2 298.6,163.1 298.8,163.1 299.1,163.0 299.3,163.0 299.6,163.0 299.8,162.9 300.1,162.9 300.3,162.8 300.6,162.8 300.8,162.7 301.1,162.7 301.3,162.6 301.6,162.6 301.8,162.6 302.1,162.5 302.3,162.5 302.6,162.4 302.8,162.4 303.1,162.4 303.3,162.3 303.6,162.3 303.8,162.2 304.1,162.2 304.3,162.2 304.6,162.1 304.8,162.1 305.1,162.1 305.3,162.0 305.6,162.0 305.8,162.0 306.1,161.9 306.3,161.9 306.6,161.9 306.8,161.8 307.1,161.8 307.3,161.8 307.6,161.7 307.8,161.7 308.1,161.7 308.3,161.6 308.6,161.6 308.8,161.6 309.1,161.6 309.3,161.5 309.6,161.5 309.8,161.5 310.1,161.4 310.3,161.4 310.6,161.4 310.8,161.4 311.1,161.3 311.3,161.3 311.6,161.3 311.8,161.3 312.1,161.2 312.3,161.2 312.6,161.2 312.8,161.2 313.1,161.1 313.3,161.1 313.6,161.1 313.8,161.1 314.1,161.1 314.3,161.0 314.6,161.0 314.8,161.0 315.1,161.0 315.3,161.0 315.6,160.9 315.8,160.9 316.1,160.9 316.3,160.9 316.6,160.9 316.8,160.8 317.1,160.8 317.3,160.8 317.6,160.8 317.8,160.8 318.1,160.7 318.3,160.7 318.6,160.7 318.8,160.7 319.0,160.7 319.3,160.7 319.5,160.6 319.8,160.6 320.0,160.6 320.3,160.6 320.5,160.6 320.8,160.6 321.0,160.6 321.3,160.5 321.5,160.5 321.8,160.5 322.0,160.5 322.3,160.5 322.5,160.5 322.8,160.5 323.0,160.4 323.3,160.4 323.5,160.4 323.8,160.4 324.0,160.4 324.3,160.4 324.5,160.4 324.8,160.4 325.0,160.3 325.3,160.3 325.5,160.3 325.8,160.3 326.0,160.3 326.3,160.3 326.5,160.3 326.8,160.3 327.0,160.2 327.3,160.2 327.5,160.2 327.8,160.2 328.0,160.2 328.3,160.2 328.5,160.2 328.8,160.2 329.0,160.2 329.3,160.2 329.5,160.1 329.8,160.1 330.0,160.1 330.3,160.1 330.5,160.1 330.8,160.1 331.0,160.1 331.3,160.1 331.5,160.1 331.8,160.1 332.0,160.1 332.3,160.1 332.5,160.0 332.8,160.0 333.0,160.0 333.3,160.0 333.5,160.0 333.8,160.0 334.0,160.0 334.3,160.0 334.5,160.0 334.8,160.0 335.0,160.0 335.3,160.0 335.5,160.0 335.8,159.9 336.0,159.9 336.3,159.9 336.5,159.9 336.8,159.9 337.0,159.9 337.3,159.9 337.5,159.9 337.8,159.9 338.0,159.9 338.3,159.9 338.5,159.9 338.8,159.9 339.0,159.9 339.2,159.9 339.5,159.9 339.7,159.9 340.0,159.8 340.2,159.8 340.5,159.8 340.7,159.8 341.0,159.8 341.2,159.8 341.5,159.8 341.7,159.8 342.0,159.8 342.2,159.8 342.5,159.8 342.7,159.8 343.0,159.8 343.2,159.8 343.5,159.8 343.7,159.8 344.0,159.8 344.2,159.8 344.5,159.8 344.7,159.8 345.0,159.8 345.2,159.7 345.5,159.7 345.7,159.7 346.0,159.7 346.2,159.7 346.5,159.7 346.7,159.7 347.0,159.7 347.2,159.7 347.5,159.7 347.7,159.7 348.0,159.7 348.2,159.7 348.5,159.7 348.7,159.7 349.0,159.7 349.2,159.7 349.5,159.7 349.7,159.7 350.0,159.7 350.2,159.7 350.5,159.7 350.7,159.7 351.0,159.7 351.2,159.7 351.5,159.7 351.7,159.7 352.0,159.7 352.2,159.7 352.5,159.7 352.7,159.6 353.0,159.6 353.2,159.6 353.5,159.6 353.7,159.6 354.0,159.6 354.2,159.6 354.5,159.6 354.7,159.6 355.0,159.6 355.2,159.6 355.5,159.6 355.7,159.6 356.0,159.6 356.2,159.6 356.5,159.6 356.7,159.6 357.0,159.6 357.2,159.6 357.5,159.6 357.7,159.6 358.0,159.6 358.2,159.6 358.5,159.6 358.7,159.6 359.0,159.6 359.2,159.6 359.4,159.6 359.7,159.6 359.9,159.6 360.2,159.6 360.4,159.6 360.7,159.6 360.9,159.6 361.2,159.6 361.4,159.6 361.7,159.6 361.9,159.6 362.2,159.6 362.4,159.6 362.7,159.6 362.9,159.6 363.2,159.6 363.4,159.6 363.7,159.6 363.9,159.6 364.2,159.6 364.4,159.6 364.7,159.6 364.9,159.6 365.2,159.6 365.4,159.6 365.7,159.5 365.9,159.5 366.2,159.5 366.4,159.5 366.7,159.5 366.9,159.5 367.2,159.5 367.4,159.5 367.7,159.5 367.9,159.5 368.2,159.5 368.4,159.5 368.7,159.5 368.9,159.5 369.2,159.5 369.4,159.5 369.7,159.5 369.9,159.5 370.2,159.5 370.4,159.5 370.7,159.5 370.9,159.5 371.2,159.5 371.4,159.5 371.7,159.5 371.9,159.5 372.2,159.5 372.4,159.5 372.7,159.5 372.9,159.5 373.2,159.5 373.4,159.5 373.7,159.5 373.9,159.5 374.2,159.5 374.4,159.5 374.7,159.5 374.9,159.5 375.2,159.5 375.4,159.5 375.7,159.5 375.9,159.5 376.2,159.5 376.4,159.5 376.7,159.5 376.9,159.5 377.2,159.5 377.4,159.5 377.7,159.5 377.9,159.5 378.2,159.5 378.4,159.5 378.7,159.5 378.9,159.5 379.2,159.5 379.4,159.5 379.6,159.5 379.9,159.5 380.1,159.5 380.4,159.5 380.6,159.5 380.9,159.5 381.1,159.5 381.4,159.5 381.6,159.5 381.9,159.5 382.1,159.5 382.4,159.5 382.6,159.5 382.9,159.5 383.1,159.5 383.4,159.5 383.6,159.5 383.9,159.5 384.1,159.5 384.4,159.5 384.6,159.5 384.9,159.5 385.1,159.5 385.4,159.5 385.6,159.5 385.9,159.5 386.1,159.5 386.4,159.5 386.6,159.5 386.9,159.5 387.1,159.5 387.4,159.5 387.6,159.5 387.9,159.5 388.1,159.5 388.4,159.5 388.6,159.5 388.9,159.5 389.1,159.5 389.4,159.5 389.6,159.5 389.9,159.5 390.1,159.5 390.4,159.5 390.6,159.5 390.9,159.5 391.1,159.5 391.4,159.5 391.6,159.5 391.9,159.5 392.1,159.5 392.4,159.5 392.6,159.5 392.9,159.5 393.1,159.5 393.4,159.5 393.6,159.5 393.9,159.5 394.1,159.5 394.4,159.5 394.6,159.5 394.9,159.5 395.1,159.5 395.4,159.5 395.6,159.5 395.9,159.5 396.1,159.5 396.4,159.5 396.6,159.5 396.9,159.5 397.1,159.5 397.4,159.5 397.6,159.5 397.9,159.5 398.1,159.5 398.4,159.5 398.6,159.5 398.9,159.5 399.1,159.5 399.4,159.5 399.6,159.5 399.8,159.5 400.1,159.5 400.3,159.5 400.6,159.5 400.8,159.5 401.1,159.5 401.3,159.5 401.6,159.5 401.8,159.5 402.1,159.5 402.3,159.5 402.6,159.5 402.8,159.5 403.1,159.5 403.3,159.5 403.6,159.5 403.8,159.5 404.1,159.5 404.3,159.5 404.6,159.5 404.8,159.5 405.1,159.5 405.3,159.5 405.6,159.5 405.8,159.5 406.1,159.5 406.3,159.5 406.6,159.5 406.8,159.5 407.1,159.5 407.3,159.5 407.6,159.5 407.8,159.5 408.1,159.5 408.3,159.5 408.6,159.5 408.8,159.5 409.1,159.5 409.3,159.5 409.6,159.5 409.8,159.5 410.1,159.5 410.3,159.5 410.6,159.5 410.8,159.5 411.1,159.5 411.3,159.5 411.6,159.5 411.8,159.5 412.1,159.5 412.3,159.5 412.6,159.5 412.8,159.5 413.1,159.5 413.3,159.5 413.6,159.5 413.8,159.5 414.1,159.5 414.3,159.5 414.6,159.5 414.8,159.5 415.1,159.5 415.3,159.5 415.6,159.5 415.8,159.5 416.1,159.5 416.3,159.5 416.6,159.5 416.8,159.5 417.1,159.5 417.3,159.5 417.6,159.5 417.8,159.5 418.1,159.5 418.3,159.5 418.6,159.5 418.8,159.5 419.1,159.5 419.3,159.5 419.6,159.5 419.8,159.5 420.0,159.5 420.3,159.5 420.5,159.5 420.8,159.5 421.0,159.5 421.3,159.5 421.5,159.5 421.8,159.5 422.0,159.5 422.3,159.5 422.5,159.5 422.8,159.5 423.0,159.5 423.3,159.5 423.5,159.5 423.8,159.5 424.0,159.5 424.3,159.5 424.5,159.5 424.8,159.5 425.0,159.5 425.3,159.5 425.5,159.5 425.8,159.5 426.0,159.5 426.3,159.5 426.5,159.5 426.8,159.5 427.0,159.5 427.3,159.5 427.5,159.5 427.8,159.5" stroke="#555" stroke-width="1"/>
<path d="M252.9 123.5V130.1M251.5 123.5h2.8M251.5 130.1h2.8" stroke="#333" stroke-width="0.75" fill="none"/><path d="M259.3 111.3V117.3M257.9 111.3h2.8M257.9 117.3h2.8" stroke="#333" stroke-width="0.75" fill="none"/><path d="M265.1 120.0V125.4M263.7 120.0h2.8M263.7 125.4h2.8" stroke="#333" stroke-width="0.75" fill="none"/><path d="M269.3 135.4V141.8M267.9 135.4h2.8M267.9 141.8h2.8" stroke="#333" stroke-width="0.75" fill="none"/><path d="M270.5 117.3V122.3M269.1 117.3h2.8M269.1 122.3h2.8" stroke="#333" stroke-width="0.75" fill="none"/><path d="M272.3 122.4V129.6M270.9 122.4h2.8M270.9 129.6h2.8" stroke="#333" stroke-width="0.75" fill="none"/><path d="M273.9 118.3V125.3M272.5 118.3h2.8M272.5 125.3h2.8" stroke="#333" stroke-width="0.75" fill="none"/><path d="M275.2 131.0V137.0M273.8 131.0h2.8M273.8 137.0h2.8" stroke="#333" stroke-width="0.75" fill="none"/><path d="M276.9 115.6V122.0M275.5 115.6h2.8M275.5 122.0h2.8" stroke="#333" stroke-width="0.75" fill="none"/><path d="M278.6 118.6V125.0M277.2 118.6h2.8M277.2 125.0h2.8" stroke="#333" stroke-width="0.75" fill="none"/><path d="M280.2 137.5V145.1M278.8 137.5h2.8M278.8 145.1h2.8" stroke="#333" stroke-width="0.75" fill="none"/><path d="M281.9 151.8V157.0M280.5 151.8h2.8M280.5 157.0h2.8" stroke="#333" stroke-width="0.75" fill="none"/><path d="M282.8 155.2V161.0M281.4 155.2h2.8M281.4 161.0h2.8" stroke="#333" stroke-width="0.75" fill="none"/><path d="M284.8 147.9V153.9M283.4 147.9h2.8M283.4 153.9h2.8" stroke="#333" stroke-width="0.75" fill="none"/><path d="M286.2 150.5V157.5M284.8 150.5h2.8M284.8 157.5h2.8" stroke="#333" stroke-width="0.75" fill="none"/><path d="M287.9 153.7V160.5M286.5 153.7h2.8M286.5 160.5h2.8" stroke="#333" stroke-width="0.75" fill="none"/><path d="M289.4 165.3V171.5M288.0 165.3h2.8M288.0 171.5h2.8" stroke="#333" stroke-width="0.75" fill="none"/><path d="M290.9 158.8V163.8M289.5 158.8h2.8M289.5 163.8h2.8" stroke="#333" stroke-width="0.75" fill="none"/><path d="M292.3 164.6V171.2M290.9 164.6h2.8M290.9 171.2h2.8" stroke="#333" stroke-width="0.75" fill="none"/><path d="M293.7 159.1V165.1M292.3 159.1h2.8M292.3 165.1h2.8" stroke="#333" stroke-width="0.75" fill="none"/><path d="M295.5 161.7V167.1M294.1 161.7h2.8M294.1 167.1h2.8" stroke="#333" stroke-width="0.75" fill="none"/><path d="M297.5 157.6V164.2M296.1 157.6h2.8M296.1 164.2h2.8" stroke="#333" stroke-width="0.75" fill="none"/><path d="M300.1 155.5V161.7M298.7 155.5h2.8M298.7 161.7h2.8" stroke="#333" stroke-width="0.75" fill="none"/><path d="M301.5 162.1V167.9M300.1 162.1h2.8M300.1 167.9h2.8" stroke="#333" stroke-width="0.75" fill="none"/><path d="M303.3 152.3V158.1M301.9 152.3h2.8M301.9 158.1h2.8" stroke="#333" stroke-width="0.75" fill="none"/><path d="M304.8 162.7V169.1M303.4 162.7h2.8M303.4 169.1h2.8" stroke="#333" stroke-width="0.75" fill="none"/><path d="M307.1 157.8V163.4M305.7 157.8h2.8M305.7 163.4h2.8" stroke="#333" stroke-width="0.75" fill="none"/><path d="M310.2 154.8V160.8M308.8 154.8h2.8M308.8 160.8h2.8" stroke="#333" stroke-width="0.75" fill="none"/><path d="M313.6 152.6V160.0M312.2 152.6h2.8M312.2 160.0h2.8" stroke="#333" stroke-width="0.75" fill="none"/><path d="M316.3 145.2V151.4M314.9 145.2h2.8M314.9 151.4h2.8" stroke="#333" stroke-width="0.75" fill="none"/><path d="M319.4 159.6V165.2M318.0 159.6h2.8M318.0 165.2h2.8" stroke="#333" stroke-width="0.75" fill="none"/><path d="M322.3 154.9V161.3M320.9 154.9h2.8M320.9 161.3h2.8" stroke="#333" stroke-width="0.75" fill="none"/><path d="M325.5 151.1V158.5M324.1 151.1h2.8M324.1 158.5h2.8" stroke="#333" stroke-width="0.75" fill="none"/><path d="M328.6 149.6V156.8M327.2 149.6h2.8M327.2 156.8h2.8" stroke="#333" stroke-width="0.75" fill="none"/><path d="M331.5 157.2V164.0M330.1 157.2h2.8M330.1 164.0h2.8" stroke="#333" stroke-width="0.75" fill="none"/><path d="M334.7 147.2V154.6M333.3 147.2h2.8M333.3 154.6h2.8" stroke="#333" stroke-width="0.75" fill="none"/><path d="M337.9 159.7V166.7M336.5 159.7h2.8M336.5 166.7h2.8" stroke="#333" stroke-width="0.75" fill="none"/><path d="M340.8 153.5V160.3M339.4 153.5h2.8M339.4 160.3h2.8" stroke="#333" stroke-width="0.75" fill="none"/><path d="M344.1 164.3V170.5M342.7 164.3h2.8M342.7 170.5h2.8" stroke="#333" stroke-width="0.75" fill="none"/><path d="M347.4 158.9V164.3M346.0 158.9h2.8M346.0 164.3h2.8" stroke="#333" stroke-width="0.75" fill="none"/><path d="M350.0 144.9V151.9M348.6 144.9h2.8M348.6 151.9h2.8" stroke="#333" stroke-width="0.75" fill="none"/><path d="M353.2 155.1V161.7M351.8 155.1h2.8M351.8 161.7h2.8" stroke="#333" stroke-width="0.75" fill="none"/><path d="M356.5 157.8V165.4M355.1 157.8h2.8M355.1 165.4h2.8" stroke="#333" stroke-width="0.75" fill="none"/><path d="M359.5 158.4V164.2M358.1 158.4h2.8M358.1 164.2h2.8" stroke="#333" stroke-width="0.75" fill="none"/><path d="M362.4 165.0V172.2M361.0 165.0h2.8M361.0 172.2h2.8" stroke="#333" stroke-width="0.75" fill="none"/><path d="M365.7 149.0V154.6M364.3 149.0h2.8M364.3 154.6h2.8" stroke="#333" stroke-width="0.75" fill="none"/><path d="M368.9 153.9V161.3M367.5 153.9h2.8M367.5 161.3h2.8" stroke="#333" stroke-width="0.75" fill="none"/><path d="M371.9 161.9V169.5M370.5 161.9h2.8M370.5 169.5h2.8" stroke="#333" stroke-width="0.75" fill="none"/><path d="M375.1 154.0V159.2M373.7 154.0h2.8M373.7 159.2h2.8" stroke="#333" stroke-width="0.75" fill="none"/><path d="M378.1 157.2V163.0M376.7 157.2h2.8M376.7 163.0h2.8" stroke="#333" stroke-width="0.75" fill="none"/><path d="M381.0 147.0V154.6M379.6 147.0h2.8M379.6 154.6h2.8" stroke="#333" stroke-width="0.75" fill="none"/><path d="M384.2 148.4V156.0M382.8 148.4h2.8M382.8 156.0h2.8" stroke="#333" stroke-width="0.75" fill="none"/><path d="M387.3 144.7V151.5M385.9 144.7h2.8M385.9 151.5h2.8" stroke="#333" stroke-width="0.75" fill="none"/><path d="M390.2 154.5V159.9M388.8 154.5h2.8M388.8 159.9h2.8" stroke="#333" stroke-width="0.75" fill="none"/><path d="M393.4 155.6V160.6M392.0 155.6h2.8M392.0 160.6h2.8" stroke="#333" stroke-width="0.75" fill="none"/><path d="M396.6 158.8V164.4M395.2 158.8h2.8M395.2 164.4h2.8" stroke="#333" stroke-width="0.75" fill="none"/><path d="M399.5 155.8V163.2M398.1 155.8h2.8M398.1 163.2h2.8" stroke="#333" stroke-width="0.75" fill="none"/><path d="M402.4 151.9V158.9M401.0 151.9h2.8M401.0 158.9h2.8" stroke="#333" stroke-width="0.75" fill="none"/><path d="M405.8 145.8V152.0M404.4 145.8h2.8M404.4 152.0h2.8" stroke="#333" stroke-width="0.75" fill="none"/><path d="M409.0 154.1V161.1M407.6 154.1h2.8M407.6 161.1h2.8" stroke="#333" stroke-width="0.75" fill="none"/><path d="M411.9 158.3V165.7M410.5 158.3h2.8M410.5 165.7h2.8" stroke="#333" stroke-width="0.75" fill="none"/><path d="M414.9 161.6V167.4M413.5 161.6h2.8M413.5 167.4h2.8" stroke="#333" stroke-width="0.75" fill="none"/><path d="M418.2 154.5V161.7M416.8 154.5h2.8M416.8 161.7h2.8" stroke="#333" stroke-width="0.75" fill="none"/><path d="M421.1 158.7V164.5M419.7 158.7h2.8M419.7 164.5h2.8" stroke="#333" stroke-width="0.75" fill="none"/><path d="M424.3 163.9V169.7M422.9 163.9h2.8M422.9 169.7h2.8" stroke="#333" stroke-width="0.75" fill="none"/><circle cx="252.9" cy="126.8" r="1.85" fill="#2e56dc" stroke="#151515" stroke-width="0.6"/><circle cx="259.3" cy="114.3" r="1.85" fill="#2e56dc" stroke="#151515" stroke-width="0.6"/><circle cx="265.1" cy="122.7" r="1.85" fill="#2e56dc" stroke="#151515" stroke-width="0.6"/><circle cx="269.3" cy="138.6" r="1.85" fill="#2e56dc" stroke="#151515" stroke-width="0.6"/><circle cx="270.5" cy="119.8" r="1.85" fill="#2e56dc" stroke="#151515" stroke-width="0.6"/><circle cx="272.3" cy="126.0" r="1.85" fill="#2e56dc" stroke="#151515" stroke-width="0.6"/><circle cx="273.9" cy="121.8" r="1.85" fill="#2e56dc" stroke="#151515" stroke-width="0.6"/><circle cx="275.2" cy="134.0" r="1.85" fill="#2e56dc" stroke="#151515" stroke-width="0.6"/><circle cx="276.9" cy="118.8" r="1.85" fill="#2e56dc" stroke="#151515" stroke-width="0.6"/><circle cx="278.6" cy="121.8" r="1.85" fill="#2e56dc" stroke="#151515" stroke-width="0.6"/><circle cx="280.2" cy="141.3" r="1.85" fill="#2e56dc" stroke="#151515" stroke-width="0.6"/><circle cx="281.9" cy="154.4" r="1.85" fill="#2e56dc" stroke="#151515" stroke-width="0.6"/><circle cx="282.8" cy="158.1" r="1.85" fill="#2e56dc" stroke="#151515" stroke-width="0.6"/><circle cx="284.8" cy="150.9" r="1.85" fill="#2e56dc" stroke="#151515" stroke-width="0.6"/><circle cx="286.2" cy="154.0" r="1.85" fill="#2e56dc" stroke="#151515" stroke-width="0.6"/><circle cx="287.9" cy="157.1" r="1.85" fill="#2e56dc" stroke="#151515" stroke-width="0.6"/><circle cx="289.4" cy="168.4" r="1.85" fill="#2e56dc" stroke="#151515" stroke-width="0.6"/><circle cx="290.9" cy="161.3" r="1.85" fill="#2e56dc" stroke="#151515" stroke-width="0.6"/><circle cx="292.3" cy="167.9" r="1.85" fill="#2e56dc" stroke="#151515" stroke-width="0.6"/><circle cx="293.7" cy="162.1" r="1.85" fill="#2e56dc" stroke="#151515" stroke-width="0.6"/><circle cx="295.5" cy="164.4" r="1.85" fill="#2e56dc" stroke="#151515" stroke-width="0.6"/><circle cx="297.5" cy="160.9" r="1.85" fill="#2e56dc" stroke="#151515" stroke-width="0.6"/><circle cx="300.1" cy="158.6" r="1.85" fill="#2e56dc" stroke="#151515" stroke-width="0.6"/><circle cx="301.5" cy="165.0" r="1.85" fill="#2e56dc" stroke="#151515" stroke-width="0.6"/><circle cx="303.3" cy="155.2" r="1.85" fill="#2e56dc" stroke="#151515" stroke-width="0.6"/><circle cx="304.8" cy="165.9" r="1.85" fill="#2e56dc" stroke="#151515" stroke-width="0.6"/><circle cx="307.1" cy="160.6" r="1.85" fill="#2e56dc" stroke="#151515" stroke-width="0.6"/><circle cx="310.2" cy="157.8" r="1.85" fill="#2e56dc" stroke="#151515" stroke-width="0.6"/><circle cx="313.6" cy="156.3" r="1.85" fill="#2e56dc" stroke="#151515" stroke-width="0.6"/><circle cx="316.3" cy="148.3" r="1.85" fill="#2e56dc" stroke="#151515" stroke-width="0.6"/><circle cx="319.4" cy="162.4" r="1.85" fill="#2e56dc" stroke="#151515" stroke-width="0.6"/><circle cx="322.3" cy="158.1" r="1.85" fill="#2e56dc" stroke="#151515" stroke-width="0.6"/><circle cx="325.5" cy="154.8" r="1.85" fill="#2e56dc" stroke="#151515" stroke-width="0.6"/><circle cx="328.6" cy="153.2" r="1.85" fill="#2e56dc" stroke="#151515" stroke-width="0.6"/><circle cx="331.5" cy="160.6" r="1.85" fill="#2e56dc" stroke="#151515" stroke-width="0.6"/><circle cx="334.7" cy="150.9" r="1.85" fill="#2e56dc" stroke="#151515" stroke-width="0.6"/><circle cx="337.9" cy="163.2" r="1.85" fill="#2e56dc" stroke="#151515" stroke-width="0.6"/><circle cx="340.8" cy="156.9" r="1.85" fill="#2e56dc" stroke="#151515" stroke-width="0.6"/><circle cx="344.1" cy="167.4" r="1.85" fill="#2e56dc" stroke="#151515" stroke-width="0.6"/><circle cx="347.4" cy="161.6" r="1.85" fill="#2e56dc" stroke="#151515" stroke-width="0.6"/><circle cx="350.0" cy="148.4" r="1.85" fill="#2e56dc" stroke="#151515" stroke-width="0.6"/><circle cx="353.2" cy="158.4" r="1.85" fill="#2e56dc" stroke="#151515" stroke-width="0.6"/><circle cx="356.5" cy="161.6" r="1.85" fill="#2e56dc" stroke="#151515" stroke-width="0.6"/><circle cx="359.5" cy="161.3" r="1.85" fill="#2e56dc" stroke="#151515" stroke-width="0.6"/><circle cx="362.4" cy="168.6" r="1.85" fill="#2e56dc" stroke="#151515" stroke-width="0.6"/><circle cx="365.7" cy="151.8" r="1.85" fill="#2e56dc" stroke="#151515" stroke-width="0.6"/><circle cx="368.9" cy="157.6" r="1.85" fill="#2e56dc" stroke="#151515" stroke-width="0.6"/><circle cx="371.9" cy="165.7" r="1.85" fill="#2e56dc" stroke="#151515" stroke-width="0.6"/><circle cx="375.1" cy="156.6" r="1.85" fill="#2e56dc" stroke="#151515" stroke-width="0.6"/><circle cx="378.1" cy="160.1" r="1.85" fill="#2e56dc" stroke="#151515" stroke-width="0.6"/><circle cx="381.0" cy="150.8" r="1.85" fill="#2e56dc" stroke="#151515" stroke-width="0.6"/><circle cx="384.2" cy="152.2" r="1.85" fill="#2e56dc" stroke="#151515" stroke-width="0.6"/><circle cx="387.3" cy="148.1" r="1.85" fill="#2e56dc" stroke="#151515" stroke-width="0.6"/><circle cx="390.2" cy="157.2" r="1.85" fill="#2e56dc" stroke="#151515" stroke-width="0.6"/><circle cx="393.4" cy="158.1" r="1.85" fill="#2e56dc" stroke="#151515" stroke-width="0.6"/><circle cx="396.6" cy="161.6" r="1.85" fill="#2e56dc" stroke="#151515" stroke-width="0.6"/><circle cx="399.5" cy="159.5" r="1.85" fill="#2e56dc" stroke="#151515" stroke-width="0.6"/><circle cx="402.4" cy="155.4" r="1.85" fill="#2e56dc" stroke="#151515" stroke-width="0.6"/><circle cx="405.8" cy="148.9" r="1.85" fill="#2e56dc" stroke="#151515" stroke-width="0.6"/><circle cx="409.0" cy="157.6" r="1.85" fill="#2e56dc" stroke="#151515" stroke-width="0.6"/><circle cx="411.9" cy="162.0" r="1.85" fill="#2e56dc" stroke="#151515" stroke-width="0.6"/><circle cx="414.9" cy="164.5" r="1.85" fill="#2e56dc" stroke="#151515" stroke-width="0.6"/><circle cx="418.2" cy="158.1" r="1.85" fill="#2e56dc" stroke="#151515" stroke-width="0.6"/><circle cx="421.1" cy="161.6" r="1.85" fill="#2e56dc" stroke="#151515" stroke-width="0.6"/><circle cx="424.3" cy="166.8" r="1.85" fill="#2e56dc" stroke="#151515" stroke-width="0.6"/>
<line x1="247.6" x2="278.4" y1="195.8" y2="195.8" stroke="#333" stroke-width="1"/>
<polyline fill="none" points="278.4,195.8 278.6,201.3 278.9,205.9 279.1,209.8 279.4,213.1 279.6,215.9 279.9,218.3 280.1,220.2 280.4,221.9 280.6,223.3 280.9,224.4 281.1,225.4 281.4,226.2 281.6,226.9 281.9,227.4 282.1,227.9 282.4,228.2 282.6,228.5 282.9,228.7 283.1,228.9 283.4,229.0 283.6,229.1 283.9,229.2 284.1,229.2 284.4,229.3 284.6,229.3 284.9,229.2 285.1,229.2 285.4,229.2 285.6,229.1 285.9,229.1 286.1,229.0 286.4,229.0 286.6,228.9 286.9,228.8 287.1,228.7 287.4,228.7 287.6,228.6 287.9,228.5 288.1,228.4 288.4,228.4 288.6,228.3 288.9,228.2 289.1,228.1 289.4,228.1 289.6,228.0 289.9,227.9 290.1,227.9 290.4,227.8 290.6,227.7 290.9,227.6 291.1,227.6 291.4,227.5 291.6,227.4 291.9,227.4 292.1,227.3 292.4,227.3 292.6,227.2 292.9,227.1 293.1,227.1 293.4,227.0 293.6,227.0 293.9,226.9 294.1,226.9 294.4,226.8 294.6,226.8 294.9,226.7 295.1,226.7 295.4,226.6 295.6,226.6 295.9,226.5 296.1,226.5 296.4,226.4 296.6,226.4 296.9,226.3 297.1,226.3 297.4,226.2 297.6,226.2 297.9,226.2 298.1,226.1 298.4,226.1 298.6,226.0 298.8,226.0 299.1,226.0 299.3,225.9 299.6,225.9 299.8,225.9 300.1,225.8 300.3,225.8 300.6,225.8 300.8,225.7 301.1,225.7 301.3,225.7 301.6,225.7 301.8,225.6 302.1,225.6 302.3,225.6 302.6,225.5 302.8,225.5 303.1,225.5 303.3,225.5 303.6,225.4 303.8,225.4 304.1,225.4 304.3,225.4 304.6,225.3 304.8,225.3 305.1,225.3 305.3,225.3 305.6,225.3 305.8,225.2 306.1,225.2 306.3,225.2 306.6,225.2 306.8,225.2 307.1,225.1 307.3,225.1 307.6,225.1 307.8,225.1 308.1,225.1 308.3,225.0 308.6,225.0 308.8,225.0 309.1,225.0 309.3,225.0 309.6,225.0 309.8,225.0 310.1,224.9 310.3,224.9 310.6,224.9 310.8,224.9 311.1,224.9 311.3,224.9 311.6,224.9 311.8,224.8 312.1,224.8 312.3,224.8 312.6,224.8 312.8,224.8 313.1,224.8 313.3,224.8 313.6,224.8 313.8,224.7 314.1,224.7 314.3,224.7 314.6,224.7 314.8,224.7 315.1,224.7 315.3,224.7 315.6,224.7 315.8,224.7 316.1,224.7 316.3,224.6 316.6,224.6 316.8,224.6 317.1,224.6 317.3,224.6 317.6,224.6 317.8,224.6 318.1,224.6 318.3,224.6 318.6,224.6 318.8,224.6 319.0,224.6 319.3,224.6 319.5,224.5 319.8,224.5 320.0,224.5 320.3,224.5 320.5,224.5 320.8,224.5 321.0,224.5 321.3,224.5 321.5,224.5 321.8,224.5 322.0,224.5 322.3,224.5 322.5,224.5 322.8,224.5 323.0,224.5 323.3,224.5 323.5,224.5 323.8,224.4 324.0,224.4 324.3,224.4 324.5,224.4 324.8,224.4 325.0,224.4 325.3,224.4 325.5,224.4 325.8,224.4 326.0,224.4 326.3,224.4 326.5,224.4 326.8,224.4 327.0,224.4 327.3,224.4 327.5,224.4 327.8,224.4 328.0,224.4 328.3,224.4 328.5,224.4 328.8,224.4 329.0,224.4 329.3,224.4 329.5,224.4 329.8,224.4 330.0,224.4 330.3,224.4 330.5,224.3 330.8,224.3 331.0,224.3 331.3,224.3 331.5,224.3 331.8,224.3 332.0,224.3 332.3,224.3 332.5,224.3 332.8,224.3 333.0,224.3 333.3,224.3 333.5,224.3 333.8,224.3 334.0,224.3 334.3,224.3 334.5,224.3 334.8,224.3 335.0,224.3 335.3,224.3 335.5,224.3 335.8,224.3 336.0,224.3 336.3,224.3 336.5,224.3 336.8,224.3 337.0,224.3 337.3,224.3 337.5,224.3 337.8,224.3 338.0,224.3 338.3,224.3 338.5,224.3 338.8,224.3 339.0,224.3 339.2,224.3 339.5,224.3 339.7,224.3 340.0,224.3 340.2,224.3 340.5,224.3 340.7,224.3 341.0,224.3 341.2,224.3 341.5,224.3 341.7,224.3 342.0,224.3 342.2,224.3 342.5,224.3 342.7,224.3 343.0,224.3 343.2,224.3 343.5,224.3 343.7,224.3 344.0,224.3 344.2,224.3 344.5,224.3 344.7,224.3 345.0,224.3 345.2,224.3 345.5,224.3 345.7,224.3 346.0,224.3 346.2,224.2 346.5,224.2 346.7,224.2 347.0,224.2 347.2,224.2 347.5,224.2 347.7,224.2 348.0,224.2 348.2,224.2 348.5,224.2 348.7,224.2 349.0,224.2 349.2,224.2 349.5,224.2 349.7,224.2 350.0,224.2 350.2,224.2 350.5,224.2 350.7,224.2 351.0,224.2 351.2,224.2 351.5,224.2 351.7,224.2 352.0,224.2 352.2,224.2 352.5,224.2 352.7,224.2 353.0,224.2 353.2,224.2 353.5,224.2 353.7,224.2 354.0,224.2 354.2,224.2 354.5,224.2 354.7,224.2 355.0,224.2 355.2,224.2 355.5,224.2 355.7,224.2 356.0,224.2 356.2,224.2 356.5,224.2 356.7,224.2 357.0,224.2 357.2,224.2 357.5,224.2 357.7,224.2 358.0,224.2 358.2,224.2 358.5,224.2 358.7,224.2 359.0,224.2 359.2,224.2 359.4,224.2 359.7,224.2 359.9,224.2 360.2,224.2 360.4,224.2 360.7,224.2 360.9,224.2 361.2,224.2 361.4,224.2 361.7,224.2 361.9,224.2 362.2,224.2 362.4,224.2 362.7,224.2 362.9,224.2 363.2,224.2 363.4,224.2 363.7,224.2 363.9,224.2 364.2,224.2 364.4,224.2 364.7,224.2 364.9,224.2 365.2,224.2 365.4,224.2 365.7,224.2 365.9,224.2 366.2,224.2 366.4,224.2 366.7,224.2 366.9,224.2 367.2,224.2 367.4,224.2 367.7,224.2 367.9,224.2 368.2,224.2 368.4,224.2 368.7,224.2 368.9,224.2 369.2,224.2 369.4,224.2 369.7,224.2 369.9,224.2 370.2,224.2 370.4,224.2 370.7,224.2 370.9,224.2 371.2,224.2 371.4,224.2 371.7,224.2 371.9,224.2 372.2,224.2 372.4,224.2 372.7,224.2 372.9,224.2 373.2,224.2 373.4,224.2 373.7,224.2 373.9,224.2 374.2,224.2 374.4,224.2 374.7,224.2 374.9,224.2 375.2,224.2 375.4,224.2 375.7,224.2 375.9,224.2 376.2,224.2 376.4,224.2 376.7,224.2 376.9,224.2 377.2,224.2 377.4,224.2 377.7,224.2 377.9,224.2 378.2,224.2 378.4,224.2 378.7,224.2 378.9,224.2 379.2,224.2 379.4,224.2 379.6,224.2 379.9,224.2 380.1,224.2 380.4,224.2 380.6,224.2 380.9,224.2 381.1,224.2 381.4,224.2 381.6,224.2 381.9,224.2 382.1,224.2 382.4,224.2 382.6,224.2 382.9,224.2 383.1,224.2 383.4,224.2 383.6,224.2 383.9,224.2 384.1,224.2 384.4,224.2 384.6,224.2 384.9,224.2 385.1,224.2 385.4,224.2 385.6,224.2 385.9,224.2 386.1,224.2 386.4,224.2 386.6,224.2 386.9,224.2 387.1,224.2 387.4,224.2 387.6,224.2 387.9,224.2 388.1,224.2 388.4,224.2 388.6,224.2 388.9,224.2 389.1,224.2 389.4,224.2 389.6,224.2 389.9,224.2 390.1,224.2 390.4,224.2 390.6,224.2 390.9,224.2 391.1,224.2 391.4,224.2 391.6,224.2 391.9,224.2 392.1,224.2 392.4,224.2 392.6,224.2 392.9,224.2 393.1,224.2 393.4,224.2 393.6,224.2 393.9,224.2 394.1,224.2 394.4,224.2 394.6,224.2 394.9,224.2 395.1,224.2 395.4,224.2 395.6,224.2 395.9,224.2 396.1,224.2 396.4,224.2 396.6,224.2 396.9,224.2 397.1,224.2 397.4,224.2 397.6,224.2 397.9,224.2 398.1,224.2 398.4,224.2 398.6,224.2 398.9,224.2 399.1,224.2 399.4,224.2 399.6,224.2 399.8,224.2 400.1,224.2 400.3,224.2 400.6,224.2 400.8,224.2 401.1,224.2 401.3,224.2 401.6,224.2 401.8,224.2 402.1,224.2 402.3,224.2 402.6,224.2 402.8,224.2 403.1,224.2 403.3,224.2 403.6,224.2 403.8,224.2 404.1,224.2 404.3,224.2 404.6,224.2 404.8,224.2 405.1,224.2 405.3,224.2 405.6,224.2 405.8,224.2 406.1,224.2 406.3,224.2 406.6,224.2 406.8,224.2 407.1,224.2 407.3,224.2 407.6,224.2 407.8,224.2 408.1,224.2 408.3,224.2 408.6,224.2 408.8,224.2 409.1,224.2 409.3,224.2 409.6,224.2 409.8,224.2 410.1,224.2 410.3,224.2 410.6,224.2 410.8,224.2 411.1,224.2 411.3,224.2 411.6,224.2 411.8,224.2 412.1,224.2 412.3,224.2 412.6,224.2 412.8,224.2 413.1,224.2 413.3,224.2 413.6,224.2 413.8,224.2 414.1,224.2 414.3,224.2 414.6,224.2 414.8,224.2 415.1,224.2 415.3,224.2 415.6,224.2 415.8,224.2 416.1,224.2 416.3,224.2 416.6,224.2 416.8,224.2 417.1,224.2 417.3,224.2 417.6,224.2 417.8,224.2 418.1,224.2 418.3,224.2 418.6,224.2 418.8,224.2 419.1,224.2 419.3,224.2 419.6,224.2 419.8,224.2 420.0,224.2 420.3,224.2 420.5,224.2 420.8,224.2 421.0,224.2 421.3,224.2 421.5,224.2 421.8,224.2 422.0,224.2 422.3,224.2 422.5,224.2 422.8,224.2 423.0,224.2 423.3,224.2 423.5,224.2 423.8,224.2 424.0,224.2 424.3,224.2 424.5,224.2 424.8,224.2 425.0,224.2 425.3,224.2 425.5,224.2 425.8,224.2 426.0,224.2 426.3,224.2 426.5,224.2 426.8,224.2 427.0,224.2 427.3,224.2 427.5,224.2 427.8,224.2" stroke="#555" stroke-width="1"/>
<path d="M253.5 198.7V205.1M252.1 198.7h2.8M252.1 205.1h2.8" stroke="#333" stroke-width="0.75" fill="none"/><path d="M260.0 191.1V197.9M258.6 191.1h2.8M258.6 197.9h2.8" stroke="#333" stroke-width="0.75" fill="none"/><path d="M266.0 198.8V205.0M264.6 198.8h2.8M264.6 205.0h2.8" stroke="#333" stroke-width="0.75" fill="none"/><path d="M270.0 193.9V200.7M268.6 193.9h2.8M268.6 200.7h2.8" stroke="#333" stroke-width="0.75" fill="none"/><path d="M271.4 199.5V205.7M270.0 199.5h2.8M270.0 205.7h2.8" stroke="#333" stroke-width="0.75" fill="none"/><path d="M273.2 184.7V191.7M271.8 184.7h2.8M271.8 191.7h2.8" stroke="#333" stroke-width="0.75" fill="none"/><path d="M274.4 195.1V201.9M273.0 195.1h2.8M273.0 201.9h2.8" stroke="#333" stroke-width="0.75" fill="none"/><path d="M275.8 191.2V196.4M274.4 191.2h2.8M274.4 196.4h2.8" stroke="#333" stroke-width="0.75" fill="none"/><path d="M277.6 200.6V207.6M276.2 200.6h2.8M276.2 207.6h2.8" stroke="#333" stroke-width="0.75" fill="none"/><path d="M279.2 198.5V204.3M277.8 198.5h2.8M277.8 204.3h2.8" stroke="#333" stroke-width="0.75" fill="none"/><path d="M280.7 215.3V220.5M279.3 215.3h2.8M279.3 220.5h2.8" stroke="#333" stroke-width="0.75" fill="none"/><path d="M282.4 221.5V226.9M281.0 221.5h2.8M281.0 226.9h2.8" stroke="#333" stroke-width="0.75" fill="none"/><path d="M283.9 230.5V236.3M282.5 230.5h2.8M282.5 236.3h2.8" stroke="#333" stroke-width="0.75" fill="none"/><path d="M285.4 230.5V236.9M284.0 230.5h2.8M284.0 236.9h2.8" stroke="#333" stroke-width="0.75" fill="none"/><path d="M286.9 223.2V229.0M285.5 223.2h2.8M285.5 229.0h2.8" stroke="#333" stroke-width="0.75" fill="none"/><path d="M288.3 222.4V228.0M286.9 222.4h2.8M286.9 228.0h2.8" stroke="#333" stroke-width="0.75" fill="none"/><path d="M290.2 223.6V230.6M288.8 223.6h2.8M288.8 230.6h2.8" stroke="#333" stroke-width="0.75" fill="none"/><path d="M291.7 225.2V231.2M290.3 225.2h2.8M290.3 231.2h2.8" stroke="#333" stroke-width="0.75" fill="none"/><path d="M293.0 219.1V226.3M291.6 219.1h2.8M291.6 226.3h2.8" stroke="#333" stroke-width="0.75" fill="none"/><path d="M294.5 210.7V216.3M293.1 210.7h2.8M293.1 216.3h2.8" stroke="#333" stroke-width="0.75" fill="none"/><path d="M296.1 220.8V227.6M294.7 220.8h2.8M294.7 227.6h2.8" stroke="#333" stroke-width="0.75" fill="none"/><path d="M297.6 231.0V237.0M296.2 231.0h2.8M296.2 237.0h2.8" stroke="#333" stroke-width="0.75" fill="none"/><path d="M299.3 222.1V229.3M297.9 222.1h2.8M297.9 229.3h2.8" stroke="#333" stroke-width="0.75" fill="none"/><path d="M300.5 230.7V237.3M299.1 230.7h2.8M299.1 237.3h2.8" stroke="#333" stroke-width="0.75" fill="none"/><path d="M302.3 222.3V229.1M300.9 222.3h2.8M300.9 229.1h2.8" stroke="#333" stroke-width="0.75" fill="none"/><path d="M303.7 227.5V232.7M302.3 227.5h2.8M302.3 232.7h2.8" stroke="#333" stroke-width="0.75" fill="none"/><path d="M305.2 215.3V222.3M303.8 215.3h2.8M303.8 222.3h2.8" stroke="#333" stroke-width="0.75" fill="none"/><path d="M307.6 227.1V233.1M306.2 227.1h2.8M306.2 233.1h2.8" stroke="#333" stroke-width="0.75" fill="none"/><path d="M310.8 218.8V225.8M309.4 218.8h2.8M309.4 225.8h2.8" stroke="#333" stroke-width="0.75" fill="none"/><path d="M313.7 217.7V224.9M312.3 217.7h2.8M312.3 224.9h2.8" stroke="#333" stroke-width="0.75" fill="none"/><path d="M317.0 221.5V226.9M315.6 221.5h2.8M315.6 226.9h2.8" stroke="#333" stroke-width="0.75" fill="none"/><path d="M320.2 225.7V230.7M318.8 225.7h2.8M318.8 230.7h2.8" stroke="#333" stroke-width="0.75" fill="none"/><path d="M323.1 224.7V231.7M321.7 224.7h2.8M321.7 231.7h2.8" stroke="#333" stroke-width="0.75" fill="none"/><path d="M326.2 222.6V230.2M324.8 222.6h2.8M324.8 230.2h2.8" stroke="#333" stroke-width="0.75" fill="none"/><path d="M329.4 231.8V239.2M328.0 231.8h2.8M328.0 239.2h2.8" stroke="#333" stroke-width="0.75" fill="none"/><path d="M332.4 229.9V236.1M331.0 229.9h2.8M331.0 236.1h2.8" stroke="#333" stroke-width="0.75" fill="none"/><path d="M335.6 213.3V220.5M334.2 213.3h2.8M334.2 220.5h2.8" stroke="#333" stroke-width="0.75" fill="none"/><path d="M338.6 233.9V239.1M337.2 233.9h2.8M337.2 239.1h2.8" stroke="#333" stroke-width="0.75" fill="none"/><path d="M341.6 224.8V230.0M340.2 224.8h2.8M340.2 230.0h2.8" stroke="#333" stroke-width="0.75" fill="none"/><path d="M344.8 218.6V225.2M343.4 218.6h2.8M343.4 225.2h2.8" stroke="#333" stroke-width="0.75" fill="none"/><path d="M347.8 227.5V233.9M346.4 227.5h2.8M346.4 233.9h2.8" stroke="#333" stroke-width="0.75" fill="none"/><path d="M350.8 221.2V228.4M349.4 221.2h2.8M349.4 228.4h2.8" stroke="#333" stroke-width="0.75" fill="none"/><path d="M354.0 220.8V226.4M352.6 220.8h2.8M352.6 226.4h2.8" stroke="#333" stroke-width="0.75" fill="none"/><path d="M356.9 227.6V233.8M355.5 227.6h2.8M355.5 233.8h2.8" stroke="#333" stroke-width="0.75" fill="none"/><path d="M360.1 226.1V233.7M358.7 226.1h2.8M358.7 233.7h2.8" stroke="#333" stroke-width="0.75" fill="none"/><path d="M363.2 219.7V225.5M361.8 219.7h2.8M361.8 225.5h2.8" stroke="#333" stroke-width="0.75" fill="none"/><path d="M366.4 227.4V233.4M365.0 227.4h2.8M365.0 233.4h2.8" stroke="#333" stroke-width="0.75" fill="none"/><path d="M369.3 220.8V227.4M367.9 220.8h2.8M367.9 227.4h2.8" stroke="#333" stroke-width="0.75" fill="none"/><path d="M372.2 222.2V229.8M370.8 222.2h2.8M370.8 229.8h2.8" stroke="#333" stroke-width="0.75" fill="none"/><path d="M375.4 223.5V229.1M374.0 223.5h2.8M374.0 229.1h2.8" stroke="#333" stroke-width="0.75" fill="none"/><path d="M378.5 217.5V224.3M377.1 217.5h2.8M377.1 224.3h2.8" stroke="#333" stroke-width="0.75" fill="none"/><path d="M381.7 224.3V230.5M380.3 224.3h2.8M380.3 230.5h2.8" stroke="#333" stroke-width="0.75" fill="none"/><path d="M384.9 221.8V227.8M383.5 221.8h2.8M383.5 227.8h2.8" stroke="#333" stroke-width="0.75" fill="none"/><path d="M387.8 213.9V219.7M386.4 213.9h2.8M386.4 219.7h2.8" stroke="#333" stroke-width="0.75" fill="none"/><path d="M390.9 228.0V234.2M389.5 228.0h2.8M389.5 234.2h2.8" stroke="#333" stroke-width="0.75" fill="none"/><path d="M394.1 224.7V231.3M392.7 224.7h2.8M392.7 231.3h2.8" stroke="#333" stroke-width="0.75" fill="none"/><path d="M397.3 230.6V236.6M395.9 230.6h2.8M395.9 236.6h2.8" stroke="#333" stroke-width="0.75" fill="none"/><path d="M400.4 220.9V227.3M399.0 220.9h2.8M399.0 227.3h2.8" stroke="#333" stroke-width="0.75" fill="none"/><path d="M403.3 226.2V232.8M401.9 226.2h2.8M401.9 232.8h2.8" stroke="#333" stroke-width="0.75" fill="none"/><path d="M406.5 220.9V228.1M405.1 220.9h2.8M405.1 228.1h2.8" stroke="#333" stroke-width="0.75" fill="none"/><path d="M409.5 220.9V227.3M408.1 220.9h2.8M408.1 227.3h2.8" stroke="#333" stroke-width="0.75" fill="none"/><path d="M412.4 217.4V223.4M411.0 217.4h2.8M411.0 223.4h2.8" stroke="#333" stroke-width="0.75" fill="none"/><path d="M415.6 224.0V231.4M414.2 224.0h2.8M414.2 231.4h2.8" stroke="#333" stroke-width="0.75" fill="none"/><path d="M418.9 220.4V225.8M417.5 220.4h2.8M417.5 225.8h2.8" stroke="#333" stroke-width="0.75" fill="none"/><path d="M421.9 217.1V222.3M420.5 217.1h2.8M420.5 222.3h2.8" stroke="#333" stroke-width="0.75" fill="none"/><path d="M424.8 219.7V227.1M423.4 219.7h2.8M423.4 227.1h2.8" stroke="#333" stroke-width="0.75" fill="none"/><circle cx="253.5" cy="201.9" r="1.85" fill="#2a66f2" stroke="#151515" stroke-width="0.6"/><circle cx="260.0" cy="194.5" r="1.85" fill="#2a66f2" stroke="#151515" stroke-width="0.6"/><circle cx="266.0" cy="201.9" r="1.85" fill="#2a66f2" stroke="#151515" stroke-width="0.6"/><circle cx="270.0" cy="197.3" r="1.85" fill="#2a66f2" stroke="#151515" stroke-width="0.6"/><circle cx="271.4" cy="202.6" r="1.85" fill="#2a66f2" stroke="#151515" stroke-width="0.6"/><circle cx="273.2" cy="188.2" r="1.85" fill="#2a66f2" stroke="#151515" stroke-width="0.6"/><circle cx="274.4" cy="198.5" r="1.85" fill="#2a66f2" stroke="#151515" stroke-width="0.6"/><circle cx="275.8" cy="193.8" r="1.85" fill="#2a66f2" stroke="#151515" stroke-width="0.6"/><circle cx="277.6" cy="204.1" r="1.85" fill="#2a66f2" stroke="#151515" stroke-width="0.6"/><circle cx="279.2" cy="201.4" r="1.85" fill="#2a66f2" stroke="#151515" stroke-width="0.6"/><circle cx="280.7" cy="217.9" r="1.85" fill="#2a66f2" stroke="#151515" stroke-width="0.6"/><circle cx="282.4" cy="224.2" r="1.85" fill="#2a66f2" stroke="#151515" stroke-width="0.6"/><circle cx="283.9" cy="233.4" r="1.85" fill="#2a66f2" stroke="#151515" stroke-width="0.6"/><circle cx="285.4" cy="233.7" r="1.85" fill="#2a66f2" stroke="#151515" stroke-width="0.6"/><circle cx="286.9" cy="226.1" r="1.85" fill="#2a66f2" stroke="#151515" stroke-width="0.6"/><circle cx="288.3" cy="225.2" r="1.85" fill="#2a66f2" stroke="#151515" stroke-width="0.6"/><circle cx="290.2" cy="227.1" r="1.85" fill="#2a66f2" stroke="#151515" stroke-width="0.6"/><circle cx="291.7" cy="228.2" r="1.85" fill="#2a66f2" stroke="#151515" stroke-width="0.6"/><circle cx="293.0" cy="222.7" r="1.85" fill="#2a66f2" stroke="#151515" stroke-width="0.6"/><circle cx="294.5" cy="213.5" r="1.85" fill="#2a66f2" stroke="#151515" stroke-width="0.6"/><circle cx="296.1" cy="224.2" r="1.85" fill="#2a66f2" stroke="#151515" stroke-width="0.6"/><circle cx="297.6" cy="234.0" r="1.85" fill="#2a66f2" stroke="#151515" stroke-width="0.6"/><circle cx="299.3" cy="225.7" r="1.85" fill="#2a66f2" stroke="#151515" stroke-width="0.6"/><circle cx="300.5" cy="234.0" r="1.85" fill="#2a66f2" stroke="#151515" stroke-width="0.6"/><circle cx="302.3" cy="225.7" r="1.85" fill="#2a66f2" stroke="#151515" stroke-width="0.6"/><circle cx="303.7" cy="230.1" r="1.85" fill="#2a66f2" stroke="#151515" stroke-width="0.6"/><circle cx="305.2" cy="218.8" r="1.85" fill="#2a66f2" stroke="#151515" stroke-width="0.6"/><circle cx="307.6" cy="230.1" r="1.85" fill="#2a66f2" stroke="#151515" stroke-width="0.6"/><circle cx="310.8" cy="222.3" r="1.85" fill="#2a66f2" stroke="#151515" stroke-width="0.6"/><circle cx="313.7" cy="221.3" r="1.85" fill="#2a66f2" stroke="#151515" stroke-width="0.6"/><circle cx="317.0" cy="224.2" r="1.85" fill="#2a66f2" stroke="#151515" stroke-width="0.6"/><circle cx="320.2" cy="228.2" r="1.85" fill="#2a66f2" stroke="#151515" stroke-width="0.6"/><circle cx="323.1" cy="228.2" r="1.85" fill="#2a66f2" stroke="#151515" stroke-width="0.6"/><circle cx="326.2" cy="226.4" r="1.85" fill="#2a66f2" stroke="#151515" stroke-width="0.6"/><circle cx="329.4" cy="235.5" r="1.85" fill="#2a66f2" stroke="#151515" stroke-width="0.6"/><circle cx="332.4" cy="233.0" r="1.85" fill="#2a66f2" stroke="#151515" stroke-width="0.6"/><circle cx="335.6" cy="216.9" r="1.85" fill="#2a66f2" stroke="#151515" stroke-width="0.6"/><circle cx="338.6" cy="236.5" r="1.85" fill="#2a66f2" stroke="#151515" stroke-width="0.6"/><circle cx="341.6" cy="227.4" r="1.85" fill="#2a66f2" stroke="#151515" stroke-width="0.6"/><circle cx="344.8" cy="221.9" r="1.85" fill="#2a66f2" stroke="#151515" stroke-width="0.6"/><circle cx="347.8" cy="230.7" r="1.85" fill="#2a66f2" stroke="#151515" stroke-width="0.6"/><circle cx="350.8" cy="224.8" r="1.85" fill="#2a66f2" stroke="#151515" stroke-width="0.6"/><circle cx="354.0" cy="223.6" r="1.85" fill="#2a66f2" stroke="#151515" stroke-width="0.6"/><circle cx="356.9" cy="230.7" r="1.85" fill="#2a66f2" stroke="#151515" stroke-width="0.6"/><circle cx="360.1" cy="229.9" r="1.85" fill="#2a66f2" stroke="#151515" stroke-width="0.6"/><circle cx="363.2" cy="222.6" r="1.85" fill="#2a66f2" stroke="#151515" stroke-width="0.6"/><circle cx="366.4" cy="230.4" r="1.85" fill="#2a66f2" stroke="#151515" stroke-width="0.6"/><circle cx="369.3" cy="224.1" r="1.85" fill="#2a66f2" stroke="#151515" stroke-width="0.6"/><circle cx="372.2" cy="226.0" r="1.85" fill="#2a66f2" stroke="#151515" stroke-width="0.6"/><circle cx="375.4" cy="226.3" r="1.85" fill="#2a66f2" stroke="#151515" stroke-width="0.6"/><circle cx="378.5" cy="220.9" r="1.85" fill="#2a66f2" stroke="#151515" stroke-width="0.6"/><circle cx="381.7" cy="227.4" r="1.85" fill="#2a66f2" stroke="#151515" stroke-width="0.6"/><circle cx="384.9" cy="224.8" r="1.85" fill="#2a66f2" stroke="#151515" stroke-width="0.6"/><circle cx="387.8" cy="216.8" r="1.85" fill="#2a66f2" stroke="#151515" stroke-width="0.6"/><circle cx="390.9" cy="231.1" r="1.85" fill="#2a66f2" stroke="#151515" stroke-width="0.6"/><circle cx="394.1" cy="228.0" r="1.85" fill="#2a66f2" stroke="#151515" stroke-width="0.6"/><circle cx="397.3" cy="233.6" r="1.85" fill="#2a66f2" stroke="#151515" stroke-width="0.6"/><circle cx="400.4" cy="224.1" r="1.85" fill="#2a66f2" stroke="#151515" stroke-width="0.6"/><circle cx="403.3" cy="229.5" r="1.85" fill="#2a66f2" stroke="#151515" stroke-width="0.6"/><circle cx="406.5" cy="224.5" r="1.85" fill="#2a66f2" stroke="#151515" stroke-width="0.6"/><circle cx="409.5" cy="224.1" r="1.85" fill="#2a66f2" stroke="#151515" stroke-width="0.6"/><circle cx="412.4" cy="220.4" r="1.85" fill="#2a66f2" stroke="#151515" stroke-width="0.6"/><circle cx="415.6" cy="227.7" r="1.85" fill="#2a66f2" stroke="#151515" stroke-width="0.6"/><circle cx="418.9" cy="223.1" r="1.85" fill="#2a66f2" stroke="#151515" stroke-width="0.6"/><circle cx="421.9" cy="219.7" r="1.85" fill="#2a66f2" stroke="#151515" stroke-width="0.6"/><circle cx="424.8" cy="223.4" r="1.85" fill="#2a66f2" stroke="#151515" stroke-width="0.6"/>
<line x1="247.6" x2="278.4" y1="269.5" y2="269.5" stroke="#333" stroke-width="1"/>
<polyline fill="none" points="278.4,269.5 278.6,271.6 278.9,273.5 279.1,275.3 279.4,276.9 279.6,278.4 279.9,279.8 280.1,281.1 280.4,282.2 280.6,283.3 280.9,284.2 281.1,285.1 281.4,286.0 281.6,286.7 281.9,287.4 282.1,288.0 282.4,288.6 282.6,289.1 282.9,289.6 283.1,290.0 283.4,290.4 283.6,290.8 283.9,291.1 284.1,291.4 284.4,291.6 284.6,291.9 284.9,292.1 285.1,292.3 285.4,292.5 285.6,292.6 285.9,292.8 286.1,292.9 286.4,293.0 286.6,293.1 286.9,293.2 287.1,293.3 287.4,293.4 287.6,293.4 287.9,293.5 288.1,293.5 288.4,293.5 288.6,293.6 288.9,293.6 289.1,293.6 289.4,293.6 289.6,293.6 289.9,293.6 290.1,293.6 290.4,293.6 290.6,293.6 290.9,293.6 291.1,293.6 291.4,293.6 291.6,293.6 291.9,293.6 292.1,293.6 292.4,293.5 292.6,293.5 292.9,293.5 293.1,293.5 293.4,293.4 293.6,293.4 293.9,293.4 294.1,293.4 294.4,293.3 294.6,293.3 294.9,293.3 295.1,293.3 295.4,293.2 295.6,293.2 295.9,293.2 296.1,293.2 296.4,293.1 296.6,293.1 296.9,293.1 297.1,293.0 297.4,293.0 297.6,293.0 297.9,293.0 298.1,292.9 298.4,292.9 298.6,292.9 298.8,292.9 299.1,292.8 299.3,292.8 299.6,292.8 299.8,292.7 300.1,292.7 300.3,292.7 300.6,292.7 300.8,292.7 301.1,292.6 301.3,292.6 301.6,292.6 301.8,292.6 302.1,292.5 302.3,292.5 302.6,292.5 302.8,292.5 303.1,292.4 303.3,292.4 303.6,292.4 303.8,292.4 304.1,292.4 304.3,292.3 304.6,292.3 304.8,292.3 305.1,292.3 305.3,292.3 305.6,292.2 305.8,292.2 306.1,292.2 306.3,292.2 306.6,292.2 306.8,292.2 307.1,292.1 307.3,292.1 307.6,292.1 307.8,292.1 308.1,292.1 308.3,292.1 308.6,292.0 308.8,292.0 309.1,292.0 309.3,292.0 309.6,292.0 309.8,292.0 310.1,292.0 310.3,291.9 310.6,291.9 310.8,291.9 311.1,291.9 311.3,291.9 311.6,291.9 311.8,291.9 312.1,291.8 312.3,291.8 312.6,291.8 312.8,291.8 313.1,291.8 313.3,291.8 313.6,291.8 313.8,291.8 314.1,291.8 314.3,291.7 314.6,291.7 314.8,291.7 315.1,291.7 315.3,291.7 315.6,291.7 315.8,291.7 316.1,291.7 316.3,291.7 316.6,291.7 316.8,291.6 317.1,291.6 317.3,291.6 317.6,291.6 317.8,291.6 318.1,291.6 318.3,291.6 318.6,291.6 318.8,291.6 319.0,291.6 319.3,291.6 319.5,291.5 319.8,291.5 320.0,291.5 320.3,291.5 320.5,291.5 320.8,291.5 321.0,291.5 321.3,291.5 321.5,291.5 321.8,291.5 322.0,291.5 322.3,291.5 322.5,291.5 322.8,291.5 323.0,291.5 323.3,291.4 323.5,291.4 323.8,291.4 324.0,291.4 324.3,291.4 324.5,291.4 324.8,291.4 325.0,291.4 325.3,291.4 325.5,291.4 325.8,291.4 326.0,291.4 326.3,291.4 326.5,291.4 326.8,291.4 327.0,291.4 327.3,291.4 327.5,291.4 327.8,291.4 328.0,291.3 328.3,291.3 328.5,291.3 328.8,291.3 329.0,291.3 329.3,291.3 329.5,291.3 329.8,291.3 330.0,291.3 330.3,291.3 330.5,291.3 330.8,291.3 331.0,291.3 331.3,291.3 331.5,291.3 331.8,291.3 332.0,291.3 332.3,291.3 332.5,291.3 332.8,291.3 333.0,291.3 333.3,291.3 333.5,291.3 333.8,291.3 334.0,291.3 334.3,291.3 334.5,291.3 334.8,291.3 335.0,291.2 335.3,291.2 335.5,291.2 335.8,291.2 336.0,291.2 336.3,291.2 336.5,291.2 336.8,291.2 337.0,291.2 337.3,291.2 337.5,291.2 337.8,291.2 338.0,291.2 338.3,291.2 338.5,291.2 338.8,291.2 339.0,291.2 339.2,291.2 339.5,291.2 339.7,291.2 340.0,291.2 340.2,291.2 340.5,291.2 340.7,291.2 341.0,291.2 341.2,291.2 341.5,291.2 341.7,291.2 342.0,291.2 342.2,291.2 342.5,291.2 342.7,291.2 343.0,291.2 343.2,291.2 343.5,291.2 343.7,291.2 344.0,291.2 344.2,291.2 344.5,291.2 344.7,291.2 345.0,291.2 345.2,291.2 345.5,291.2 345.7,291.2 346.0,291.2 346.2,291.2 346.5,291.2 346.7,291.2 347.0,291.2 347.2,291.2 347.5,291.2 347.7,291.2 348.0,291.2 348.2,291.1 348.5,291.1 348.7,291.1 349.0,291.1 349.2,291.1 349.5,291.1 349.7,291.1 350.0,291.1 350.2,291.1 350.5,291.1 350.7,291.1 351.0,291.1 351.2,291.1 351.5,291.1 351.7,291.1 352.0,291.1 352.2,291.1 352.5,291.1 352.7,291.1 353.0,291.1 353.2,291.1 353.5,291.1 353.7,291.1 354.0,291.1 354.2,291.1 354.5,291.1 354.7,291.1 355.0,291.1 355.2,291.1 355.5,291.1 355.7,291.1 356.0,291.1 356.2,291.1 356.5,291.1 356.7,291.1 357.0,291.1 357.2,291.1 357.5,291.1 357.7,291.1 358.0,291.1 358.2,291.1 358.5,291.1 358.7,291.1 359.0,291.1 359.2,291.1 359.4,291.1 359.7,291.1 359.9,291.1 360.2,291.1 360.4,291.1 360.7,291.1 360.9,291.1 361.2,291.1 361.4,291.1 361.7,291.1 361.9,291.1 362.2,291.1 362.4,291.1 362.7,291.1 362.9,291.1 363.2,291.1 363.4,291.1 363.7,291.1 363.9,291.1 364.2,291.1 364.4,291.1 364.7,291.1 364.9,291.1 365.2,291.1 365.4,291.1 365.7,291.1 365.9,291.1 366.2,291.1 366.4,291.1 366.7,291.1 366.9,291.1 367.2,291.1 367.4,291.1 367.7,291.1 367.9,291.1 368.2,291.1 368.4,291.1 368.7,291.1 368.9,291.1 369.2,291.1 369.4,291.1 369.7,291.1 369.9,291.1 370.2,291.1 370.4,291.1 370.7,291.1 370.9,291.1 371.2,291.1 371.4,291.1 371.7,291.1 371.9,291.1 372.2,291.1 372.4,291.1 372.7,291.1 372.9,291.1 373.2,291.1 373.4,291.1 373.7,291.1 373.9,291.1 374.2,291.1 374.4,291.1 374.7,291.1 374.9,291.1 375.2,291.1 375.4,291.1 375.7,291.1 375.9,291.1 376.2,291.1 376.4,291.1 376.7,291.1 376.9,291.1 377.2,291.1 377.4,291.1 377.7,291.1 377.9,291.1 378.2,291.1 378.4,291.1 378.7,291.1 378.9,291.1 379.2,291.1 379.4,291.1 379.6,291.1 379.9,291.1 380.1,291.1 380.4,291.1 380.6,291.1 380.9,291.1 381.1,291.1 381.4,291.1 381.6,291.1 381.9,291.1 382.1,291.1 382.4,291.1 382.6,291.1 382.9,291.1 383.1,291.1 383.4,291.1 383.6,291.1 383.9,291.1 384.1,291.1 384.4,291.1 384.6,291.1 384.9,291.1 385.1,291.1 385.4,291.1 385.6,291.1 385.9,291.1 386.1,291.1 386.4,291.1 386.6,291.1 386.9,291.1 387.1,291.1 387.4,291.1 387.6,291.1 387.9,291.1 388.1,291.1 388.4,291.1 388.6,291.1 388.9,291.1 389.1,291.1 389.4,291.1 389.6,291.1 389.9,291.1 390.1,291.1 390.4,291.1 390.6,291.1 390.9,291.1 391.1,291.1 391.4,291.1 391.6,291.1 391.9,291.1 392.1,291.1 392.4,291.1 392.6,291.1 392.9,291.1 393.1,291.1 393.4,291.1 393.6,291.1 393.9,291.1 394.1,291.1 394.4,291.1 394.6,291.1 394.9,291.1 395.1,291.1 395.4,291.1 395.6,291.1 395.9,291.1 396.1,291.1 396.4,291.1 396.6,291.1 396.9,291.1 397.1,291.1 397.4,291.1 397.6,291.1 397.9,291.1 398.1,291.1 398.4,291.1 398.6,291.1 398.9,291.1 399.1,291.1 399.4,291.1 399.6,291.1 399.8,291.1 400.1,291.1 400.3,291.1 400.6,291.1 400.8,291.1 401.1,291.1 401.3,291.1 401.6,291.1 401.8,291.1 402.1,291.1 402.3,291.1 402.6,291.1 402.8,291.1 403.1,291.1 403.3,291.1 403.6,291.1 403.8,291.1 404.1,291.1 404.3,291.1 404.6,291.1 404.8,291.1 405.1,291.1 405.3,291.1 405.6,291.1 405.8,291.1 406.1,291.1 406.3,291.1 406.6,291.1 406.8,291.1 407.1,291.1 407.3,291.1 407.6,291.1 407.8,291.1 408.1,291.1 408.3,291.1 408.6,291.1 408.8,291.1 409.1,291.1 409.3,291.1 409.6,291.1 409.8,291.1 410.1,291.1 410.3,291.1 410.6,291.1 410.8,291.1 411.1,291.1 411.3,291.1 411.6,291.1 411.8,291.1 412.1,291.1 412.3,291.1 412.6,291.1 412.8,291.1 413.1,291.1 413.3,291.1 413.6,291.1 413.8,291.1 414.1,291.1 414.3,291.1 414.6,291.1 414.8,291.1 415.1,291.1 415.3,291.1 415.6,291.1 415.8,291.1 416.1,291.1 416.3,291.1 416.6,291.1 416.8,291.1 417.1,291.1 417.3,291.1 417.6,291.1 417.8,291.1 418.1,291.1 418.3,291.1 418.6,291.1 418.8,291.1 419.1,291.1 419.3,291.1 419.6,291.1 419.8,291.1 420.0,291.1 420.3,291.1 420.5,291.1 420.8,291.1 421.0,291.1 421.3,291.1 421.5,291.1 421.8,291.1 422.0,291.1 422.3,291.1 422.5,291.1 422.8,291.1 423.0,291.1 423.3,291.1 423.5,291.1 423.8,291.1 424.0,291.1 424.3,291.1 424.5,291.1 424.8,291.1 425.0,291.1 425.3,291.1 425.5,291.1 425.8,291.1 426.0,291.1 426.3,291.1 426.5,291.1 426.8,291.1 427.0,291.1 427.3,291.1 427.5,291.1 427.8,291.1" stroke="#555" stroke-width="1"/>
<path d="M252.6 261.0V267.0M251.2 261.0h2.8M251.2 267.0h2.8" stroke="#333" stroke-width="0.75" fill="none"/><path d="M259.0 262.0V266.8M257.6 262.0h2.8M257.6 266.8h2.8" stroke="#333" stroke-width="0.75" fill="none"/><path d="M265.1 263.6V268.2M263.7 263.6h2.8M263.7 268.2h2.8" stroke="#333" stroke-width="0.75" fill="none"/><path d="M268.9 263.3V269.1M267.5 263.3h2.8M267.5 269.1h2.8" stroke="#333" stroke-width="0.75" fill="none"/><path d="M270.7 277.2V283.0M269.3 277.2h2.8M269.3 283.0h2.8" stroke="#333" stroke-width="0.75" fill="none"/><path d="M272.2 268.3V274.3M270.8 268.3h2.8M270.8 274.3h2.8" stroke="#333" stroke-width="0.75" fill="none"/><path d="M273.9 265.6V271.2M272.5 265.6h2.8M272.5 271.2h2.8" stroke="#333" stroke-width="0.75" fill="none"/><path d="M275.1 257.8V262.8M273.7 257.8h2.8M273.7 262.8h2.8" stroke="#333" stroke-width="0.75" fill="none"/><path d="M276.6 261.8V267.0M275.2 261.8h2.8M275.2 267.0h2.8" stroke="#333" stroke-width="0.75" fill="none"/><path d="M278.5 275.9V281.3M277.1 275.9h2.8M277.1 281.3h2.8" stroke="#333" stroke-width="0.75" fill="none"/><path d="M279.9 277.4V282.8M278.5 277.4h2.8M278.5 282.8h2.8" stroke="#333" stroke-width="0.75" fill="none"/><path d="M281.4 286.5V292.7M280.0 286.5h2.8M280.0 292.7h2.8" stroke="#333" stroke-width="0.75" fill="none"/><path d="M282.9 299.0V303.8M281.5 299.0h2.8M281.5 303.8h2.8" stroke="#333" stroke-width="0.75" fill="none"/><path d="M284.4 291.9V297.7M283.0 291.9h2.8M283.0 297.7h2.8" stroke="#333" stroke-width="0.75" fill="none"/><path d="M285.8 291.2V295.4M284.4 291.2h2.8M284.4 295.4h2.8" stroke="#333" stroke-width="0.75" fill="none"/><path d="M287.6 297.6V302.2M286.2 297.6h2.8M286.2 302.2h2.8" stroke="#333" stroke-width="0.75" fill="none"/><path d="M289.1 288.3V294.5M287.7 288.3h2.8M287.7 294.5h2.8" stroke="#333" stroke-width="0.75" fill="none"/><path d="M290.8 299.3V304.1M289.4 299.3h2.8M289.4 304.1h2.8" stroke="#333" stroke-width="0.75" fill="none"/><path d="M292.0 302.0V307.2M290.6 302.0h2.8M290.6 307.2h2.8" stroke="#333" stroke-width="0.75" fill="none"/><path d="M293.5 293.6V299.8M292.1 293.6h2.8M292.1 299.8h2.8" stroke="#333" stroke-width="0.75" fill="none"/><path d="M295.2 288.0V293.6M293.8 288.0h2.8M293.8 293.6h2.8" stroke="#333" stroke-width="0.75" fill="none"/><path d="M296.7 295.9V301.1M295.3 295.9h2.8M295.3 301.1h2.8" stroke="#333" stroke-width="0.75" fill="none"/><path d="M298.5 291.0V296.6M297.1 291.0h2.8M297.1 296.6h2.8" stroke="#333" stroke-width="0.75" fill="none"/><path d="M299.9 294.2V300.4M298.5 294.2h2.8M298.5 300.4h2.8" stroke="#333" stroke-width="0.75" fill="none"/><path d="M301.1 296.8V303.0M299.7 296.8h2.8M299.7 303.0h2.8" stroke="#333" stroke-width="0.75" fill="none"/><path d="M302.9 292.5V297.1M301.5 292.5h2.8M301.5 297.1h2.8" stroke="#333" stroke-width="0.75" fill="none"/><path d="M304.5 296.9V301.5M303.1 296.9h2.8M303.1 301.5h2.8" stroke="#333" stroke-width="0.75" fill="none"/><path d="M306.7 286.1V290.9M305.3 286.1h2.8M305.3 290.9h2.8" stroke="#333" stroke-width="0.75" fill="none"/><path d="M309.9 292.5V297.1M308.5 292.5h2.8M308.5 297.1h2.8" stroke="#333" stroke-width="0.75" fill="none"/><path d="M312.8 289.4V295.2M311.4 289.4h2.8M311.4 295.2h2.8" stroke="#333" stroke-width="0.75" fill="none"/><path d="M315.8 289.3V295.3M314.4 289.3h2.8M314.4 295.3h2.8" stroke="#333" stroke-width="0.75" fill="none"/><path d="M319.2 298.8V303.4M317.8 298.8h2.8M317.8 303.4h2.8" stroke="#333" stroke-width="0.75" fill="none"/><path d="M322.4 298.0V302.4M321.0 298.0h2.8M321.0 302.4h2.8" stroke="#333" stroke-width="0.75" fill="none"/><path d="M325.0 289.5V294.3M323.6 289.5h2.8M323.6 294.3h2.8" stroke="#333" stroke-width="0.75" fill="none"/><path d="M328.3 288.0V293.6M326.9 288.0h2.8M326.9 293.6h2.8" stroke="#333" stroke-width="0.75" fill="none"/><path d="M331.3 282.0V287.8M329.9 282.0h2.8M329.9 287.8h2.8" stroke="#333" stroke-width="0.75" fill="none"/><path d="M334.3 287.8V293.0M332.9 287.8h2.8M332.9 293.0h2.8" stroke="#333" stroke-width="0.75" fill="none"/><path d="M337.5 292.0V297.6M336.1 292.0h2.8M336.1 297.6h2.8" stroke="#333" stroke-width="0.75" fill="none"/><path d="M340.4 297.6V303.8M339.0 297.6h2.8M339.0 303.8h2.8" stroke="#333" stroke-width="0.75" fill="none"/><path d="M343.8 295.4V301.4M342.4 295.4h2.8M342.4 301.4h2.8" stroke="#333" stroke-width="0.75" fill="none"/><path d="M347.0 300.5V304.9M345.6 300.5h2.8M345.6 304.9h2.8" stroke="#333" stroke-width="0.75" fill="none"/><path d="M349.9 292.8V298.6M348.5 292.8h2.8M348.5 298.6h2.8" stroke="#333" stroke-width="0.75" fill="none"/><path d="M353.0 284.5V290.3M351.6 284.5h2.8M351.6 290.3h2.8" stroke="#333" stroke-width="0.75" fill="none"/><path d="M356.5 299.3V305.5M355.1 299.3h2.8M355.1 305.5h2.8" stroke="#333" stroke-width="0.75" fill="none"/><path d="M359.1 291.5V296.5M357.7 291.5h2.8M357.7 296.5h2.8" stroke="#333" stroke-width="0.75" fill="none"/><path d="M362.3 290.9V295.5M360.9 290.9h2.8M360.9 295.5h2.8" stroke="#333" stroke-width="0.75" fill="none"/><path d="M365.4 294.6V299.8M364.0 294.6h2.8M364.0 299.8h2.8" stroke="#333" stroke-width="0.75" fill="none"/><path d="M368.6 285.9V290.9M367.2 285.9h2.8M367.2 290.9h2.8" stroke="#333" stroke-width="0.75" fill="none"/><path d="M371.5 295.6V300.6M370.1 295.6h2.8M370.1 300.6h2.8" stroke="#333" stroke-width="0.75" fill="none"/><path d="M374.7 291.7V297.7M373.3 291.7h2.8M373.3 297.7h2.8" stroke="#333" stroke-width="0.75" fill="none"/><path d="M377.6 286.8V292.4M376.2 286.8h2.8M376.2 292.4h2.8" stroke="#333" stroke-width="0.75" fill="none"/><path d="M380.8 293.8V299.4M379.4 293.8h2.8M379.4 299.4h2.8" stroke="#333" stroke-width="0.75" fill="none"/><path d="M383.9 290.4V296.0M382.5 290.4h2.8M382.5 296.0h2.8" stroke="#333" stroke-width="0.75" fill="none"/><path d="M386.8 290.2V294.8M385.4 290.2h2.8M385.4 294.8h2.8" stroke="#333" stroke-width="0.75" fill="none"/><path d="M390.0 292.5V296.9M388.6 292.5h2.8M388.6 296.9h2.8" stroke="#333" stroke-width="0.75" fill="none"/><path d="M393.1 294.7V299.7M391.7 294.7h2.8M391.7 299.7h2.8" stroke="#333" stroke-width="0.75" fill="none"/><path d="M396.0 293.6V299.6M394.6 293.6h2.8M394.6 299.6h2.8" stroke="#333" stroke-width="0.75" fill="none"/><path d="M399.2 293.4V299.0M397.8 293.4h2.8M397.8 299.0h2.8" stroke="#333" stroke-width="0.75" fill="none"/><path d="M402.2 294.3V300.1M400.8 294.3h2.8M400.8 300.1h2.8" stroke="#333" stroke-width="0.75" fill="none"/><path d="M405.4 294.1V299.7M404.0 294.1h2.8M404.0 299.7h2.8" stroke="#333" stroke-width="0.75" fill="none"/><path d="M408.4 289.3V295.1M407.0 289.3h2.8M407.0 295.1h2.8" stroke="#333" stroke-width="0.75" fill="none"/><path d="M411.6 289.3V295.7M410.2 289.3h2.8M410.2 295.7h2.8" stroke="#333" stroke-width="0.75" fill="none"/><path d="M414.9 291.8V297.6M413.5 291.8h2.8M413.5 297.6h2.8" stroke="#333" stroke-width="0.75" fill="none"/><path d="M417.9 289.8V295.8M416.5 289.8h2.8M416.5 295.8h2.8" stroke="#333" stroke-width="0.75" fill="none"/><path d="M421.1 283.3V289.5M419.7 283.3h2.8M419.7 289.5h2.8" stroke="#333" stroke-width="0.75" fill="none"/><path d="M424.1 291.1V296.9M422.7 291.1h2.8M422.7 296.9h2.8" stroke="#333" stroke-width="0.75" fill="none"/><circle cx="252.6" cy="264.0" r="1.85" fill="#4d8ef5" stroke="#151515" stroke-width="0.6"/><circle cx="259.0" cy="264.4" r="1.85" fill="#4d8ef5" stroke="#151515" stroke-width="0.6"/><circle cx="265.1" cy="265.9" r="1.85" fill="#4d8ef5" stroke="#151515" stroke-width="0.6"/><circle cx="268.9" cy="266.2" r="1.85" fill="#4d8ef5" stroke="#151515" stroke-width="0.6"/><circle cx="270.7" cy="280.1" r="1.85" fill="#4d8ef5" stroke="#151515" stroke-width="0.6"/><circle cx="272.2" cy="271.3" r="1.85" fill="#4d8ef5" stroke="#151515" stroke-width="0.6"/><circle cx="273.9" cy="268.4" r="1.85" fill="#4d8ef5" stroke="#151515" stroke-width="0.6"/><circle cx="275.1" cy="260.3" r="1.85" fill="#4d8ef5" stroke="#151515" stroke-width="0.6"/><circle cx="276.6" cy="264.4" r="1.85" fill="#4d8ef5" stroke="#151515" stroke-width="0.6"/><circle cx="278.5" cy="278.6" r="1.85" fill="#4d8ef5" stroke="#151515" stroke-width="0.6"/><circle cx="279.9" cy="280.1" r="1.85" fill="#4d8ef5" stroke="#151515" stroke-width="0.6"/><circle cx="281.4" cy="289.6" r="1.85" fill="#4d8ef5" stroke="#151515" stroke-width="0.6"/><circle cx="282.9" cy="301.4" r="1.85" fill="#4d8ef5" stroke="#151515" stroke-width="0.6"/><circle cx="284.4" cy="294.8" r="1.85" fill="#4d8ef5" stroke="#151515" stroke-width="0.6"/><circle cx="285.8" cy="293.3" r="1.85" fill="#4d8ef5" stroke="#151515" stroke-width="0.6"/><circle cx="287.6" cy="299.9" r="1.85" fill="#4d8ef5" stroke="#151515" stroke-width="0.6"/><circle cx="289.1" cy="291.4" r="1.85" fill="#4d8ef5" stroke="#151515" stroke-width="0.6"/><circle cx="290.8" cy="301.7" r="1.85" fill="#4d8ef5" stroke="#151515" stroke-width="0.6"/><circle cx="292.0" cy="304.6" r="1.85" fill="#4d8ef5" stroke="#151515" stroke-width="0.6"/><circle cx="293.5" cy="296.7" r="1.85" fill="#4d8ef5" stroke="#151515" stroke-width="0.6"/><circle cx="295.2" cy="290.8" r="1.85" fill="#4d8ef5" stroke="#151515" stroke-width="0.6"/><circle cx="296.7" cy="298.5" r="1.85" fill="#4d8ef5" stroke="#151515" stroke-width="0.6"/><circle cx="298.5" cy="293.8" r="1.85" fill="#4d8ef5" stroke="#151515" stroke-width="0.6"/><circle cx="299.9" cy="297.3" r="1.85" fill="#4d8ef5" stroke="#151515" stroke-width="0.6"/><circle cx="301.1" cy="299.9" r="1.85" fill="#4d8ef5" stroke="#151515" stroke-width="0.6"/><circle cx="302.9" cy="294.8" r="1.85" fill="#4d8ef5" stroke="#151515" stroke-width="0.6"/><circle cx="304.5" cy="299.2" r="1.85" fill="#4d8ef5" stroke="#151515" stroke-width="0.6"/><circle cx="306.7" cy="288.5" r="1.85" fill="#4d8ef5" stroke="#151515" stroke-width="0.6"/><circle cx="309.9" cy="294.8" r="1.85" fill="#4d8ef5" stroke="#151515" stroke-width="0.6"/><circle cx="312.8" cy="292.3" r="1.85" fill="#4d8ef5" stroke="#151515" stroke-width="0.6"/><circle cx="315.8" cy="292.3" r="1.85" fill="#4d8ef5" stroke="#151515" stroke-width="0.6"/><circle cx="319.2" cy="301.1" r="1.85" fill="#4d8ef5" stroke="#151515" stroke-width="0.6"/><circle cx="322.4" cy="300.2" r="1.85" fill="#4d8ef5" stroke="#151515" stroke-width="0.6"/><circle cx="325.0" cy="291.9" r="1.85" fill="#4d8ef5" stroke="#151515" stroke-width="0.6"/><circle cx="328.3" cy="290.8" r="1.85" fill="#4d8ef5" stroke="#151515" stroke-width="0.6"/><circle cx="331.3" cy="284.9" r="1.85" fill="#4d8ef5" stroke="#151515" stroke-width="0.6"/><circle cx="334.3" cy="290.4" r="1.85" fill="#4d8ef5" stroke="#151515" stroke-width="0.6"/><circle cx="337.5" cy="294.8" r="1.85" fill="#4d8ef5" stroke="#151515" stroke-width="0.6"/><circle cx="340.4" cy="300.7" r="1.85" fill="#4d8ef5" stroke="#151515" stroke-width="0.6"/><circle cx="343.8" cy="298.4" r="1.85" fill="#4d8ef5" stroke="#151515" stroke-width="0.6"/><circle cx="347.0" cy="302.7" r="1.85" fill="#4d8ef5" stroke="#151515" stroke-width="0.6"/><circle cx="349.9" cy="295.7" r="1.85" fill="#4d8ef5" stroke="#151515" stroke-width="0.6"/><circle cx="353.0" cy="287.4" r="1.85" fill="#4d8ef5" stroke="#151515" stroke-width="0.6"/><circle cx="356.5" cy="302.4" r="1.85" fill="#4d8ef5" stroke="#151515" stroke-width="0.6"/><circle cx="359.1" cy="294.0" r="1.85" fill="#4d8ef5" stroke="#151515" stroke-width="0.6"/><circle cx="362.3" cy="293.2" r="1.85" fill="#4d8ef5" stroke="#151515" stroke-width="0.6"/><circle cx="365.4" cy="297.2" r="1.85" fill="#4d8ef5" stroke="#151515" stroke-width="0.6"/><circle cx="368.6" cy="288.4" r="1.85" fill="#4d8ef5" stroke="#151515" stroke-width="0.6"/><circle cx="371.5" cy="298.1" r="1.85" fill="#4d8ef5" stroke="#151515" stroke-width="0.6"/><circle cx="374.7" cy="294.7" r="1.85" fill="#4d8ef5" stroke="#151515" stroke-width="0.6"/><circle cx="377.6" cy="289.6" r="1.85" fill="#4d8ef5" stroke="#151515" stroke-width="0.6"/><circle cx="380.8" cy="296.6" r="1.85" fill="#4d8ef5" stroke="#151515" stroke-width="0.6"/><circle cx="383.9" cy="293.2" r="1.85" fill="#4d8ef5" stroke="#151515" stroke-width="0.6"/><circle cx="386.8" cy="292.5" r="1.85" fill="#4d8ef5" stroke="#151515" stroke-width="0.6"/><circle cx="390.0" cy="294.7" r="1.85" fill="#4d8ef5" stroke="#151515" stroke-width="0.6"/><circle cx="393.1" cy="297.2" r="1.85" fill="#4d8ef5" stroke="#151515" stroke-width="0.6"/><circle cx="396.0" cy="296.6" r="1.85" fill="#4d8ef5" stroke="#151515" stroke-width="0.6"/><circle cx="399.2" cy="296.2" r="1.85" fill="#4d8ef5" stroke="#151515" stroke-width="0.6"/><circle cx="402.2" cy="297.2" r="1.85" fill="#4d8ef5" stroke="#151515" stroke-width="0.6"/><circle cx="405.4" cy="296.9" r="1.85" fill="#4d8ef5" stroke="#151515" stroke-width="0.6"/><circle cx="408.4" cy="292.2" r="1.85" fill="#4d8ef5" stroke="#151515" stroke-width="0.6"/><circle cx="411.6" cy="292.5" r="1.85" fill="#4d8ef5" stroke="#151515" stroke-width="0.6"/><circle cx="414.9" cy="294.7" r="1.85" fill="#4d8ef5" stroke="#151515" stroke-width="0.6"/><circle cx="417.9" cy="292.8" r="1.85" fill="#4d8ef5" stroke="#151515" stroke-width="0.6"/><circle cx="421.1" cy="286.4" r="1.85" fill="#4d8ef5" stroke="#151515" stroke-width="0.6"/><circle cx="424.1" cy="294.0" r="1.85" fill="#4d8ef5" stroke="#151515" stroke-width="0.6"/>
<line x1="247.6" x2="278.4" y1="343.2" y2="343.2" stroke="#333" stroke-width="1"/>
<polyline fill="none" points="278.4,343.2 278.6,344.5 278.9,345.7 279.1,346.8 279.4,347.8 279.6,348.8 279.9,349.6 280.1,350.4 280.4,351.1 280.6,351.8 280.9,352.4 281.1,352.9 281.4,353.5 281.6,353.9 281.9,354.3 282.1,354.7 282.4,355.1 282.6,355.4 282.9,355.7 283.1,355.9 283.4,356.2 283.6,356.4 283.9,356.6 284.1,356.8 284.4,356.9 284.6,357.1 284.9,357.2 285.1,357.3 285.4,357.4 285.6,357.5 285.9,357.6 286.1,357.7 286.4,357.8 286.6,357.8 286.9,357.9 287.1,357.9 287.4,357.9 287.6,358.0 287.9,358.0 288.1,358.0 288.4,358.0 288.6,358.1 288.9,358.1 289.1,358.1 289.4,358.1 289.6,358.1 289.9,358.1 290.1,358.1 290.4,358.1 290.6,358.1 290.9,358.0 291.1,358.0 291.4,358.0 291.6,358.0 291.9,358.0 292.1,358.0 292.4,358.0 292.6,357.9 292.9,357.9 293.1,357.9 293.4,357.9 293.6,357.9 293.9,357.8 294.1,357.8 294.4,357.8 294.6,357.8 294.9,357.8 295.1,357.7 295.4,357.7 295.6,357.7 295.9,357.7 296.1,357.7 296.4,357.6 296.6,357.6 296.9,357.6 297.1,357.6 297.4,357.6 297.6,357.5 297.9,357.5 298.1,357.5 298.4,357.5 298.6,357.5 298.8,357.4 299.1,357.4 299.3,357.4 299.6,357.4 299.8,357.4 300.1,357.3 300.3,357.3 300.6,357.3 300.8,357.3 301.1,357.3 301.3,357.3 301.6,357.2 301.8,357.2 302.1,357.2 302.3,357.2 302.6,357.2 302.8,357.2 303.1,357.1 303.3,357.1 303.6,357.1 303.8,357.1 304.1,357.1 304.3,357.1 304.6,357.1 304.8,357.0 305.1,357.0 305.3,357.0 305.6,357.0 305.8,357.0 306.1,357.0 306.3,357.0 306.6,356.9 306.8,356.9 307.1,356.9 307.3,356.9 307.6,356.9 307.8,356.9 308.1,356.9 308.3,356.9 308.6,356.8 308.8,356.8 309.1,356.8 309.3,356.8 309.6,356.8 309.8,356.8 310.1,356.8 310.3,356.8 310.6,356.8 310.8,356.8 311.1,356.7 311.3,356.7 311.6,356.7 311.8,356.7 312.1,356.7 312.3,356.7 312.6,356.7 312.8,356.7 313.1,356.7 313.3,356.7 313.6,356.7 313.8,356.6 314.1,356.6 314.3,356.6 314.6,356.6 314.8,356.6 315.1,356.6 315.3,356.6 315.6,356.6 315.8,356.6 316.1,356.6 316.3,356.6 316.6,356.6 316.8,356.6 317.1,356.6 317.3,356.5 317.6,356.5 317.8,356.5 318.1,356.5 318.3,356.5 318.6,356.5 318.8,356.5 319.0,356.5 319.3,356.5 319.5,356.5 319.8,356.5 320.0,356.5 320.3,356.5 320.5,356.5 320.8,356.5 321.0,356.5 321.3,356.5 321.5,356.5 321.8,356.4 322.0,356.4 322.3,356.4 322.5,356.4 322.8,356.4 323.0,356.4 323.3,356.4 323.5,356.4 323.8,356.4 324.0,356.4 324.3,356.4 324.5,356.4 324.8,356.4 325.0,356.4 325.3,356.4 325.5,356.4 325.8,356.4 326.0,356.4 326.3,356.4 326.5,356.4 326.8,356.4 327.0,356.4 327.3,356.4 327.5,356.4 327.8,356.4 328.0,356.3 328.3,356.3 328.5,356.3 328.8,356.3 329.0,356.3 329.3,356.3 329.5,356.3 329.8,356.3 330.0,356.3 330.3,356.3 330.5,356.3 330.8,356.3 331.0,356.3 331.3,356.3 331.5,356.3 331.8,356.3 332.0,356.3 332.3,356.3 332.5,356.3 332.8,356.3 333.0,356.3 333.3,356.3 333.5,356.3 333.8,356.3 334.0,356.3 334.3,356.3 334.5,356.3 334.8,356.3 335.0,356.3 335.3,356.3 335.5,356.3 335.8,356.3 336.0,356.3 336.3,356.3 336.5,356.3 336.8,356.3 337.0,356.3 337.3,356.3 337.5,356.3 337.8,356.3 338.0,356.3 338.3,356.3 338.5,356.3 338.8,356.3 339.0,356.2 339.2,356.2 339.5,356.2 339.7,356.2 340.0,356.2 340.2,356.2 340.5,356.2 340.7,356.2 341.0,356.2 341.2,356.2 341.5,356.2 341.7,356.2 342.0,356.2 342.2,356.2 342.5,356.2 342.7,356.2 343.0,356.2 343.2,356.2 343.5,356.2 343.7,356.2 344.0,356.2 344.2,356.2 344.5,356.2 344.7,356.2 345.0,356.2 345.2,356.2 345.5,356.2 345.7,356.2 346.0,356.2 346.2,356.2 346.5,356.2 346.7,356.2 347.0,356.2 347.2,356.2 347.5,356.2 347.7,356.2 348.0,356.2 348.2,356.2 348.5,356.2 348.7,356.2 349.0,356.2 349.2,356.2 349.5,356.2 349.7,356.2 350.0,356.2 350.2,356.2 350.5,356.2 350.7,356.2 351.0,356.2 351.2,356.2 351.5,356.2 351.7,356.2 352.0,356.2 352.2,356.2 352.5,356.2 352.7,356.2 353.0,356.2 353.2,356.2 353.5,356.2 353.7,356.2 354.0,356.2 354.2,356.2 354.5,356.2 354.7,356.2 355.0,356.2 355.2,356.2 355.5,356.2 355.7,356.2 356.0,356.2 356.2,356.2 356.5,356.2 356.7,356.2 357.0,356.2 357.2,356.2 357.5,356.2 357.7,356.2 358.0,356.2 358.2,356.2 358.5,356.2 358.7,356.2 359.0,356.2 359.2,356.2 359.4,356.2 359.7,356.2 359.9,356.2 360.2,356.2 360.4,356.2 360.7,356.2 360.9,356.2 361.2,356.2 361.4,356.2 361.7,356.2 361.9,356.2 362.2,356.2 362.4,356.2 362.7,356.2 362.9,356.2 363.2,356.2 363.4,356.2 363.7,356.2 363.9,356.2 364.2,356.2 364.4,356.2 364.7,356.2 364.9,356.2 365.2,356.2 365.4,356.2 365.7,356.2 365.9,356.2 366.2,356.2 366.4,356.2 366.7,356.2 366.9,356.2 367.2,356.2 367.4,356.2 367.7,356.2 367.9,356.2 368.2,356.2 368.4,356.2 368.7,356.2 368.9,356.2 369.2,356.2 369.4,356.2 369.7,356.2 369.9,356.2 370.2,356.2 370.4,356.2 370.7,356.2 370.9,356.2 371.2,356.2 371.4,356.2 371.7,356.2 371.9,356.2 372.2,356.2 372.4,356.2 372.7,356.2 372.9,356.2 373.2,356.2 373.4,356.2 373.7,356.2 373.9,356.2 374.2,356.2 374.4,356.2 374.7,356.2 374.9,356.2 375.2,356.2 375.4,356.2 375.7,356.2 375.9,356.2 376.2,356.2 376.4,356.2 376.7,356.2 376.9,356.2 377.2,356.2 377.4,356.2 377.7,356.2 377.9,356.2 378.2,356.2 378.4,356.2 378.7,356.2 378.9,356.2 379.2,356.2 379.4,356.2 379.6,356.2 379.9,356.2 380.1,356.2 380.4,356.2 380.6,356.2 380.9,356.2 381.1,356.2 381.4,356.2 381.6,356.2 381.9,356.2 382.1,356.2 382.4,356.2 382.6,356.2 382.9,356.2 383.1,356.2 383.4,356.2 383.6,356.2 383.9,356.2 384.1,356.2 384.4,356.2 384.6,356.2 384.9,356.2 385.1,356.2 385.4,356.2 385.6,356.2 385.9,356.2 386.1,356.2 386.4,356.2 386.6,356.2 386.9,356.2 387.1,356.2 387.4,356.2 387.6,356.2 387.9,356.2 388.1,356.2 388.4,356.2 388.6,356.2 388.9,356.2 389.1,356.2 389.4,356.2 389.6,356.2 389.9,356.2 390.1,356.2 390.4,356.2 390.6,356.2 390.9,356.2 391.1,356.2 391.4,356.2 391.6,356.2 391.9,356.2 392.1,356.2 392.4,356.2 392.6,356.2 392.9,356.2 393.1,356.2 393.4,356.2 393.6,356.2 393.9,356.2 394.1,356.2 394.4,356.2 394.6,356.2 394.9,356.2 395.1,356.2 395.4,356.2 395.6,356.2 395.9,356.2 396.1,356.2 396.4,356.2 396.6,356.2 396.9,356.2 397.1,356.2 397.4,356.2 397.6,356.2 397.9,356.2 398.1,356.2 398.4,356.2 398.6,356.2 398.9,356.2 399.1,356.2 399.4,356.2 399.6,356.2 399.8,356.2 400.1,356.2 400.3,356.2 400.6,356.2 400.8,356.2 401.1,356.2 401.3,356.2 401.6,356.2 401.8,356.2 402.1,356.2 402.3,356.2 402.6,356.2 402.8,356.2 403.1,356.2 403.3,356.2 403.6,356.2 403.8,356.2 404.1,356.2 404.3,356.2 404.6,356.2 404.8,356.2 405.1,356.2 405.3,356.2 405.6,356.2 405.8,356.2 406.1,356.2 406.3,356.2 406.6,356.2 406.8,356.2 407.1,356.2 407.3,356.2 407.6,356.2 407.8,356.2 408.1,356.2 408.3,356.2 408.6,356.2 408.8,356.2 409.1,356.2 409.3,356.2 409.6,356.2 409.8,356.2 410.1,356.2 410.3,356.2 410.6,356.2 410.8,356.2 411.1,356.2 411.3,356.2 411.6,356.2 411.8,356.2 412.1,356.2 412.3,356.2 412.6,356.2 412.8,356.2 413.1,356.2 413.3,356.2 413.6,356.2 413.8,356.2 414.1,356.2 414.3,356.2 414.6,356.2 414.8,356.2 415.1,356.2 415.3,356.2 415.6,356.2 415.8,356.2 416.1,356.2 416.3,356.2 416.6,356.2 416.8,356.2 417.1,356.2 417.3,356.2 417.6,356.2 417.8,356.2 418.1,356.2 418.3,356.2 418.6,356.2 418.8,356.2 419.1,356.2 419.3,356.2 419.6,356.2 419.8,356.2 420.0,356.2 420.3,356.2 420.5,356.2 420.8,356.2 421.0,356.2 421.3,356.2 421.5,356.2 421.8,356.2 422.0,356.2 422.3,356.2 422.5,356.2 422.8,356.2 423.0,356.2 423.3,356.2 423.5,356.2 423.8,356.2 424.0,356.2 424.3,356.2 424.5,356.2 424.8,356.2 425.0,356.2 425.3,356.2 425.5,356.2 425.8,356.2 426.0,356.2 426.3,356.2 426.5,356.2 426.8,356.2 427.0,356.2 427.3,356.2 427.5,356.2 427.8,356.2" stroke="#555" stroke-width="1"/>
<path d="M253.5 337.5V343.1M252.1 337.5h2.8M252.1 343.1h2.8" stroke="#333" stroke-width="0.75" fill="none"/><path d="M259.9 344.1V350.3M258.5 344.1h2.8M258.5 350.3h2.8" stroke="#333" stroke-width="0.75" fill="none"/><path d="M265.7 341.2V346.2M264.3 341.2h2.8M264.3 346.2h2.8" stroke="#333" stroke-width="0.75" fill="none"/><path d="M267.6 344.4V349.4M266.2 344.4h2.8M266.2 349.4h2.8" stroke="#333" stroke-width="0.75" fill="none"/><path d="M269.1 341.5V347.9M267.7 341.5h2.8M267.7 347.9h2.8" stroke="#333" stroke-width="0.75" fill="none"/><path d="M270.5 339.6V344.8M269.1 339.6h2.8M269.1 344.8h2.8" stroke="#333" stroke-width="0.75" fill="none"/><path d="M272.0 345.6V350.6M270.6 345.6h2.8M270.6 350.6h2.8" stroke="#333" stroke-width="0.75" fill="none"/><path d="M273.5 341.9V347.5M272.1 341.9h2.8M272.1 347.5h2.8" stroke="#333" stroke-width="0.75" fill="none"/><path d="M275.2 345.2V350.0M273.8 345.2h2.8M273.8 350.0h2.8" stroke="#333" stroke-width="0.75" fill="none"/><path d="M276.8 342.3V348.5M275.4 342.3h2.8M275.4 348.5h2.8" stroke="#333" stroke-width="0.75" fill="none"/><path d="M278.3 341.8V347.6M276.9 341.8h2.8M276.9 347.6h2.8" stroke="#333" stroke-width="0.75" fill="none"/><path d="M279.6 352.6V358.2M278.2 352.6h2.8M278.2 358.2h2.8" stroke="#333" stroke-width="0.75" fill="none"/><path d="M281.2 346.2V351.0M279.8 346.2h2.8M279.8 351.0h2.8" stroke="#333" stroke-width="0.75" fill="none"/><path d="M282.7 355.3V361.3M281.3 355.3h2.8M281.3 361.3h2.8" stroke="#333" stroke-width="0.75" fill="none"/><path d="M284.4 360.6V366.8M283.0 360.6h2.8M283.0 366.8h2.8" stroke="#333" stroke-width="0.75" fill="none"/><path d="M285.9 356.0V361.8M284.5 356.0h2.8M284.5 361.8h2.8" stroke="#333" stroke-width="0.75" fill="none"/><path d="M287.3 358.1V364.3M285.9 358.1h2.8M285.9 364.3h2.8" stroke="#333" stroke-width="0.75" fill="none"/><path d="M288.8 354.2V358.6M287.4 354.2h2.8M287.4 358.6h2.8" stroke="#333" stroke-width="0.75" fill="none"/><path d="M290.5 359.8V365.6M289.1 359.8h2.8M289.1 365.6h2.8" stroke="#333" stroke-width="0.75" fill="none"/><path d="M292.0 356.7V362.7M290.6 356.7h2.8M290.6 362.7h2.8" stroke="#333" stroke-width="0.75" fill="none"/><path d="M294.9 356.7V361.9M293.5 356.7h2.8M293.5 361.9h2.8" stroke="#333" stroke-width="0.75" fill="none"/><path d="M296.4 365.9V370.3M295.0 365.9h2.8M295.0 370.3h2.8" stroke="#333" stroke-width="0.75" fill="none"/><path d="M297.8 358.1V363.5M296.4 358.1h2.8M296.4 363.5h2.8" stroke="#333" stroke-width="0.75" fill="none"/><path d="M299.3 360.8V365.6M297.9 360.8h2.8M297.9 365.6h2.8" stroke="#333" stroke-width="0.75" fill="none"/><path d="M301.2 356.2V360.4M299.8 356.2h2.8M299.8 360.4h2.8" stroke="#333" stroke-width="0.75" fill="none"/><path d="M302.7 357.7V363.9M301.3 357.7h2.8M301.3 363.9h2.8" stroke="#333" stroke-width="0.75" fill="none"/><path d="M305.6 357.8V363.8M304.2 357.8h2.8M304.2 363.8h2.8" stroke="#333" stroke-width="0.75" fill="none"/><path d="M308.5 352.1V357.7M307.1 352.1h2.8M307.1 357.7h2.8" stroke="#333" stroke-width="0.75" fill="none"/><path d="M311.9 353.9V359.7M310.5 353.9h2.8M310.5 359.7h2.8" stroke="#333" stroke-width="0.75" fill="none"/><path d="M314.8 356.9V362.5M313.4 356.9h2.8M313.4 362.5h2.8" stroke="#333" stroke-width="0.75" fill="none"/><path d="M317.7 350.9V356.1M316.3 350.9h2.8M316.3 356.1h2.8" stroke="#333" stroke-width="0.75" fill="none"/><path d="M320.9 359.6V364.0M319.5 359.6h2.8M319.5 364.0h2.8" stroke="#333" stroke-width="0.75" fill="none"/><path d="M323.8 348.9V353.7M322.4 348.9h2.8M322.4 353.7h2.8" stroke="#333" stroke-width="0.75" fill="none"/><path d="M327.0 349.0V354.2M325.6 349.0h2.8M325.6 354.2h2.8" stroke="#333" stroke-width="0.75" fill="none"/><path d="M330.1 355.6V361.0M328.7 355.6h2.8M328.7 361.0h2.8" stroke="#333" stroke-width="0.75" fill="none"/><path d="M333.0 345.7V350.5M331.6 345.7h2.8M331.6 350.5h2.8" stroke="#333" stroke-width="0.75" fill="none"/><path d="M336.2 350.2V354.6M334.8 350.2h2.8M334.8 354.6h2.8" stroke="#333" stroke-width="0.75" fill="none"/><path d="M339.2 356.4V361.4M337.8 356.4h2.8M337.8 361.4h2.8" stroke="#333" stroke-width="0.75" fill="none"/><path d="M342.3 351.7V356.3M340.9 351.7h2.8M340.9 356.3h2.8" stroke="#333" stroke-width="0.75" fill="none"/><path d="M345.5 353.5V359.7M344.1 353.5h2.8M344.1 359.7h2.8" stroke="#333" stroke-width="0.75" fill="none"/><path d="M348.6 351.7V356.3M347.2 351.7h2.8M347.2 356.3h2.8" stroke="#333" stroke-width="0.75" fill="none"/><path d="M351.8 347.8V352.8M350.4 347.8h2.8M350.4 352.8h2.8" stroke="#333" stroke-width="0.75" fill="none"/><path d="M354.7 353.5V358.9M353.3 353.5h2.8M353.3 358.9h2.8" stroke="#333" stroke-width="0.75" fill="none"/><path d="M357.6 351.6V356.4M356.2 351.6h2.8M356.2 356.4h2.8" stroke="#333" stroke-width="0.75" fill="none"/><path d="M360.8 350.2V355.4M359.4 350.2h2.8M359.4 355.4h2.8" stroke="#333" stroke-width="0.75" fill="none"/><path d="M363.9 353.0V358.4M362.5 353.0h2.8M362.5 358.4h2.8" stroke="#333" stroke-width="0.75" fill="none"/><path d="M366.8 343.3V347.7M365.4 343.3h2.8M365.4 347.7h2.8" stroke="#333" stroke-width="0.75" fill="none"/><path d="M369.7 350.1V356.3M368.3 350.1h2.8M368.3 356.3h2.8" stroke="#333" stroke-width="0.75" fill="none"/><path d="M373.2 351.0V356.4M371.8 351.0h2.8M371.8 356.4h2.8" stroke="#333" stroke-width="0.75" fill="none"/><path d="M376.2 357.5V362.1M374.8 357.5h2.8M374.8 362.1h2.8" stroke="#333" stroke-width="0.75" fill="none"/><path d="M379.2 359.6V365.8M377.8 359.6h2.8M377.8 365.8h2.8" stroke="#333" stroke-width="0.75" fill="none"/><path d="M382.2 348.0V352.6M380.8 348.0h2.8M380.8 352.6h2.8" stroke="#333" stroke-width="0.75" fill="none"/><path d="M385.4 358.1V363.9M384.0 358.1h2.8M384.0 363.9h2.8" stroke="#333" stroke-width="0.75" fill="none"/><path d="M388.6 363.1V368.3M387.2 363.1h2.8M387.2 368.3h2.8" stroke="#333" stroke-width="0.75" fill="none"/><path d="M391.6 354.2V359.0M390.2 354.2h2.8M390.2 359.0h2.8" stroke="#333" stroke-width="0.75" fill="none"/><path d="M394.6 347.1V352.1M393.2 347.1h2.8M393.2 352.1h2.8" stroke="#333" stroke-width="0.75" fill="none"/><path d="M397.8 346.3V351.5M396.4 346.3h2.8M396.4 351.5h2.8" stroke="#333" stroke-width="0.75" fill="none"/><path d="M400.4 355.1V360.1M399.0 355.1h2.8M399.0 360.1h2.8" stroke="#333" stroke-width="0.75" fill="none"/><path d="M403.6 355.7V360.5M402.2 355.7h2.8M402.2 360.5h2.8" stroke="#333" stroke-width="0.75" fill="none"/><path d="M406.5 343.5V348.5M405.1 343.5h2.8M405.1 348.5h2.8" stroke="#333" stroke-width="0.75" fill="none"/><path d="M409.5 349.2V354.4M408.1 349.2h2.8M408.1 354.4h2.8" stroke="#333" stroke-width="0.75" fill="none"/><path d="M412.7 346.5V352.1M411.3 346.5h2.8M411.3 352.1h2.8" stroke="#333" stroke-width="0.75" fill="none"/><path d="M416.0 351.4V356.0M414.6 351.4h2.8M414.6 356.0h2.8" stroke="#333" stroke-width="0.75" fill="none"/><path d="M418.9 360.5V364.9M417.5 360.5h2.8M417.5 364.9h2.8" stroke="#333" stroke-width="0.75" fill="none"/><path d="M422.2 354.6V360.6M420.8 354.6h2.8M420.8 360.6h2.8" stroke="#333" stroke-width="0.75" fill="none"/><path d="M425.2 358.3V362.7M423.8 358.3h2.8M423.8 362.7h2.8" stroke="#333" stroke-width="0.75" fill="none"/><path d="M428.1 358.5V364.1M426.7 358.5h2.8M426.7 364.1h2.8" stroke="#333" stroke-width="0.75" fill="none"/><circle cx="253.5" cy="340.3" r="1.85" fill="#8cc4f8" stroke="#151515" stroke-width="0.6"/><circle cx="259.9" cy="347.2" r="1.85" fill="#8cc4f8" stroke="#151515" stroke-width="0.6"/><circle cx="265.7" cy="343.7" r="1.85" fill="#8cc4f8" stroke="#151515" stroke-width="0.6"/><circle cx="267.6" cy="346.9" r="1.85" fill="#8cc4f8" stroke="#151515" stroke-width="0.6"/><circle cx="269.1" cy="344.7" r="1.85" fill="#8cc4f8" stroke="#151515" stroke-width="0.6"/><circle cx="270.5" cy="342.2" r="1.85" fill="#8cc4f8" stroke="#151515" stroke-width="0.6"/><circle cx="272.0" cy="348.1" r="1.85" fill="#8cc4f8" stroke="#151515" stroke-width="0.6"/><circle cx="273.5" cy="344.7" r="1.85" fill="#8cc4f8" stroke="#151515" stroke-width="0.6"/><circle cx="275.2" cy="347.6" r="1.85" fill="#8cc4f8" stroke="#151515" stroke-width="0.6"/><circle cx="276.8" cy="345.4" r="1.85" fill="#8cc4f8" stroke="#151515" stroke-width="0.6"/><circle cx="278.3" cy="344.7" r="1.85" fill="#8cc4f8" stroke="#151515" stroke-width="0.6"/><circle cx="279.6" cy="355.4" r="1.85" fill="#8cc4f8" stroke="#151515" stroke-width="0.6"/><circle cx="281.2" cy="348.6" r="1.85" fill="#8cc4f8" stroke="#151515" stroke-width="0.6"/><circle cx="282.7" cy="358.3" r="1.85" fill="#8cc4f8" stroke="#151515" stroke-width="0.6"/><circle cx="284.4" cy="363.7" r="1.85" fill="#8cc4f8" stroke="#151515" stroke-width="0.6"/><circle cx="285.9" cy="358.9" r="1.85" fill="#8cc4f8" stroke="#151515" stroke-width="0.6"/><circle cx="287.3" cy="361.2" r="1.85" fill="#8cc4f8" stroke="#151515" stroke-width="0.6"/><circle cx="288.8" cy="356.4" r="1.85" fill="#8cc4f8" stroke="#151515" stroke-width="0.6"/><circle cx="290.5" cy="362.7" r="1.85" fill="#8cc4f8" stroke="#151515" stroke-width="0.6"/><circle cx="292.0" cy="359.7" r="1.85" fill="#8cc4f8" stroke="#151515" stroke-width="0.6"/><circle cx="294.9" cy="359.3" r="1.85" fill="#8cc4f8" stroke="#151515" stroke-width="0.6"/><circle cx="296.4" cy="368.1" r="1.85" fill="#8cc4f8" stroke="#151515" stroke-width="0.6"/><circle cx="297.8" cy="360.8" r="1.85" fill="#8cc4f8" stroke="#151515" stroke-width="0.6"/><circle cx="299.3" cy="363.2" r="1.85" fill="#8cc4f8" stroke="#151515" stroke-width="0.6"/><circle cx="301.2" cy="358.3" r="1.85" fill="#8cc4f8" stroke="#151515" stroke-width="0.6"/><circle cx="302.7" cy="360.8" r="1.85" fill="#8cc4f8" stroke="#151515" stroke-width="0.6"/><circle cx="305.6" cy="360.8" r="1.85" fill="#8cc4f8" stroke="#151515" stroke-width="0.6"/><circle cx="308.5" cy="354.9" r="1.85" fill="#8cc4f8" stroke="#151515" stroke-width="0.6"/><circle cx="311.9" cy="356.8" r="1.85" fill="#8cc4f8" stroke="#151515" stroke-width="0.6"/><circle cx="314.8" cy="359.7" r="1.85" fill="#8cc4f8" stroke="#151515" stroke-width="0.6"/><circle cx="317.7" cy="353.5" r="1.85" fill="#8cc4f8" stroke="#151515" stroke-width="0.6"/><circle cx="320.9" cy="361.8" r="1.85" fill="#8cc4f8" stroke="#151515" stroke-width="0.6"/><circle cx="323.8" cy="351.3" r="1.85" fill="#8cc4f8" stroke="#151515" stroke-width="0.6"/><circle cx="327.0" cy="351.6" r="1.85" fill="#8cc4f8" stroke="#151515" stroke-width="0.6"/><circle cx="330.1" cy="358.3" r="1.85" fill="#8cc4f8" stroke="#151515" stroke-width="0.6"/><circle cx="333.0" cy="348.1" r="1.85" fill="#8cc4f8" stroke="#151515" stroke-width="0.6"/><circle cx="336.2" cy="352.4" r="1.85" fill="#8cc4f8" stroke="#151515" stroke-width="0.6"/><circle cx="339.2" cy="358.9" r="1.85" fill="#8cc4f8" stroke="#151515" stroke-width="0.6"/><circle cx="342.3" cy="354.0" r="1.85" fill="#8cc4f8" stroke="#151515" stroke-width="0.6"/><circle cx="345.5" cy="356.6" r="1.85" fill="#8cc4f8" stroke="#151515" stroke-width="0.6"/><circle cx="348.6" cy="354.0" r="1.85" fill="#8cc4f8" stroke="#151515" stroke-width="0.6"/><circle cx="351.8" cy="350.3" r="1.85" fill="#8cc4f8" stroke="#151515" stroke-width="0.6"/><circle cx="354.7" cy="356.2" r="1.85" fill="#8cc4f8" stroke="#151515" stroke-width="0.6"/><circle cx="357.6" cy="354.0" r="1.85" fill="#8cc4f8" stroke="#151515" stroke-width="0.6"/><circle cx="360.8" cy="352.8" r="1.85" fill="#8cc4f8" stroke="#151515" stroke-width="0.6"/><circle cx="363.9" cy="355.7" r="1.85" fill="#8cc4f8" stroke="#151515" stroke-width="0.6"/><circle cx="366.8" cy="345.5" r="1.85" fill="#8cc4f8" stroke="#151515" stroke-width="0.6"/><circle cx="369.7" cy="353.2" r="1.85" fill="#8cc4f8" stroke="#151515" stroke-width="0.6"/><circle cx="373.2" cy="353.7" r="1.85" fill="#8cc4f8" stroke="#151515" stroke-width="0.6"/><circle cx="376.2" cy="359.8" r="1.85" fill="#8cc4f8" stroke="#151515" stroke-width="0.6"/><circle cx="379.2" cy="362.7" r="1.85" fill="#8cc4f8" stroke="#151515" stroke-width="0.6"/><circle cx="382.2" cy="350.3" r="1.85" fill="#8cc4f8" stroke="#151515" stroke-width="0.6"/><circle cx="385.4" cy="361.0" r="1.85" fill="#8cc4f8" stroke="#151515" stroke-width="0.6"/><circle cx="388.6" cy="365.7" r="1.85" fill="#8cc4f8" stroke="#151515" stroke-width="0.6"/><circle cx="391.6" cy="356.6" r="1.85" fill="#8cc4f8" stroke="#151515" stroke-width="0.6"/><circle cx="394.6" cy="349.6" r="1.85" fill="#8cc4f8" stroke="#151515" stroke-width="0.6"/><circle cx="397.8" cy="348.9" r="1.85" fill="#8cc4f8" stroke="#151515" stroke-width="0.6"/><circle cx="400.4" cy="357.6" r="1.85" fill="#8cc4f8" stroke="#151515" stroke-width="0.6"/><circle cx="403.6" cy="358.1" r="1.85" fill="#8cc4f8" stroke="#151515" stroke-width="0.6"/><circle cx="406.5" cy="346.0" r="1.85" fill="#8cc4f8" stroke="#151515" stroke-width="0.6"/><circle cx="409.5" cy="351.8" r="1.85" fill="#8cc4f8" stroke="#151515" stroke-width="0.6"/><circle cx="412.7" cy="349.3" r="1.85" fill="#8cc4f8" stroke="#151515" stroke-width="0.6"/><circle cx="416.0" cy="353.7" r="1.85" fill="#8cc4f8" stroke="#151515" stroke-width="0.6"/><circle cx="418.9" cy="362.7" r="1.85" fill="#8cc4f8" stroke="#151515" stroke-width="0.6"/><circle cx="422.2" cy="357.6" r="1.85" fill="#8cc4f8" stroke="#151515" stroke-width="0.6"/><circle cx="425.2" cy="360.5" r="1.85" fill="#8cc4f8" stroke="#151515" stroke-width="0.6"/><circle cx="428.1" cy="361.3" r="1.85" fill="#8cc4f8" stroke="#151515" stroke-width="0.6"/>
<line x1="247.6" x2="278.4" y1="406.4" y2="406.4" stroke="#333" stroke-width="1"/>
<polyline fill="none" points="278.4,406.4 278.6,408.1 278.9,409.7 279.1,411.1 279.4,412.3 279.6,413.4 279.9,414.3 280.1,415.2 280.4,415.9 280.6,416.6 280.9,417.1 281.1,417.6 281.4,418.1 281.6,418.4 281.9,418.8 282.1,419.0 282.4,419.2 282.6,419.4 282.9,419.6 283.1,419.7 283.4,419.8 283.6,419.8 283.9,419.9 284.1,419.9 284.4,419.9 284.6,419.9 284.9,419.9 285.1,419.8 285.4,419.8 285.6,419.7 285.9,419.6 286.1,419.6 286.4,419.5 286.6,419.4 286.9,419.3 287.1,419.2 287.4,419.1 287.6,419.0 287.9,418.9 288.1,418.8 288.4,418.7 288.6,418.6 288.9,418.4 289.1,418.3 289.4,418.2 289.6,418.1 289.9,418.0 290.1,417.9 290.4,417.7 290.6,417.6 290.9,417.5 291.1,417.4 291.4,417.3 291.6,417.2 291.9,417.1 292.1,417.0 292.4,416.9 292.6,416.7 292.9,416.6 293.1,416.5 293.4,416.4 293.6,416.3 293.9,416.2 294.1,416.1 294.4,416.0 294.6,415.9 294.9,415.8 295.1,415.7 295.4,415.6 295.6,415.6 295.9,415.5 296.1,415.4 296.4,415.3 296.6,415.2 296.9,415.1 297.1,415.0 297.4,414.9 297.6,414.9 297.9,414.8 298.1,414.7 298.4,414.6 298.6,414.5 298.8,414.5 299.1,414.4 299.3,414.3 299.6,414.3 299.8,414.2 300.1,414.1 300.3,414.0 300.6,414.0 300.8,413.9 301.1,413.8 301.3,413.8 301.6,413.7 301.8,413.6 302.1,413.6 302.3,413.5 302.6,413.5 302.8,413.4 303.1,413.4 303.3,413.3 303.6,413.2 303.8,413.2 304.1,413.1 304.3,413.1 304.6,413.0 304.8,413.0 305.1,412.9 305.3,412.9 305.6,412.8 305.8,412.8 306.1,412.7 306.3,412.7 306.6,412.6 306.8,412.6 307.1,412.5 307.3,412.5 307.6,412.5 307.8,412.4 308.1,412.4 308.3,412.3 308.6,412.3 308.8,412.2 309.1,412.2 309.3,412.2 309.6,412.1 309.8,412.1 310.1,412.1 310.3,412.0 310.6,412.0 310.8,412.0 311.1,411.9 311.3,411.9 311.6,411.8 311.8,411.8 312.1,411.8 312.3,411.8 312.6,411.7 312.8,411.7 313.1,411.7 313.3,411.6 313.6,411.6 313.8,411.6 314.1,411.5 314.3,411.5 314.6,411.5 314.8,411.5 315.1,411.4 315.3,411.4 315.6,411.4 315.8,411.4 316.1,411.3 316.3,411.3 316.6,411.3 316.8,411.3 317.1,411.2 317.3,411.2 317.6,411.2 317.8,411.2 318.1,411.1 318.3,411.1 318.6,411.1 318.8,411.1 319.0,411.1 319.3,411.0 319.5,411.0 319.8,411.0 320.0,411.0 320.3,411.0 320.5,410.9 320.8,410.9 321.0,410.9 321.3,410.9 321.5,410.9 321.8,410.9 322.0,410.8 322.3,410.8 322.5,410.8 322.8,410.8 323.0,410.8 323.3,410.8 323.5,410.7 323.8,410.7 324.0,410.7 324.3,410.7 324.5,410.7 324.8,410.7 325.0,410.7 325.3,410.6 325.5,410.6 325.8,410.6 326.0,410.6 326.3,410.6 326.5,410.6 326.8,410.6 327.0,410.6 327.3,410.5 327.5,410.5 327.8,410.5 328.0,410.5 328.3,410.5 328.5,410.5 328.8,410.5 329.0,410.5 329.3,410.5 329.5,410.4 329.8,410.4 330.0,410.4 330.3,410.4 330.5,410.4 330.8,410.4 331.0,410.4 331.3,410.4 331.5,410.4 331.8,410.4 332.0,410.3 332.3,410.3 332.5,410.3 332.8,410.3 333.0,410.3 333.3,410.3 333.5,410.3 333.8,410.3 334.0,410.3 334.3,410.3 334.5,410.3 334.8,410.3 335.0,410.2 335.3,410.2 335.5,410.2 335.8,410.2 336.0,410.2 336.3,410.2 336.5,410.2 336.8,410.2 337.0,410.2 337.3,410.2 337.5,410.2 337.8,410.2 338.0,410.2 338.3,410.2 338.5,410.2 338.8,410.2 339.0,410.1 339.2,410.1 339.5,410.1 339.7,410.1 340.0,410.1 340.2,410.1 340.5,410.1 340.7,410.1 341.0,410.1 341.2,410.1 341.5,410.1 341.7,410.1 342.0,410.1 342.2,410.1 342.5,410.1 342.7,410.1 343.0,410.1 343.2,410.1 343.5,410.1 343.7,410.1 344.0,410.1 344.2,410.0 344.5,410.0 344.7,410.0 345.0,410.0 345.2,410.0 345.5,410.0 345.7,410.0 346.0,410.0 346.2,410.0 346.5,410.0 346.7,410.0 347.0,410.0 347.2,410.0 347.5,410.0 347.7,410.0 348.0,410.0 348.2,410.0 348.5,410.0 348.7,410.0 349.0,410.0 349.2,410.0 349.5,410.0 349.7,410.0 350.0,410.0 350.2,410.0 350.5,410.0 350.7,410.0 351.0,410.0 351.2,410.0 351.5,410.0 351.7,410.0 352.0,410.0 352.2,409.9 352.5,409.9 352.7,409.9 353.0,409.9 353.2,409.9 353.5,409.9 353.7,409.9 354.0,409.9 354.2,409.9 354.5,409.9 354.7,409.9 355.0,409.9 355.2,409.9 355.5,409.9 355.7,409.9 356.0,409.9 356.2,409.9 356.5,409.9 356.7,409.9 357.0,409.9 357.2,409.9 357.5,409.9 357.7,409.9 358.0,409.9 358.2,409.9 358.5,409.9 358.7,409.9 359.0,409.9 359.2,409.9 359.4,409.9 359.7,409.9 359.9,409.9 360.2,409.9 360.4,409.9 360.7,409.9 360.9,409.9 361.2,409.9 361.4,409.9 361.7,409.9 361.9,409.9 362.2,409.9 362.4,409.9 362.7,409.9 362.9,409.9 363.2,409.9 363.4,409.9 363.7,409.9 363.9,409.9 364.2,409.9 364.4,409.9 364.7,409.9 364.9,409.9 365.2,409.9 365.4,409.9 365.7,409.9 365.9,409.9 366.2,409.9 366.4,409.9 366.7,409.9 366.9,409.9 367.2,409.9 367.4,409.9 367.7,409.9 367.9,409.9 368.2,409.9 368.4,409.9 368.7,409.9 368.9,409.9 369.2,409.9 369.4,409.9 369.7,409.8 369.9,409.8 370.2,409.8 370.4,409.8 370.7,409.8 370.9,409.8 371.2,409.8 371.4,409.8 371.7,409.8 371.9,409.8 372.2,409.8 372.4,409.8 372.7,409.8 372.9,409.8 373.2,409.8 373.4,409.8 373.7,409.8 373.9,409.8 374.2,409.8 374.4,409.8 374.7,409.8 374.9,409.8 375.2,409.8 375.4,409.8 375.7,409.8 375.9,409.8 376.2,409.8 376.4,409.8 376.7,409.8 376.9,409.8 377.2,409.8 377.4,409.8 377.7,409.8 377.9,409.8 378.2,409.8 378.4,409.8 378.7,409.8 378.9,409.8 379.2,409.8 379.4,409.8 379.6,409.8 379.9,409.8 380.1,409.8 380.4,409.8 380.6,409.8 380.9,409.8 381.1,409.8 381.4,409.8 381.6,409.8 381.9,409.8 382.1,409.8 382.4,409.8 382.6,409.8 382.9,409.8 383.1,409.8 383.4,409.8 383.6,409.8 383.9,409.8 384.1,409.8 384.4,409.8 384.6,409.8 384.9,409.8 385.1,409.8 385.4,409.8 385.6,409.8 385.9,409.8 386.1,409.8 386.4,409.8 386.6,409.8 386.9,409.8 387.1,409.8 387.4,409.8 387.6,409.8 387.9,409.8 388.1,409.8 388.4,409.8 388.6,409.8 388.9,409.8 389.1,409.8 389.4,409.8 389.6,409.8 389.9,409.8 390.1,409.8 390.4,409.8 390.6,409.8 390.9,409.8 391.1,409.8 391.4,409.8 391.6,409.8 391.9,409.8 392.1,409.8 392.4,409.8 392.6,409.8 392.9,409.8 393.1,409.8 393.4,409.8 393.6,409.8 393.9,409.8 394.1,409.8 394.4,409.8 394.6,409.8 394.9,409.8 395.1,409.8 395.4,409.8 395.6,409.8 395.9,409.8 396.1,409.8 396.4,409.8 396.6,409.8 396.9,409.8 397.1,409.8 397.4,409.8 397.6,409.8 397.9,409.8 398.1,409.8 398.4,409.8 398.6,409.8 398.9,409.8 399.1,409.8 399.4,409.8 399.6,409.8 399.8,409.8 400.1,409.8 400.3,409.8 400.6,409.8 400.8,409.8 401.1,409.8 401.3,409.8 401.6,409.8 401.8,409.8 402.1,409.8 402.3,409.8 402.6,409.8 402.8,409.8 403.1,409.8 403.3,409.8 403.6,409.8 403.8,409.8 404.1,409.8 404.3,409.8 404.6,409.8 404.8,409.8 405.1,409.8 405.3,409.8 405.6,409.8 405.8,409.8 406.1,409.8 406.3,409.8 406.6,409.8 406.8,409.8 407.1,409.8 407.3,409.8 407.6,409.8 407.8,409.8 408.1,409.8 408.3,409.8 408.6,409.8 408.8,409.8 409.1,409.8 409.3,409.8 409.6,409.8 409.8,409.8 410.1,409.8 410.3,409.8 410.6,409.8 410.8,409.8 411.1,409.8 411.3,409.8 411.6,409.8 411.8,409.8 412.1,409.8 412.3,409.8 412.6,409.8 412.8,409.8 413.1,409.8 413.3,409.8 413.6,409.8 413.8,409.8 414.1,409.8 414.3,409.8 414.6,409.8 414.8,409.8 415.1,409.8 415.3,409.8 415.6,409.8 415.8,409.8 416.1,409.8 416.3,409.8 416.6,409.8 416.8,409.8 417.1,409.8 417.3,409.8 417.6,409.8 417.8,409.8 418.1,409.8 418.3,409.8 418.6,409.8 418.8,409.8 419.1,409.8 419.3,409.8 419.6,409.8 419.8,409.8 420.0,409.8 420.3,409.8 420.5,409.8 420.8,409.8 421.0,409.8 421.3,409.8 421.5,409.8 421.8,409.8 422.0,409.8 422.3,409.8 422.5,409.8 422.8,409.8 423.0,409.8 423.3,409.8 423.5,409.8 423.8,409.8 424.0,409.8 424.3,409.8 424.5,409.8 424.8,409.8 425.0,409.8 425.3,409.8 425.5,409.8 425.8,409.8 426.0,409.8 426.3,409.8 426.5,409.8 426.8,409.8 427.0,409.8 427.3,409.8 427.5,409.8 427.8,409.8" stroke="#555" stroke-width="1"/>
<path d="M253.0 400.8V407.0M251.6 400.8h2.8M251.6 407.0h2.8" stroke="#333" stroke-width="0.75" fill="none"/><path d="M259.2 404.3V410.1M257.8 404.3h2.8M257.8 410.1h2.8" stroke="#333" stroke-width="0.75" fill="none"/><path d="M265.0 404.4V409.2M263.6 404.4h2.8M263.6 409.2h2.8" stroke="#333" stroke-width="0.75" fill="none"/><path d="M269.1 404.7V410.9M267.7 404.7h2.8M267.7 410.9h2.8" stroke="#333" stroke-width="0.75" fill="none"/><path d="M270.5 401.8V406.0M269.1 401.8h2.8M269.1 406.0h2.8" stroke="#333" stroke-width="0.75" fill="none"/><path d="M272.0 408.5V414.7M270.6 408.5h2.8M270.6 414.7h2.8" stroke="#333" stroke-width="0.75" fill="none"/><path d="M273.8 398.0V403.0M272.4 398.0h2.8M272.4 403.0h2.8" stroke="#333" stroke-width="0.75" fill="none"/><path d="M275.4 409.7V414.7M274.0 409.7h2.8M274.0 414.7h2.8" stroke="#333" stroke-width="0.75" fill="none"/><path d="M276.4 404.2V409.4M275.0 404.2h2.8M275.0 409.4h2.8" stroke="#333" stroke-width="0.75" fill="none"/><path d="M278.1 406.2V411.2M276.7 406.2h2.8M276.7 411.2h2.8" stroke="#333" stroke-width="0.75" fill="none"/><path d="M279.3 413.3V419.3M277.9 413.3h2.8M277.9 419.3h2.8" stroke="#333" stroke-width="0.75" fill="none"/><path d="M281.2 411.5V417.5M279.8 411.5h2.8M279.8 417.5h2.8" stroke="#333" stroke-width="0.75" fill="none"/><path d="M283.0 418.1V423.9M281.6 418.1h2.8M281.6 423.9h2.8" stroke="#333" stroke-width="0.75" fill="none"/><path d="M284.4 420.0V424.8M283.0 420.0h2.8M283.0 424.8h2.8" stroke="#333" stroke-width="0.75" fill="none"/><path d="M286.3 423.2V428.4M284.9 423.2h2.8M284.9 428.4h2.8" stroke="#333" stroke-width="0.75" fill="none"/><path d="M287.3 414.1V418.5M285.9 414.1h2.8M285.9 418.5h2.8" stroke="#333" stroke-width="0.75" fill="none"/><path d="M288.8 417.0V422.8M287.4 417.0h2.8M287.4 422.8h2.8" stroke="#333" stroke-width="0.75" fill="none"/><path d="M290.5 414.4V418.8M289.1 414.4h2.8M289.1 418.8h2.8" stroke="#333" stroke-width="0.75" fill="none"/><path d="M292.0 410.6V415.6M290.6 410.6h2.8M290.6 415.6h2.8" stroke="#333" stroke-width="0.75" fill="none"/><path d="M293.9 404.5V409.1M292.5 404.5h2.8M292.5 409.1h2.8" stroke="#333" stroke-width="0.75" fill="none"/><path d="M295.4 411.1V417.1M294.0 411.1h2.8M294.0 417.1h2.8" stroke="#333" stroke-width="0.75" fill="none"/><path d="M296.8 406.6V412.8M295.4 406.6h2.8M295.4 412.8h2.8" stroke="#333" stroke-width="0.75" fill="none"/><path d="M298.3 413.6V418.4M296.9 413.6h2.8M296.9 418.4h2.8" stroke="#333" stroke-width="0.75" fill="none"/><path d="M299.7 413.6V419.6M298.3 413.6h2.8M298.3 419.6h2.8" stroke="#333" stroke-width="0.75" fill="none"/><path d="M301.6 408.9V413.5M300.2 408.9h2.8M300.2 413.5h2.8" stroke="#333" stroke-width="0.75" fill="none"/><path d="M303.1 411.2V417.0M301.7 411.2h2.8M301.7 417.0h2.8" stroke="#333" stroke-width="0.75" fill="none"/><path d="M304.9 405.4V410.2M303.5 405.4h2.8M303.5 410.2h2.8" stroke="#333" stroke-width="0.75" fill="none"/><path d="M307.0 407.1V412.3M305.6 407.1h2.8M305.6 412.3h2.8" stroke="#333" stroke-width="0.75" fill="none"/><path d="M310.0 409.2V414.6M308.6 409.2h2.8M308.6 414.6h2.8" stroke="#333" stroke-width="0.75" fill="none"/><path d="M312.9 410.1V415.1M311.5 410.1h2.8M311.5 415.1h2.8" stroke="#333" stroke-width="0.75" fill="none"/><path d="M316.1 408.1V412.7M314.7 408.1h2.8M314.7 412.7h2.8" stroke="#333" stroke-width="0.75" fill="none"/><path d="M319.2 406.6V412.0M317.8 406.6h2.8M317.8 412.0h2.8" stroke="#333" stroke-width="0.75" fill="none"/><path d="M322.4 405.3V411.1M321.0 405.3h2.8M321.0 411.1h2.8" stroke="#333" stroke-width="0.75" fill="none"/><path d="M325.6 407.2V413.6M324.2 407.2h2.8M324.2 413.6h2.8" stroke="#333" stroke-width="0.75" fill="none"/><path d="M328.5 406.6V411.4M327.1 406.6h2.8M327.1 411.4h2.8" stroke="#333" stroke-width="0.75" fill="none"/><path d="M331.4 404.0V408.8M330.0 404.0h2.8M330.0 408.8h2.8" stroke="#333" stroke-width="0.75" fill="none"/><path d="M334.8 405.6V410.0M333.4 405.6h2.8M333.4 410.0h2.8" stroke="#333" stroke-width="0.75" fill="none"/><path d="M337.6 409.0V413.6M336.2 409.0h2.8M336.2 413.6h2.8" stroke="#333" stroke-width="0.75" fill="none"/><path d="M340.7 414.8V419.0M339.3 414.8h2.8M339.3 419.0h2.8" stroke="#333" stroke-width="0.75" fill="none"/><path d="M344.1 403.8V408.6M342.7 403.8h2.8M342.7 408.6h2.8" stroke="#333" stroke-width="0.75" fill="none"/><path d="M347.0 410.6V416.4M345.6 410.6h2.8M345.6 416.4h2.8" stroke="#333" stroke-width="0.75" fill="none"/><path d="M350.0 412.3V416.7M348.6 412.3h2.8M348.6 416.7h2.8" stroke="#333" stroke-width="0.75" fill="none"/><path d="M353.2 401.9V407.5M351.8 401.9h2.8M351.8 407.5h2.8" stroke="#333" stroke-width="0.75" fill="none"/><path d="M356.5 408.1V412.9M355.1 408.1h2.8M355.1 412.9h2.8" stroke="#333" stroke-width="0.75" fill="none"/><path d="M359.4 414.8V419.4M358.0 414.8h2.8M358.0 419.4h2.8" stroke="#333" stroke-width="0.75" fill="none"/><path d="M362.3 402.5V407.7M360.9 402.5h2.8M360.9 407.7h2.8" stroke="#333" stroke-width="0.75" fill="none"/><path d="M365.4 406.0V411.2M364.0 406.0h2.8M364.0 411.2h2.8" stroke="#333" stroke-width="0.75" fill="none"/><path d="M368.6 408.7V413.9M367.2 408.7h2.8M367.2 413.9h2.8" stroke="#333" stroke-width="0.75" fill="none"/><path d="M371.5 405.9V410.3M370.1 405.9h2.8M370.1 410.3h2.8" stroke="#333" stroke-width="0.75" fill="none"/><path d="M374.7 399.1V404.5M373.3 399.1h2.8M373.3 404.5h2.8" stroke="#333" stroke-width="0.75" fill="none"/><path d="M377.6 405.0V411.2M376.2 405.0h2.8M376.2 411.2h2.8" stroke="#333" stroke-width="0.75" fill="none"/><path d="M380.7 407.0V411.2M379.3 407.0h2.8M379.3 411.2h2.8" stroke="#333" stroke-width="0.75" fill="none"/><path d="M383.9 406.9V411.3M382.5 406.9h2.8M382.5 411.3h2.8" stroke="#333" stroke-width="0.75" fill="none"/><path d="M387.1 404.9V410.3M385.7 404.9h2.8M385.7 410.3h2.8" stroke="#333" stroke-width="0.75" fill="none"/><path d="M390.2 417.9V422.7M388.8 417.9h2.8M388.8 422.7h2.8" stroke="#333" stroke-width="0.75" fill="none"/><path d="M393.1 402.3V407.1M391.7 402.3h2.8M391.7 407.1h2.8" stroke="#333" stroke-width="0.75" fill="none"/><path d="M396.3 411.8V418.0M394.9 411.8h2.8M394.9 418.0h2.8" stroke="#333" stroke-width="0.75" fill="none"/><path d="M399.2 394.6V399.4M397.8 394.6h2.8M397.8 399.4h2.8" stroke="#333" stroke-width="0.75" fill="none"/><path d="M402.4 407.0V413.2M401.0 407.0h2.8M401.0 413.2h2.8" stroke="#333" stroke-width="0.75" fill="none"/><path d="M405.4 405.6V411.2M404.0 405.6h2.8M404.0 411.2h2.8" stroke="#333" stroke-width="0.75" fill="none"/><path d="M408.3 406.3V410.5M406.9 406.3h2.8M406.9 410.5h2.8" stroke="#333" stroke-width="0.75" fill="none"/><path d="M411.6 405.2V410.0M410.2 405.2h2.8M410.2 410.0h2.8" stroke="#333" stroke-width="0.75" fill="none"/><path d="M414.9 411.3V415.7M413.5 411.3h2.8M413.5 415.7h2.8" stroke="#333" stroke-width="0.75" fill="none"/><path d="M418.0 407.8V413.2M416.6 407.8h2.8M416.6 413.2h2.8" stroke="#333" stroke-width="0.75" fill="none"/><path d="M421.1 402.6V408.8M419.7 402.6h2.8M419.7 408.8h2.8" stroke="#333" stroke-width="0.75" fill="none"/><path d="M424.1 405.4V409.8M422.7 405.4h2.8M422.7 409.8h2.8" stroke="#333" stroke-width="0.75" fill="none"/><path d="M427.0 408.4V412.6M425.6 408.4h2.8M425.6 412.6h2.8" stroke="#333" stroke-width="0.75" fill="none"/><circle cx="253.0" cy="403.9" r="1.85" fill="#c4f2f2" stroke="#151515" stroke-width="0.6"/><circle cx="259.2" cy="407.2" r="1.85" fill="#c4f2f2" stroke="#151515" stroke-width="0.6"/><circle cx="265.0" cy="406.8" r="1.85" fill="#c4f2f2" stroke="#151515" stroke-width="0.6"/><circle cx="269.1" cy="407.8" r="1.85" fill="#c4f2f2" stroke="#151515" stroke-width="0.6"/><circle cx="270.5" cy="403.9" r="1.85" fill="#c4f2f2" stroke="#151515" stroke-width="0.6"/><circle cx="272.0" cy="411.6" r="1.85" fill="#c4f2f2" stroke="#151515" stroke-width="0.6"/><circle cx="273.8" cy="400.5" r="1.85" fill="#c4f2f2" stroke="#151515" stroke-width="0.6"/><circle cx="275.4" cy="412.2" r="1.85" fill="#c4f2f2" stroke="#151515" stroke-width="0.6"/><circle cx="276.4" cy="406.8" r="1.85" fill="#c4f2f2" stroke="#151515" stroke-width="0.6"/><circle cx="278.1" cy="408.7" r="1.85" fill="#c4f2f2" stroke="#151515" stroke-width="0.6"/><circle cx="279.3" cy="416.3" r="1.85" fill="#c4f2f2" stroke="#151515" stroke-width="0.6"/><circle cx="281.2" cy="414.5" r="1.85" fill="#c4f2f2" stroke="#151515" stroke-width="0.6"/><circle cx="283.0" cy="421.0" r="1.85" fill="#c4f2f2" stroke="#151515" stroke-width="0.6"/><circle cx="284.4" cy="422.4" r="1.85" fill="#c4f2f2" stroke="#151515" stroke-width="0.6"/><circle cx="286.3" cy="425.8" r="1.85" fill="#c4f2f2" stroke="#151515" stroke-width="0.6"/><circle cx="287.3" cy="416.3" r="1.85" fill="#c4f2f2" stroke="#151515" stroke-width="0.6"/><circle cx="288.8" cy="419.9" r="1.85" fill="#c4f2f2" stroke="#151515" stroke-width="0.6"/><circle cx="290.5" cy="416.6" r="1.85" fill="#c4f2f2" stroke="#151515" stroke-width="0.6"/><circle cx="292.0" cy="413.1" r="1.85" fill="#c4f2f2" stroke="#151515" stroke-width="0.6"/><circle cx="293.9" cy="406.8" r="1.85" fill="#c4f2f2" stroke="#151515" stroke-width="0.6"/><circle cx="295.4" cy="414.1" r="1.85" fill="#c4f2f2" stroke="#151515" stroke-width="0.6"/><circle cx="296.8" cy="409.7" r="1.85" fill="#c4f2f2" stroke="#151515" stroke-width="0.6"/><circle cx="298.3" cy="416.0" r="1.85" fill="#c4f2f2" stroke="#151515" stroke-width="0.6"/><circle cx="299.7" cy="416.6" r="1.85" fill="#c4f2f2" stroke="#151515" stroke-width="0.6"/><circle cx="301.6" cy="411.2" r="1.85" fill="#c4f2f2" stroke="#151515" stroke-width="0.6"/><circle cx="303.1" cy="414.1" r="1.85" fill="#c4f2f2" stroke="#151515" stroke-width="0.6"/><circle cx="304.9" cy="407.8" r="1.85" fill="#c4f2f2" stroke="#151515" stroke-width="0.6"/><circle cx="307.0" cy="409.7" r="1.85" fill="#c4f2f2" stroke="#151515" stroke-width="0.6"/><circle cx="310.0" cy="411.9" r="1.85" fill="#c4f2f2" stroke="#151515" stroke-width="0.6"/><circle cx="312.9" cy="412.6" r="1.85" fill="#c4f2f2" stroke="#151515" stroke-width="0.6"/><circle cx="316.1" cy="410.4" r="1.85" fill="#c4f2f2" stroke="#151515" stroke-width="0.6"/><circle cx="319.2" cy="409.3" r="1.85" fill="#c4f2f2" stroke="#151515" stroke-width="0.6"/><circle cx="322.4" cy="408.2" r="1.85" fill="#c4f2f2" stroke="#151515" stroke-width="0.6"/><circle cx="325.6" cy="410.4" r="1.85" fill="#c4f2f2" stroke="#151515" stroke-width="0.6"/><circle cx="328.5" cy="409.0" r="1.85" fill="#c4f2f2" stroke="#151515" stroke-width="0.6"/><circle cx="331.4" cy="406.4" r="1.85" fill="#c4f2f2" stroke="#151515" stroke-width="0.6"/><circle cx="334.8" cy="407.8" r="1.85" fill="#c4f2f2" stroke="#151515" stroke-width="0.6"/><circle cx="337.6" cy="411.3" r="1.85" fill="#c4f2f2" stroke="#151515" stroke-width="0.6"/><circle cx="340.7" cy="416.9" r="1.85" fill="#c4f2f2" stroke="#151515" stroke-width="0.6"/><circle cx="344.1" cy="406.2" r="1.85" fill="#c4f2f2" stroke="#151515" stroke-width="0.6"/><circle cx="347.0" cy="413.5" r="1.85" fill="#c4f2f2" stroke="#151515" stroke-width="0.6"/><circle cx="350.0" cy="414.5" r="1.85" fill="#c4f2f2" stroke="#151515" stroke-width="0.6"/><circle cx="353.2" cy="404.7" r="1.85" fill="#c4f2f2" stroke="#151515" stroke-width="0.6"/><circle cx="356.5" cy="410.5" r="1.85" fill="#c4f2f2" stroke="#151515" stroke-width="0.6"/><circle cx="359.4" cy="417.1" r="1.85" fill="#c4f2f2" stroke="#151515" stroke-width="0.6"/><circle cx="362.3" cy="405.1" r="1.85" fill="#c4f2f2" stroke="#151515" stroke-width="0.6"/><circle cx="365.4" cy="408.6" r="1.85" fill="#c4f2f2" stroke="#151515" stroke-width="0.6"/><circle cx="368.6" cy="411.3" r="1.85" fill="#c4f2f2" stroke="#151515" stroke-width="0.6"/><circle cx="371.5" cy="408.1" r="1.85" fill="#c4f2f2" stroke="#151515" stroke-width="0.6"/><circle cx="374.7" cy="401.8" r="1.85" fill="#c4f2f2" stroke="#151515" stroke-width="0.6"/><circle cx="377.6" cy="408.1" r="1.85" fill="#c4f2f2" stroke="#151515" stroke-width="0.6"/><circle cx="380.7" cy="409.1" r="1.85" fill="#c4f2f2" stroke="#151515" stroke-width="0.6"/><circle cx="383.9" cy="409.1" r="1.85" fill="#c4f2f2" stroke="#151515" stroke-width="0.6"/><circle cx="387.1" cy="407.6" r="1.85" fill="#c4f2f2" stroke="#151515" stroke-width="0.6"/><circle cx="390.2" cy="420.3" r="1.85" fill="#c4f2f2" stroke="#151515" stroke-width="0.6"/><circle cx="393.1" cy="404.7" r="1.85" fill="#c4f2f2" stroke="#151515" stroke-width="0.6"/><circle cx="396.3" cy="414.9" r="1.85" fill="#c4f2f2" stroke="#151515" stroke-width="0.6"/><circle cx="399.2" cy="397.0" r="1.85" fill="#c4f2f2" stroke="#151515" stroke-width="0.6"/><circle cx="402.4" cy="410.1" r="1.85" fill="#c4f2f2" stroke="#151515" stroke-width="0.6"/><circle cx="405.4" cy="408.4" r="1.85" fill="#c4f2f2" stroke="#151515" stroke-width="0.6"/><circle cx="408.3" cy="408.4" r="1.85" fill="#c4f2f2" stroke="#151515" stroke-width="0.6"/><circle cx="411.6" cy="407.6" r="1.85" fill="#c4f2f2" stroke="#151515" stroke-width="0.6"/><circle cx="414.9" cy="413.5" r="1.85" fill="#c4f2f2" stroke="#151515" stroke-width="0.6"/><circle cx="418.0" cy="410.5" r="1.85" fill="#c4f2f2" stroke="#151515" stroke-width="0.6"/><circle cx="421.1" cy="405.7" r="1.85" fill="#c4f2f2" stroke="#151515" stroke-width="0.6"/><circle cx="424.1" cy="407.6" r="1.85" fill="#c4f2f2" stroke="#151515" stroke-width="0.6"/><circle cx="427.0" cy="410.5" r="1.85" fill="#c4f2f2" stroke="#151515" stroke-width="0.6"/>
<path d="M40.8 448.5V6.5H432.4V448.5Z" fill="none" stroke="#2a2a2a" stroke-width="1"/>
<path d="M40.8 448.5v-5M40.8 6.5v5M247.6 448.5v-5M247.6 6.5v5M46.9 448.5v-3M46.9 6.5v3M253.8 448.5v-3M253.8 6.5v3M53.1 448.5v-3M53.1 6.5v3M259.9 448.5v-3M259.9 6.5v3M59.2 448.5v-3M59.2 6.5v3M266.1 448.5v-3M266.1 6.5v3M65.4 448.5v-3M65.4 6.5v3M272.2 448.5v-3M272.2 6.5v3M71.5 448.5v-5M71.5 6.5v5M278.4 448.5v-5M278.4 6.5v5M77.6 448.5v-3M77.6 6.5v3M284.6 448.5v-3M284.6 6.5v3M83.8 448.5v-3M83.8 6.5v3M290.7 448.5v-3M290.7 6.5v3M89.9 448.5v-3M89.9 6.5v3M296.9 448.5v-3M296.9 6.5v3M96.1 448.5v-3M96.1 6.5v3M303.0 448.5v-3M303.0 6.5v3M102.2 448.5v-5M102.2 6.5v5M309.2 448.5v-5M309.2 6.5v5M108.3 448.5v-3M108.3 6.5v3M315.4 448.5v-3M315.4 6.5v3M114.5 448.5v-3M114.5 6.5v3M321.5 448.5v-3M321.5 6.5v3M120.6 448.5v-3M120.6 6.5v3M327.7 448.5v-3M327.7 6.5v3M126.8 448.5v-3M126.8 6.5v3M333.8 448.5v-3M333.8 6.5v3M132.9 448.5v-5M132.9 6.5v5M340.0 448.5v-5M340.0 6.5v5M139.0 448.5v-3M139.0 6.5v3M346.2 448.5v-3M346.2 6.5v3M145.2 448.5v-3M145.2 6.5v3M352.3 448.5v-3M352.3 6.5v3M151.3 448.5v-3M151.3 6.5v3M358.5 448.5v-3M358.5 6.5v3M157.5 448.5v-3M157.5 6.5v3M364.6 448.5v-3M364.6 6.5v3M163.6 448.5v-5M163.6 6.5v5M370.8 448.5v-5M370.8 6.5v5M169.7 448.5v-3M169.7 6.5v3M377.0 448.5v-3M377.0 6.5v3M175.9 448.5v-3M175.9 6.5v3M383.1 448.5v-3M383.1 6.5v3M182.0 448.5v-3M182.0 6.5v3M389.3 448.5v-3M389.3 6.5v3M188.2 448.5v-3M188.2 6.5v3M395.4 448.5v-3M395.4 6.5v3M194.3 448.5v-5M194.3 6.5v5M401.6 448.5v-5M401.6 6.5v5M200.4 448.5v-3M200.4 6.5v3M407.8 448.5v-3M407.8 6.5v3M206.6 448.5v-3M206.6 6.5v3M413.9 448.5v-3M413.9 6.5v3M212.7 448.5v-3M212.7 6.5v3M420.1 448.5v-3M420.1 6.5v3M218.9 448.5v-3M218.9 6.5v3M426.2 448.5v-3M426.2 6.5v3M225.0 448.5v-5M225.0 6.5v5M432.4 448.5v-5M432.4 6.5v5M40.8 448.5h5M432.4 448.5h-5M40.8 438.0h3M432.4 438.0h-3M40.8 427.4h3M432.4 427.4h-3M40.8 416.9h3M432.4 416.9h-3M40.8 406.4h3M432.4 406.4h-3M40.8 395.9h5M432.4 395.9h-5M40.8 385.3h3M432.4 385.3h-3M40.8 374.8h3M432.4 374.8h-3M40.8 364.3h3M432.4 364.3h-3M40.8 353.7h3M432.4 353.7h-3M40.8 343.2h5M432.4 343.2h-5M40.8 332.7h3M432.4 332.7h-3M40.8 322.1h3M432.4 322.1h-3M40.8 311.6h3M432.4 311.6h-3M40.8 301.1h3M432.4 301.1h-3M40.8 290.6h5M432.4 290.6h-5M40.8 280.0h3M432.4 280.0h-3M40.8 269.5h3M432.4 269.5h-3M40.8 259.0h3M432.4 259.0h-3M40.8 248.4h3M432.4 248.4h-3M40.8 237.9h5M432.4 237.9h-5M40.8 227.4h3M432.4 227.4h-3M40.8 216.8h3M432.4 216.8h-3M40.8 206.3h3M432.4 206.3h-3M40.8 195.8h3M432.4 195.8h-3M40.8 185.2h5M432.4 185.2h-5M40.8 174.7h3M432.4 174.7h-3M40.8 164.2h3M432.4 164.2h-3M40.8 153.7h3M432.4 153.7h-3M40.8 143.1h3M432.4 143.1h-3M40.8 132.6h5M432.4 132.6h-5M40.8 122.1h3M432.4 122.1h-3M40.8 111.5h3M432.4 111.5h-3M40.8 101.0h3M432.4 101.0h-3M40.8 90.5h3M432.4 90.5h-3M40.8 79.9h5M432.4 79.9h-5M40.8 69.4h3M432.4 69.4h-3M40.8 58.9h3M432.4 58.9h-3M40.8 48.4h3M432.4 48.4h-3M40.8 37.8h3M432.4 37.8h-3M40.8 27.3h5M432.4 27.3h-5M40.8 16.8h3M432.4 16.8h-3" stroke="#2a2a2a" stroke-width="0.9" fill="none"/>
<path d="M231.2 11.6L236.5 0.4M236.2 12.7L241.7 1.3" stroke="#111" stroke-width="0.9"/>
<path d="M231.2 454.6L236.5 443.4M236.2 455.7L241.7 444.3" stroke="#111" stroke-width="0.9"/>
<g font-size="10" fill="#1a1a1a"><text x="32.8" y="452.9" text-anchor="end">0.0</text><text x="32.8" y="400.2" text-anchor="end">0.5</text><text x="32.8" y="347.6" text-anchor="end">1.0</text><text x="32.8" y="294.9" text-anchor="end">1.5</text><text x="32.8" y="242.3" text-anchor="end">2.0</text><text x="32.8" y="189.7" text-anchor="end">2.5</text><text x="32.8" y="137.0" text-anchor="end">3.0</text><text x="32.8" y="84.3" text-anchor="end">3.5</text><text x="32.8" y="31.7" text-anchor="end">4.0</text><text x="39.6" y="460.6" text-anchor="middle">-1</text><text x="246.4" y="460.6" text-anchor="middle">-1</text><text x="71.5" y="460.6" text-anchor="middle">0</text><text x="278.4" y="460.6" text-anchor="middle">0</text><text x="102.2" y="460.6" text-anchor="middle">1</text><text x="309.2" y="460.6" text-anchor="middle">1</text><text x="132.9" y="460.6" text-anchor="middle">2</text><text x="340.0" y="460.6" text-anchor="middle">2</text><text x="163.6" y="460.6" text-anchor="middle">3</text><text x="370.8" y="460.6" text-anchor="middle">3</text><text x="194.3" y="460.6" text-anchor="middle">4</text><text x="401.6" y="460.6" text-anchor="middle">4</text><text x="225.0" y="460.6" text-anchor="middle">5</text><text x="432.4" y="460.6" text-anchor="middle">5</text></g>
<text x="239.5" y="474.7" font-size="10.15" text-anchor="middle" fill="#1a1a1a">Delay time (ps)</text>
<text transform="translate(9.3 227.3) rotate(-90)" font-size="10.2" text-anchor="middle" fill="#1a1a1a">Intensity (arb. unit)</text>
<text x="-0.8" y="14.2" font-size="19" fill="#111">a</text>
<text x="184.5" y="25" font-size="11.6" letter-spacing="0.55" text-anchor="middle" fill="#1a1a1a">2×2×2</text>
<line x1="154.8" x2="162.6" y1="37.2" y2="37.2" stroke="#444" stroke-width="1"/>
<text x="166.8" y="40.8" font-size="10" fill="#1a1a1a">π shifted CP</text>
<text x="357.5" y="25" font-size="11.6" letter-spacing="0.55" text-anchor="middle" fill="#1a1a1a">2×2×1</text>
<line x1="327.9" x2="336.6" y1="36.9" y2="36.9" stroke="#444" stroke-width="1"/>
<text x="340.7" y="40.9" font-size="10.1" fill="#1a1a1a">Melting + recovery</text>
<polyline points="504.6,155.8 505.3,154.6 506.0,153.5 506.8,152.3 507.5,151.1 508.2,150.0 508.9,148.8 509.7,147.6 510.4,146.4 511.1,145.3 511.8,144.1 512.5,142.9 513.3,141.8 514.0,140.6 514.7,139.4 515.4,138.3 516.2,137.1 516.9,135.9 517.6,134.7 518.3,133.6 519.0,132.4 519.8,131.2 520.5,130.1 521.2,128.9 521.9,127.7 522.7,126.6 523.4,125.4 524.1,124.2 524.8,123.1 525.5,121.9 526.3,120.7 527.0,119.5 527.7,118.4 528.4,117.2 529.2,116.0 529.9,114.9 530.6,113.7 531.3,112.5 532.0,111.4 532.8,110.2 533.5,109.0 534.2,107.9 534.9,106.7 535.7,105.5 536.4,104.4 537.1,103.2 537.8,102.0 538.5,100.9 539.3,99.7 540.0,98.5 540.7,97.4 541.4,96.2 542.1,95.0 542.9,93.9 543.6,92.7 544.3,91.5 545.0,90.4 545.8,89.2 546.5,88.0 547.2,86.9 547.9,85.7 548.6,84.6 549.4,83.4 550.1,82.3 550.8,81.1 551.5,80.0 552.3,78.8 553.0,77.7 553.7,76.5 554.4,75.4 555.1,74.2 555.9,73.1 556.6,71.9 557.3,70.8 558.0,69.7 558.8,68.6 559.5,67.4 560.2,66.3 560.9,65.2 561.6,64.1 562.4,63.0 563.1,61.9 563.8,60.8 564.5,59.8 565.3,58.7 566.0,57.6 566.7,56.6 567.4,55.6 568.1,54.5 568.9,53.5 569.6,52.5 570.3,51.6 571.0,50.6 571.8,49.7 572.5,48.7 573.2,47.8 573.9,46.9 574.6,46.1 575.4,45.2 576.1,44.4 576.8,43.6 577.5,42.8 578.3,42.1 579.0,41.3 579.7,40.6 580.4,40.0 581.1,39.3 581.9,38.7 582.6,38.2 583.3,37.6 584.0,37.1 584.8,36.6 585.5,36.1 586.2,35.7 586.9,35.3 587.6,34.9 588.4,34.5 589.1,34.2 589.8,33.8 590.5,33.5 591.3,33.3 592.0,33.0 592.7,32.8 593.4,32.6 594.1,32.4 594.9,32.2 595.6,32.0 596.3,31.9 597.0,31.7 597.8,31.6 598.5,31.5 599.2,31.3 599.9,31.2 600.6,31.1 601.4,31.1 602.1,31.0 602.8,30.9 603.5,30.8 604.3,30.8 605.0,30.7 605.7,30.7 606.4,30.6 607.1,30.6 607.9,30.6 608.6,30.5 609.3,30.5 610.0,30.5 610.8,30.4 611.5,30.4 612.2,30.4 612.9,30.4 613.6,30.4 614.4,30.4 615.1,30.3 615.8,30.3 616.5,30.3 617.2,30.3 618.0,30.3 618.7,30.3 619.4,30.3 620.1,30.3 620.9,30.3 621.6,30.3 622.3,30.3 623.0,30.2 623.7,30.2 624.5,30.2 625.2,30.2 625.9,30.2 626.6,30.2 627.4,30.2 628.1,30.2 628.8,30.2 629.5,30.2 630.2,30.2 631.0,30.2 631.7,30.2 632.4,30.2 633.1,30.2 633.9,30.2 634.6,30.2 635.3,30.2 636.0,30.2 636.7,30.2 637.5,30.2 638.2,30.2 638.9,30.2 639.6,30.2 640.4,30.2 641.1,30.2 641.8,30.2 642.5,30.2 643.2,30.2 644.0,30.2 644.7,30.2 645.4,30.2 646.1,30.2 646.9,30.2 647.6,30.2 648.3,30.2" fill="none" stroke="#8fe08f" stroke-width="2.6" stroke-opacity="1.0" stroke-linecap="butt"/>
<polyline points="504.0,13.9 504.7,15.5 505.5,17.1 506.2,18.7 506.9,20.2 507.6,21.7 508.4,23.2 509.1,24.7 509.8,26.1 510.5,27.5 511.3,28.9 512.0,30.3 512.7,31.6 513.4,32.9 514.2,34.2 514.9,35.5 515.6,36.7 516.3,38.0 517.1,39.2 517.8,40.4 518.5,41.6 519.2,42.7 520.0,43.8 520.7,45.0 521.4,46.1 522.1,47.1 522.9,48.2 523.6,49.2 524.3,50.3 525.0,51.3 525.8,52.3 526.5,53.2 527.2,54.2 527.9,55.1 528.7,56.1 529.4,57.0 530.1,57.9 530.8,58.7 531.6,59.6 532.3,60.5 533.0,61.3 533.7,62.1 534.5,62.9 535.2,63.7 535.9,64.5 536.6,65.3 537.4,66.0 538.1,66.8 538.8,67.5 539.5,68.2 540.3,68.9 541.0,69.6 541.7,70.3 542.4,71.0 543.2,71.6 543.9,72.3 544.6,72.9 545.3,73.6 546.1,74.2 546.8,74.8 547.5,75.4 548.2,76.0 549.0,76.5 549.7,77.1 550.4,77.7 551.1,78.2 551.9,78.8 552.6,79.3 553.3,79.8 554.0,80.3 554.8,80.8 555.5,81.3 556.2,81.8 556.9,82.3 557.7,82.8 558.4,83.2 559.1,83.7 559.8,84.1 560.6,84.6 561.3,85.0 562.0,85.4 562.7,85.9 563.5,86.3 564.2,86.7 564.9,87.1 565.6,87.5 566.4,87.8 567.1,88.2 567.8,88.6 568.5,89.0 569.3,89.3 570.0,89.7 570.7,90.0 571.4,90.4 572.2,90.7 572.9,91.0 573.6,91.4 574.3,91.7 575.1,92.0 575.8,92.3 576.5,92.6 577.2,92.9 578.0,93.2 578.7,93.5 579.4,93.8 580.1,94.1 580.9,94.3 581.6,94.6 582.3,94.9 583.0,95.1 583.8,95.4 584.5,95.6 585.2,95.9 585.9,96.1 586.7,96.4 587.4,96.6 588.1,96.8 588.8,97.1 589.6,97.3 590.3,97.5 591.0,97.7 591.7,97.9 592.5,98.2 593.2,98.4 593.9,98.6 594.6,98.8 595.4,99.0 596.1,99.2 596.8,99.3 597.5,99.5 598.3,99.7 599.0,99.9 599.7,100.1 600.4,100.2 601.2,100.4 601.9,100.6 602.6,100.8 603.3,100.9 604.1,101.1 604.8,101.2 605.5,101.4 606.2,101.5 607.0,101.7 607.7,101.8 608.4,102.0 609.1,102.1 609.9,102.3 610.6,102.4 611.3,102.5 612.0,102.7 612.8,102.8 613.5,102.9 614.2,103.1 614.9,103.2 615.7,103.3 616.4,103.4 617.1,103.5 617.8,103.7 618.6,103.8 619.3,103.9 620.0,104.0 620.7,104.1 621.5,104.2 622.2,104.3 622.9,104.4 623.6,104.5 624.4,104.6 625.1,104.7 625.8,104.8 626.5,104.9 627.3,105.0 628.0,105.1 628.7,105.2 629.4,105.3 630.2,105.4 630.9,105.4 631.6,105.5 632.3,105.6 633.1,105.7 633.8,105.8 634.5,105.9 635.2,105.9 636.0,106.0 636.7,106.1 637.4,106.2 638.1,106.2 638.9,106.3 639.6,106.4 640.3,106.4 641.0,106.5 641.8,106.6 642.5,106.6 643.2,106.7 643.9,106.8 644.7,106.8 645.4,106.9 646.1,107.0 646.8,107.0 647.6,107.1 648.3,107.1" fill="none" stroke="#ff8c70" stroke-width="2.6" stroke-opacity="1.0" stroke-linecap="butt"/>
<polyline points="504.0,13.9 504.7,15.3 505.5,16.6 506.2,18.0 506.9,19.3 507.6,20.6 508.4,21.8 509.1,23.0 509.8,24.2 510.5,25.4 511.3,26.5 512.0,27.7 512.7,28.8 513.4,29.9 514.2,30.9 514.9,32.0 515.6,33.0 516.3,34.0 517.1,34.9 517.8,35.9 518.5,36.8 519.2,37.7 520.0,38.6 520.7,39.5 521.4,40.4 522.1,41.2 522.9,42.1 523.6,42.9 524.3,43.7 525.0,44.4 525.8,45.2 526.5,45.9 527.2,46.7 527.9,47.4 528.7,48.1 529.4,48.8 530.1,49.4 530.8,50.1 531.6,50.7 532.3,51.4 533.0,52.0 533.7,52.6 534.5,53.2 535.2,53.8 535.9,54.3 536.6,54.9 537.4,55.4 538.1,56.0 538.8,56.5 539.5,57.0 540.3,57.5 541.0,58.0 541.7,58.5 542.4,59.0 543.2,59.4 543.9,59.9 544.6,60.3 545.3,60.7 546.1,61.2 546.8,61.6 547.5,62.0 548.2,62.4 549.0,62.8 549.7,63.2 550.4,63.5 551.1,63.9 551.9,64.3 552.6,64.6 553.3,65.0 554.0,65.3 554.8,65.6 555.5,66.0 556.2,66.3 556.9,66.6 557.7,66.9 558.4,67.2 559.1,67.5 559.8,67.8 560.6,68.1 561.3,68.3 562.0,68.6 562.7,68.9 563.5,69.1 564.2,69.4 564.9,69.6 565.6,69.9 566.4,70.1 567.1,70.4 567.8,70.6 568.5,70.8 569.3,71.0 570.0,71.2 570.7,71.5 571.4,71.7 572.2,71.9 572.9,72.1 573.6,72.2 574.3,72.4 575.1,72.6 575.8,72.8 576.5,73.0 577.2,73.2 578.0,73.3 578.7,73.5 579.4,73.7 580.1,73.8 580.9,74.0 581.6,74.1 582.3,74.3 583.0,74.4 583.8,74.6 584.5,74.7 585.2,74.9 585.9,75.0 586.7,75.1 587.4,75.3 588.1,75.4 588.8,75.5 589.6,75.6 590.3,75.8 591.0,75.9 591.7,76.0 592.5,76.1 593.2,76.2 593.9,76.3 594.6,76.4 595.4,76.5 596.1,76.6 596.8,76.7 597.5,76.8 598.3,76.9 599.0,77.0 599.7,77.1 600.4,77.2 601.2,77.3 601.9,77.4 602.6,77.5 603.3,77.5 604.1,77.6 604.8,77.7 605.5,77.8 606.2,77.9 607.0,77.9 607.7,78.0 608.4,78.1 609.1,78.1 609.9,78.2 610.6,78.3 611.3,78.4 612.0,78.4 612.8,78.5 613.5,78.5 614.2,78.6 614.9,78.7 615.7,78.7 616.4,78.8 617.1,78.8 617.8,78.9 618.6,78.9 619.3,79.0 620.0,79.0 620.7,79.1 621.5,79.1 622.2,79.2 622.9,79.2 623.6,79.3 624.4,79.3 625.1,79.4 625.8,79.4 626.5,79.5 627.3,79.5 628.0,79.5 628.7,79.6 629.4,79.6 630.2,79.7 630.9,79.7 631.6,79.7 632.3,79.8 633.1,79.8 633.8,79.8 634.5,79.9 635.2,79.9 636.0,79.9 636.7,80.0 637.4,80.0 638.1,80.0 638.9,80.1 639.6,80.1 640.3,80.1 641.0,80.2 641.8,80.2 642.5,80.2 643.2,80.2 643.9,80.3 644.7,80.3 645.4,80.3 646.1,80.3 646.8,80.4 647.6,80.4 648.3,80.4" fill="none" stroke="#7b7bff" stroke-width="2.6" stroke-opacity="1.0" stroke-linecap="butt"/>
<path d="M498.4 146.0V157.4M497.0 146.0h2.8M497.0 157.4h2.8" stroke="#333" stroke-width="0.8" fill="none"/><path d="M506.9 146.0V158.0M505.5 146.0h2.8M505.5 158.0h2.8" stroke="#333" stroke-width="0.8" fill="none"/><path d="M512.0 138.5V149.0M510.6 138.5h2.8M510.6 149.0h2.8" stroke="#333" stroke-width="0.8" fill="none"/><path d="M530.5 113.8V125.5M529.1 113.8h2.8M529.1 125.5h2.8" stroke="#333" stroke-width="0.8" fill="none"/><path d="M546.4 96.0V111.4M545.0 96.0h2.8M545.0 111.4h2.8" stroke="#333" stroke-width="0.8" fill="none"/><path d="M561.2 70.5V83.0M559.8 70.5h2.8M559.8 83.0h2.8" stroke="#333" stroke-width="0.8" fill="none"/><path d="M580.4 11.3V31.1M579.0 11.3h2.8M579.0 31.1h2.8" stroke="#333" stroke-width="0.8" fill="none"/><path d="M603.8 21.7V38.3M602.4 21.7h2.8M602.4 38.3h2.8" stroke="#333" stroke-width="0.8" fill="none"/><path d="M641.1 12.3V55.1M639.7 12.3h2.8M639.7 55.1h2.8" stroke="#333" stroke-width="0.8" fill="none"/><path d="M498.9 13.9V31.2M497.5 13.9h2.8M497.5 31.2h2.8" stroke="#333" stroke-width="0.8" fill="none"/><path d="M502.2 13.9V27.5M500.8 13.9h2.8M500.8 27.5h2.8" stroke="#333" stroke-width="0.8" fill="none"/><path d="M507.9 13.9V26.5M506.5 13.9h2.8M506.5 26.5h2.8" stroke="#333" stroke-width="0.8" fill="none"/><path d="M523.5 25.4V41.4M522.1 25.4h2.8M522.1 41.4h2.8" stroke="#333" stroke-width="0.8" fill="none"/><path d="M537.5 43.8V57.2M536.1 43.8h2.8M536.1 57.2h2.8" stroke="#333" stroke-width="0.8" fill="none"/><path d="M560.2 60.4V73.7M558.8 60.4h2.8M558.8 73.7h2.8" stroke="#333" stroke-width="0.8" fill="none"/><path d="M584.2 69.4V77.4M582.8 69.4h2.8M582.8 77.4h2.8" stroke="#333" stroke-width="0.8" fill="none"/><path d="M601.4 75.5V83.0M600.0 75.5h2.8M600.0 83.0h2.8" stroke="#333" stroke-width="0.8" fill="none"/><path d="M504.4 13.9V28.0M503.0 13.9h2.8M503.0 28.0h2.8" stroke="#333" stroke-width="0.8" fill="none"/><path d="M512.2 21.2V49.5M510.8 21.2h2.8M510.8 49.5h2.8" stroke="#333" stroke-width="0.8" fill="none"/><path d="M516.9 21.2V47.4M515.5 21.2h2.8M515.5 47.4h2.8" stroke="#333" stroke-width="0.8" fill="none"/><path d="M533.6 51.4V76.5M532.2 51.4h2.8M532.2 76.5h2.8" stroke="#333" stroke-width="0.8" fill="none"/><path d="M548.5 66.5V86.9M547.1 66.5h2.8M547.1 86.9h2.8" stroke="#333" stroke-width="0.8" fill="none"/><path d="M562.4 72.5V89.5M561.0 72.5h2.8M561.0 89.5h2.8" stroke="#333" stroke-width="0.8" fill="none"/><path d="M579.6 88.8V103.3M578.2 88.8h2.8M578.2 103.3h2.8" stroke="#333" stroke-width="0.8" fill="none"/><path d="M600.8 90.7V109.6M599.4 90.7h2.8M599.4 109.6h2.8" stroke="#333" stroke-width="0.8" fill="none"/><path d="M634.9 102.2V125.3M633.5 102.2h2.8M633.5 125.3h2.8" stroke="#333" stroke-width="0.8" fill="none"/><circle cx="498.4" cy="151.9" r="2.2" fill="#52c488" stroke="#111" stroke-width="0.7"/><circle cx="506.9" cy="151.6" r="2.2" fill="#52c488" stroke="#111" stroke-width="0.7"/><circle cx="512.0" cy="144.5" r="2.2" fill="#52c488" stroke="#111" stroke-width="0.7"/><circle cx="530.5" cy="119.5" r="2.2" fill="#52c488" stroke="#111" stroke-width="0.7"/><circle cx="546.4" cy="103.4" r="2.2" fill="#52c488" stroke="#111" stroke-width="0.7"/><circle cx="561.2" cy="76.5" r="2.2" fill="#52c488" stroke="#111" stroke-width="0.7"/><circle cx="580.4" cy="21.7" r="2.2" fill="#52c488" stroke="#111" stroke-width="0.7"/><circle cx="603.8" cy="30.2" r="2.2" fill="#52c488" stroke="#111" stroke-width="0.7"/><circle cx="641.1" cy="34.0" r="2.2" fill="#52c488" stroke="#111" stroke-width="0.7"/><circle cx="498.9" cy="13.9" r="2.2" fill="#1e5ef0" stroke="#111" stroke-width="0.7"/><circle cx="502.2" cy="13.9" r="2.2" fill="#1e5ef0" stroke="#111" stroke-width="0.7"/><circle cx="507.9" cy="13.9" r="2.2" fill="#1e5ef0" stroke="#111" stroke-width="0.7"/><circle cx="523.5" cy="33.5" r="2.2" fill="#1e5ef0" stroke="#111" stroke-width="0.7"/><circle cx="537.5" cy="50.6" r="2.2" fill="#1e5ef0" stroke="#111" stroke-width="0.7"/><circle cx="560.2" cy="67.0" r="2.2" fill="#1e5ef0" stroke="#111" stroke-width="0.7"/><circle cx="584.2" cy="73.6" r="2.2" fill="#1e5ef0" stroke="#111" stroke-width="0.7"/><circle cx="601.4" cy="79.6" r="2.2" fill="#1e5ef0" stroke="#111" stroke-width="0.7"/><circle cx="504.4" cy="13.9" r="2.2" fill="#f25c5c" stroke="#111" stroke-width="0.7"/><circle cx="512.2" cy="35.4" r="2.2" fill="#f25c5c" stroke="#111" stroke-width="0.7"/><circle cx="516.9" cy="34.8" r="2.2" fill="#f25c5c" stroke="#111" stroke-width="0.7"/><circle cx="533.6" cy="64.2" r="2.2" fill="#f25c5c" stroke="#111" stroke-width="0.7"/><circle cx="548.5" cy="76.8" r="2.2" fill="#f25c5c" stroke="#111" stroke-width="0.7"/><circle cx="562.4" cy="81.2" r="2.2" fill="#f25c5c" stroke="#111" stroke-width="0.7"/><circle cx="579.6" cy="95.7" r="2.2" fill="#f25c5c" stroke="#111" stroke-width="0.7"/><circle cx="600.8" cy="100.6" r="2.2" fill="#f25c5c" stroke="#111" stroke-width="0.7"/><circle cx="634.9" cy="113.7" r="2.2" fill="#f25c5c" stroke="#111" stroke-width="0.7"/>
<circle cx="561.0" cy="132.6" r="1.9" fill="#f25c5c" stroke="#111" stroke-width="0.7"/><circle cx="561.0" cy="144.0" r="1.9" fill="#1e5ef0" stroke="#111" stroke-width="0.7"/><circle cx="561.0" cy="155.3" r="1.9" fill="#52c488" stroke="#111" stroke-width="0.7"/>
<g font-size="9.55" fill="#1a1a1a"><text x="566.5" y="136.0">Recovery (2×2×2)</text><text x="566.5" y="147.4">Recovery (2×2×1)</text><text x="566.5" y="158.7">Underdamping</text></g>
<path d="M490.4 7.0H648.3M490.4 165.5H648.3" stroke="#1e1e1e" stroke-width="0.9" fill="none"/>
<path d="M495.8 165.5v-4.5M495.8 7.0v4.5M501.9 165.5v-2.5M501.9 7.0v2.5M508.0 165.5v-2.5M508.0 7.0v2.5M514.1 165.5v-2.5M514.1 7.0v2.5M520.2 165.5v-2.5M520.2 7.0v2.5M526.3 165.5v-4.5M526.3 7.0v4.5M532.4 165.5v-2.5M532.4 7.0v2.5M538.5 165.5v-2.5M538.5 7.0v2.5M544.6 165.5v-2.5M544.6 7.0v2.5M550.7 165.5v-2.5M550.7 7.0v2.5M556.8 165.5v-4.5M556.8 7.0v4.5M562.9 165.5v-2.5M562.9 7.0v2.5M569.0 165.5v-2.5M569.0 7.0v2.5M575.1 165.5v-2.5M575.1 7.0v2.5M581.2 165.5v-2.5M581.2 7.0v2.5M587.3 165.5v-4.5M587.3 7.0v4.5M593.4 165.5v-2.5M593.4 7.0v2.5M599.5 165.5v-2.5M599.5 7.0v2.5M605.6 165.5v-2.5M605.6 7.0v2.5M611.7 165.5v-2.5M611.7 7.0v2.5M617.8 165.5v-4.5M617.8 7.0v4.5M623.9 165.5v-2.5M623.9 7.0v2.5M630.0 165.5v-2.5M630.0 7.0v2.5M636.1 165.5v-2.5M636.1 7.0v2.5M642.2 165.5v-2.5M642.2 7.0v2.5M648.3 165.5v-4.5M648.3 7.0v4.5" stroke="#1e1e1e" stroke-width="0.8" fill="none"/>
<path d="M490.4 7.0V165.5M490.4 158.1h2.5M490.4 151.2h4.5M490.4 144.3h2.5M490.4 137.5h2.5M490.4 130.6h2.5M490.4 123.7h2.5M490.4 116.9h4.5M490.4 110.0h2.5M490.4 103.1h2.5M490.4 96.3h2.5M490.4 89.4h2.5M490.4 82.5h4.5M490.4 75.7h2.5M490.4 68.8h2.5M490.4 62.0h2.5M490.4 55.1h2.5M490.4 48.2h4.5M490.4 41.4h2.5M490.4 34.5h2.5M490.4 27.6h2.5M490.4 20.8h2.5M490.4 13.9h4.5" stroke="#6a6ac4" stroke-width="1.3" fill="none"/>
<path d="M648.3 7.0V165.5M648.3 149.4h-4.5M648.3 117.6h-2.5M648.3 85.9h-4.5M648.3 54.1h-2.5M648.3 22.4h-4.5" stroke="#3a9050" stroke-width="1.3" fill="none"/>
<g font-size="10.3" fill="#30309c" text-anchor="end"><text x="483.9" y="154.7">0</text><text x="483.9" y="120.4">25</text><text x="483.9" y="86.0">50</text><text x="483.9" y="51.7">75</text><text x="483.9" y="17.4">100</text></g>
<g font-size="10.3" fill="#23884a"><text x="653.5" y="152.9">1.0</text><text x="653.5" y="89.4">1.2</text><text x="653.5" y="25.9">1.4</text></g>
<text transform="translate(458.3 91.9) rotate(-90)" font-size="9.52" text-anchor="middle" fill="#30309c">Recovered amplitude (%)</text>
<text transform="translate(677.3 90.4) rotate(90)" font-size="9.7" text-anchor="middle" fill="#23884a">Intensity (arb. unit)</text>
<g font-size="10.2" fill="#1a1a1a"><text x="495.8" y="178.3" text-anchor="middle">0.0</text><text x="526.3" y="178.3" text-anchor="middle">0.5</text><text x="556.8" y="178.3" text-anchor="middle">1.0</text><text x="587.3" y="178.3" text-anchor="middle">1.5</text><text x="617.8" y="178.3" text-anchor="middle">2.0</text><text x="648.3" y="178.3" text-anchor="middle">2.5</text></g>
<text x="573.3" y="191.2" font-size="10.2" text-anchor="middle" fill="#1a1a1a">Fluence (mJ·cm<tspan font-size="6.5" dy="-3.5">-2</tspan><tspan dy="3.5">)</tspan></text>
<text x="449.6" y="14.0" font-size="19" fill="#111">b</text>
<rect x="490.4" y="247.8" width="157.89999999999998" height="15.3" fill="#dceafc" fill-opacity="0.75"/>
<rect x="490.4" y="257.7" width="157.89999999999998" height="13.6" fill="#fde0e0" fill-opacity="0.7"/>
<rect x="490.4" y="254.5" width="157.89999999999998" height="2.4" fill="#bcd4f6" fill-opacity="0.8"/>
<rect x="490.4" y="263.1" width="157.89999999999998" height="2.4" fill="#fcc8c8" fill-opacity="0.8"/>
<path d="M499.3 257.7V274.3M497.9 257.7h2.8M497.9 274.3h2.8" stroke="#333" stroke-width="0.8" fill="none"/><path d="M503.1 253.6V270.1M501.7 253.6h2.8M501.7 270.1h2.8" stroke="#333" stroke-width="0.8" fill="none"/><path d="M508.0 245.4V266.0M506.6 245.4h2.8M506.6 266.0h2.8" stroke="#333" stroke-width="0.8" fill="none"/><path d="M523.5 237.1V253.6M522.1 237.1h2.8M522.1 253.6h2.8" stroke="#333" stroke-width="0.8" fill="none"/><path d="M537.3 245.4V261.9M535.9 245.4h2.8M535.9 261.9h2.8" stroke="#333" stroke-width="0.8" fill="none"/><path d="M559.9 253.6V270.1M558.5 253.6h2.8M558.5 270.1h2.8" stroke="#333" stroke-width="0.8" fill="none"/><path d="M584.2 245.4V261.9M582.9 245.4h2.8M582.9 261.9h2.8" stroke="#333" stroke-width="0.8" fill="none"/><path d="M601.3 233.0V257.7M599.9 233.0h2.8M599.9 257.7h2.8" stroke="#333" stroke-width="0.8" fill="none"/><path d="M504.6 253.6V266.0M503.2 253.6h2.8M503.2 266.0h2.8" stroke="#333" stroke-width="0.8" fill="none"/><path d="M512.7 253.6V270.1M511.3 253.6h2.8M511.3 270.1h2.8" stroke="#333" stroke-width="0.8" fill="none"/><path d="M517.1 257.7V266.0M515.8 257.7h2.8M515.8 266.0h2.8" stroke="#333" stroke-width="0.8" fill="none"/><path d="M534.2 266.0V274.3M532.8 266.0h2.8M532.8 274.3h2.8" stroke="#333" stroke-width="0.8" fill="none"/><path d="M548.9 266.0V274.3M547.5 266.0h2.8M547.5 274.3h2.8" stroke="#333" stroke-width="0.8" fill="none"/><path d="M562.9 266.0V282.5M561.5 266.0h2.8M561.5 282.5h2.8" stroke="#333" stroke-width="0.8" fill="none"/><path d="M579.4 257.7V274.3M578.0 257.7h2.8M578.0 274.3h2.8" stroke="#333" stroke-width="0.8" fill="none"/><path d="M601.3 257.7V274.3M599.9 257.7h2.8M599.9 274.3h2.8" stroke="#333" stroke-width="0.8" fill="none"/><path d="M634.9 245.4V261.9M633.5 245.4h2.8M633.5 261.9h2.8" stroke="#333" stroke-width="0.8" fill="none"/><circle cx="499.3" cy="266.0" r="2.2" fill="#1e5ef0" stroke="#111" stroke-width="0.7"/><circle cx="503.1" cy="261.9" r="2.2" fill="#1e5ef0" stroke="#111" stroke-width="0.7"/><circle cx="508.0" cy="255.7" r="2.2" fill="#1e5ef0" stroke="#111" stroke-width="0.7"/><circle cx="523.5" cy="245.4" r="2.2" fill="#1e5ef0" stroke="#111" stroke-width="0.7"/><circle cx="537.3" cy="253.6" r="2.2" fill="#1e5ef0" stroke="#111" stroke-width="0.7"/><circle cx="559.9" cy="261.9" r="2.2" fill="#1e5ef0" stroke="#111" stroke-width="0.7"/><circle cx="584.2" cy="253.6" r="2.2" fill="#1e5ef0" stroke="#111" stroke-width="0.7"/><circle cx="601.3" cy="245.4" r="2.2" fill="#1e5ef0" stroke="#111" stroke-width="0.7"/><circle cx="504.6" cy="259.8" r="2.2" fill="#f25c5c" stroke="#111" stroke-width="0.7"/><circle cx="512.7" cy="261.9" r="2.2" fill="#f25c5c" stroke="#111" stroke-width="0.7"/><circle cx="517.1" cy="261.9" r="2.2" fill="#f25c5c" stroke="#111" stroke-width="0.7"/><circle cx="534.2" cy="270.1" r="2.2" fill="#f25c5c" stroke="#111" stroke-width="0.7"/><circle cx="548.9" cy="270.1" r="2.2" fill="#f25c5c" stroke="#111" stroke-width="0.7"/><circle cx="562.9" cy="274.3" r="2.2" fill="#f25c5c" stroke="#111" stroke-width="0.7"/><circle cx="579.4" cy="266.0" r="2.2" fill="#f25c5c" stroke="#111" stroke-width="0.7"/><circle cx="601.3" cy="266.0" r="2.2" fill="#f25c5c" stroke="#111" stroke-width="0.7"/><circle cx="634.9" cy="253.6" r="2.2" fill="#f25c5c" stroke="#111" stroke-width="0.7"/>
<path d="M490.4 203.8H648.3V307.3H490.4ZM495.8 307.3v-4.5M495.8 203.8v4.5M501.9 307.3v-2.5M501.9 203.8v2.5M508.0 307.3v-2.5M508.0 203.8v2.5M514.1 307.3v-2.5M514.1 203.8v2.5M520.2 307.3v-2.5M520.2 203.8v2.5M526.3 307.3v-4.5M526.3 203.8v4.5M532.4 307.3v-2.5M532.4 203.8v2.5M538.5 307.3v-2.5M538.5 203.8v2.5M544.6 307.3v-2.5M544.6 203.8v2.5M550.7 307.3v-2.5M550.7 203.8v2.5M556.8 307.3v-4.5M556.8 203.8v4.5M562.9 307.3v-2.5M562.9 203.8v2.5M569.0 307.3v-2.5M569.0 203.8v2.5M575.1 307.3v-2.5M575.1 203.8v2.5M581.2 307.3v-2.5M581.2 203.8v2.5M587.3 307.3v-4.5M587.3 203.8v4.5M593.4 307.3v-2.5M593.4 203.8v2.5M599.5 307.3v-2.5M599.5 203.8v2.5M605.6 307.3v-2.5M605.6 203.8v2.5M611.7 307.3v-2.5M611.7 203.8v2.5M617.8 307.3v-4.5M617.8 203.8v4.5M623.9 307.3v-2.5M623.9 203.8v2.5M630.0 307.3v-2.5M630.0 203.8v2.5M636.1 307.3v-2.5M636.1 203.8v2.5M642.2 307.3v-2.5M642.2 203.8v2.5M648.3 307.3v-4.5M648.3 203.8v4.5M490.4 303.2h2.5M648.3 303.2h-2.5M490.4 299.0h2.5M648.3 299.0h-2.5M490.4 294.9h2.5M648.3 294.9h-2.5M490.4 290.8h2.5M648.3 290.8h-2.5M490.4 282.5h2.5M648.3 282.5h-2.5M490.4 278.4h2.5M648.3 278.4h-2.5M490.4 274.3h2.5M648.3 274.3h-2.5M490.4 270.1h2.5M648.3 270.1h-2.5M490.4 261.9h2.5M648.3 261.9h-2.5M490.4 257.7h2.5M648.3 257.7h-2.5M490.4 253.6h2.5M648.3 253.6h-2.5M490.4 249.5h2.5M648.3 249.5h-2.5M490.4 241.2h2.5M648.3 241.2h-2.5M490.4 237.1h2.5M648.3 237.1h-2.5M490.4 233.0h2.5M648.3 233.0h-2.5M490.4 228.8h2.5M648.3 228.8h-2.5M490.4 220.6h2.5M648.3 220.6h-2.5M490.4 216.4h2.5M648.3 216.4h-2.5M490.4 212.3h2.5M648.3 212.3h-2.5M490.4 208.2h2.5M648.3 208.2h-2.5M490.4 307.3h4.5M648.3 307.3h-4.5M490.4 286.7h4.5M648.3 286.7h-4.5M490.4 266.0h4.5M648.3 266.0h-4.5M490.4 245.4h4.5M648.3 245.4h-4.5M490.4 224.7h4.5M648.3 224.7h-4.5M490.4 204.1h4.5M648.3 204.1h-4.5" stroke="#1e1e1e" stroke-width="0.9" fill="none"/>
<g font-size="9.9" fill="#1a1a1a" text-anchor="end"><text x="483.7" y="310.9">0.00</text><text x="483.7" y="290.3">0.05</text><text x="483.7" y="269.6">0.10</text><text x="483.7" y="249.0">0.15</text><text x="483.7" y="228.3">0.20</text><text x="483.7" y="207.7">0.25</text></g>
<g font-size="10.2" fill="#1a1a1a"><text x="495.8" y="319.7" text-anchor="middle">0.0</text><text x="526.3" y="319.7" text-anchor="middle">0.5</text><text x="556.8" y="319.7" text-anchor="middle">1.0</text><text x="587.3" y="319.7" text-anchor="middle">1.5</text><text x="617.8" y="319.7" text-anchor="middle">2.0</text><text x="648.3" y="319.7" text-anchor="middle">2.5</text></g>
<text x="573.3" y="332.5" font-size="10.2" text-anchor="middle" fill="#1a1a1a">Fluence (mJ·cm<tspan font-size="6.5" dy="-3.5">-2</tspan><tspan dy="3.5">)</tspan></text>
<circle cx="608.3" cy="285.0" r="2.2" fill="#f25c5c" stroke="#111" stroke-width="0.7"/><circle cx="608.3" cy="296.8" r="2.2" fill="#1e5ef0" stroke="#111" stroke-width="0.7"/>
<g font-size="9.8" fill="#1a1a1a"><text x="614" y="288.5">2×2×2</text><text x="614" y="300.3">2×2×1</text></g>
<text x="449.6" y="204.8" font-size="19" fill="#111">c</text>
<text transform="translate(458.3 256.2) rotate(-90)" font-size="9.45" text-anchor="middle" fill="#1a1a1a">Melting time (ps)</text>
<rect x="490.4" y="401.1" width="157.89999999999998" height="9.4" fill="#dceafc" fill-opacity="0.75"/>
<rect x="490.4" y="387.4" width="157.89999999999998" height="16.3" fill="#fde0e0" fill-opacity="0.7"/>
<rect x="490.4" y="404.2" width="157.89999999999998" height="2.4" fill="#bcd4f6" fill-opacity="0.8"/>
<rect x="490.4" y="396.5" width="157.89999999999998" height="2.4" fill="#fcc8c8" fill-opacity="0.8"/>
<path d="M499.3 409.7V415.8M497.9 409.7h2.8M497.9 415.8h2.8" stroke="#333" stroke-width="0.8" fill="none"/><path d="M503.1 395.9V413.1M501.7 395.9h2.8M501.7 413.1h2.8" stroke="#333" stroke-width="0.8" fill="none"/><path d="M508.0 389.9V415.7M506.6 389.9h2.8M506.6 415.7h2.8" stroke="#333" stroke-width="0.8" fill="none"/><path d="M523.5 395.9V413.1M522.1 395.9h2.8M522.1 413.1h2.8" stroke="#333" stroke-width="0.8" fill="none"/><path d="M537.3 395.9V413.1M535.9 395.9h2.8M535.9 413.1h2.8" stroke="#333" stroke-width="0.8" fill="none"/><path d="M559.9 399.4V416.5M558.5 399.4h2.8M558.5 416.5h2.8" stroke="#333" stroke-width="0.8" fill="none"/><path d="M584.2 392.5V409.7M582.9 392.5h2.8M582.9 409.7h2.8" stroke="#333" stroke-width="0.8" fill="none"/><path d="M601.3 401.1V418.2M599.9 401.1h2.8M599.9 418.2h2.8" stroke="#333" stroke-width="0.8" fill="none"/><path d="M504.6 406.2V423.4M503.2 406.2h2.8M503.2 423.4h2.8" stroke="#333" stroke-width="0.8" fill="none"/><path d="M512.7 397.7V414.8M511.3 397.7h2.8M511.3 414.8h2.8" stroke="#333" stroke-width="0.8" fill="none"/><path d="M517.1 399.4V411.4M515.8 399.4h2.8M515.8 411.4h2.8" stroke="#333" stroke-width="0.8" fill="none"/><path d="M534.2 383.9V409.7M532.8 383.9h2.8M532.8 409.7h2.8" stroke="#333" stroke-width="0.8" fill="none"/><path d="M548.9 394.7V411.9M547.5 394.7h2.8M547.5 411.9h2.8" stroke="#333" stroke-width="0.8" fill="none"/><path d="M562.9 374.9V409.2M561.5 374.9h2.8M561.5 409.2h2.8" stroke="#333" stroke-width="0.8" fill="none"/><path d="M579.4 361.6V395.9M578.0 361.6h2.8M578.0 395.9h2.8" stroke="#333" stroke-width="0.8" fill="none"/><path d="M601.3 378.8V413.1M599.9 378.8h2.8M599.9 413.1h2.8" stroke="#333" stroke-width="0.8" fill="none"/><path d="M634.9 378.8V413.1M633.5 378.8h2.8M633.5 413.1h2.8" stroke="#333" stroke-width="0.8" fill="none"/><circle cx="499.3" cy="412.8" r="2.2" fill="#1e5ef0" stroke="#111" stroke-width="0.7"/><circle cx="503.1" cy="404.5" r="2.2" fill="#1e5ef0" stroke="#111" stroke-width="0.7"/><circle cx="508.0" cy="402.8" r="2.2" fill="#1e5ef0" stroke="#111" stroke-width="0.7"/><circle cx="523.5" cy="404.5" r="2.2" fill="#1e5ef0" stroke="#111" stroke-width="0.7"/><circle cx="537.3" cy="404.5" r="2.2" fill="#1e5ef0" stroke="#111" stroke-width="0.7"/><circle cx="559.9" cy="408.0" r="2.2" fill="#1e5ef0" stroke="#111" stroke-width="0.7"/><circle cx="584.2" cy="401.1" r="2.2" fill="#1e5ef0" stroke="#111" stroke-width="0.7"/><circle cx="601.3" cy="409.7" r="2.2" fill="#1e5ef0" stroke="#111" stroke-width="0.7"/><circle cx="504.6" cy="414.8" r="2.2" fill="#f25c5c" stroke="#111" stroke-width="0.7"/><circle cx="512.7" cy="406.2" r="2.2" fill="#f25c5c" stroke="#111" stroke-width="0.7"/><circle cx="517.1" cy="405.4" r="2.2" fill="#f25c5c" stroke="#111" stroke-width="0.7"/><circle cx="534.2" cy="396.8" r="2.2" fill="#f25c5c" stroke="#111" stroke-width="0.7"/><circle cx="548.9" cy="403.3" r="2.2" fill="#f25c5c" stroke="#111" stroke-width="0.7"/><circle cx="562.9" cy="392.0" r="2.2" fill="#f25c5c" stroke="#111" stroke-width="0.7"/><circle cx="579.4" cy="378.8" r="2.2" fill="#f25c5c" stroke="#111" stroke-width="0.7"/><circle cx="601.3" cy="395.9" r="2.2" fill="#f25c5c" stroke="#111" stroke-width="0.7"/><circle cx="634.9" cy="395.9" r="2.2" fill="#f25c5c" stroke="#111" stroke-width="0.7"/>
<path d="M490.4 344.5H648.3V447.4H490.4ZM495.8 447.4v-4.5M495.8 344.5v4.5M501.9 447.4v-2.5M501.9 344.5v2.5M508.0 447.4v-2.5M508.0 344.5v2.5M514.1 447.4v-2.5M514.1 344.5v2.5M520.2 447.4v-2.5M520.2 344.5v2.5M526.3 447.4v-4.5M526.3 344.5v4.5M532.4 447.4v-2.5M532.4 344.5v2.5M538.5 447.4v-2.5M538.5 344.5v2.5M544.6 447.4v-2.5M544.6 344.5v2.5M550.7 447.4v-2.5M550.7 344.5v2.5M556.8 447.4v-4.5M556.8 344.5v4.5M562.9 447.4v-2.5M562.9 344.5v2.5M569.0 447.4v-2.5M569.0 344.5v2.5M575.1 447.4v-2.5M575.1 344.5v2.5M581.2 447.4v-2.5M581.2 344.5v2.5M587.3 447.4v-4.5M587.3 344.5v4.5M593.4 447.4v-2.5M593.4 344.5v2.5M599.5 447.4v-2.5M599.5 344.5v2.5M605.6 447.4v-2.5M605.6 344.5v2.5M611.7 447.4v-2.5M611.7 344.5v2.5M617.8 447.4v-4.5M617.8 344.5v4.5M623.9 447.4v-2.5M623.9 344.5v2.5M630.0 447.4v-2.5M630.0 344.5v2.5M636.1 447.4v-2.5M636.1 344.5v2.5M642.2 447.4v-2.5M642.2 344.5v2.5M648.3 447.4v-4.5M648.3 344.5v4.5M490.4 430.2h2.5M648.3 430.2h-2.5M490.4 395.9h2.5M648.3 395.9h-2.5M490.4 361.6h2.5M648.3 361.6h-2.5M490.4 438.8h2.5M648.3 438.8h-2.5M490.4 421.7h2.5M648.3 421.7h-2.5M490.4 404.5h2.5M648.3 404.5h-2.5M490.4 387.4h2.5M648.3 387.4h-2.5M490.4 370.2h2.5M648.3 370.2h-2.5M490.4 353.1h2.5M648.3 353.1h-2.5M490.4 447.4h4.5M648.3 447.4h-4.5M490.4 413.1h4.5M648.3 413.1h-4.5M490.4 378.8h4.5M648.3 378.8h-4.5M490.4 344.5h4.5M648.3 344.5h-4.5" stroke="#1e1e1e" stroke-width="0.9" fill="none"/>
<g font-size="9.9" fill="#1a1a1a" text-anchor="end"><text x="482.9" y="451.0">0.0</text><text x="482.9" y="416.7">0.2</text><text x="482.9" y="382.4">0.4</text><text x="482.9" y="348.1">0.6</text></g>
<g font-size="10.2" fill="#1a1a1a"><text x="495.8" y="459.79999999999995" text-anchor="middle">0.0</text><text x="526.3" y="459.79999999999995" text-anchor="middle">0.5</text><text x="556.8" y="459.79999999999995" text-anchor="middle">1.0</text><text x="587.3" y="459.79999999999995" text-anchor="middle">1.5</text><text x="617.8" y="459.79999999999995" text-anchor="middle">2.0</text><text x="648.3" y="459.79999999999995" text-anchor="middle">2.5</text></g>
<text x="573.3" y="472.6" font-size="10.2" text-anchor="middle" fill="#1a1a1a">Fluence (mJ·cm<tspan font-size="6.5" dy="-3.5">-2</tspan><tspan dy="3.5">)</tspan></text>
<circle cx="608.3" cy="426.6" r="2.2" fill="#f25c5c" stroke="#111" stroke-width="0.7"/><circle cx="608.3" cy="438.4" r="2.2" fill="#1e5ef0" stroke="#111" stroke-width="0.7"/>
<g font-size="9.8" fill="#1a1a1a"><text x="614" y="430.1">2×2×2</text><text x="614" y="441.9">2×2×1</text></g>
<text x="449.6" y="345.5" font-size="19" fill="#111">d</text>
<text transform="translate(458.3 402.6) rotate(-90)" font-size="9.45" text-anchor="middle" fill="#1a1a1a">Short recovery time (ps)</text></svg>
</body></html>
